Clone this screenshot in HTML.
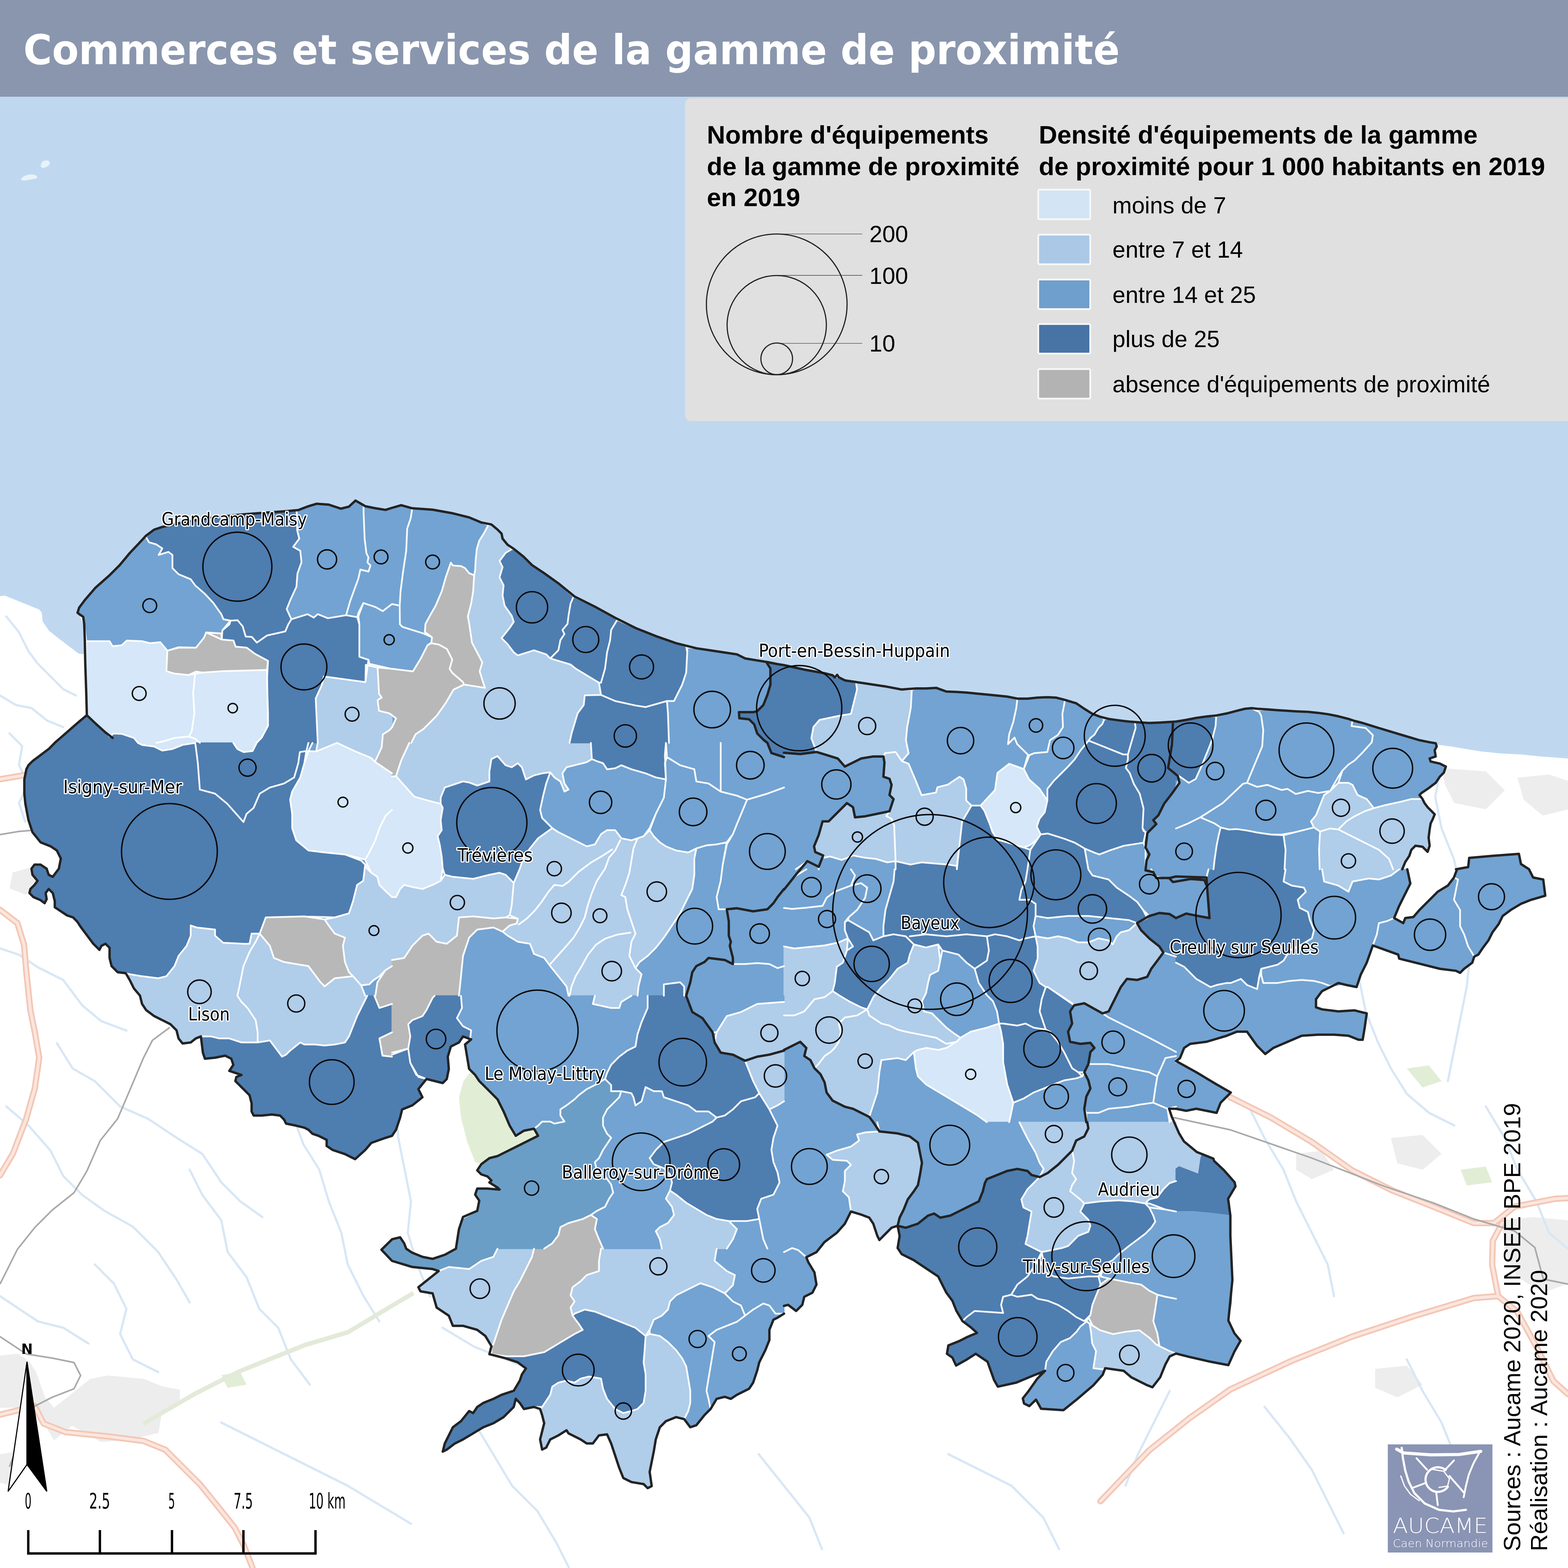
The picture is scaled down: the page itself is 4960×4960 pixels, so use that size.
<!DOCTYPE html>
<html><head><meta charset="utf-8"><title>Commerces et services de la gamme de proximité</title>
<style>
html,body{margin:0;padding:0;background:#fff}
body{width:4960px;height:4960px;overflow:hidden;position:relative}
svg{position:absolute;left:0;top:0;display:block}
.VL{fill:#d5e7f8;stroke:#d5e7f8}.L{fill:#b0cdea;stroke:#b0cdea}.M{fill:#72a3d2;stroke:#72a3d2}.D{fill:#4e7db0;stroke:#4e7db0}.G{fill:#b8b8b8;stroke:#b8b8b8}.MB{fill:#6a9ec6;stroke:#6a9ec6}
#fills polygon{stroke-width:3;stroke-linejoin:round}
.lbl{font-family:"DejaVu Sans Condensed","DejaVu Sans",sans-serif;font-size:57px;fill:#000;stroke:#fff;stroke-width:7px;paint-order:stroke;stroke-linejoin:round}
.leg{font-family:"Liberation Sans",Arial,sans-serif;fill:#000}
</style></head>
<body>
<svg width="4960" height="4960" viewBox="0 0 4960 4960" xmlns="http://www.w3.org/2000/svg">
<rect x="0" y="0" width="4960" height="4960" fill="#ffffff"/>
<g id="basemap"><path d="M0,4288 L57,4282 L91,4305 L114,4339 L142,4419 L171,4453 L285,4362 L342,4351 L456,4362 L512,4385 L569,4396 L569,4442 L512,4470 L501,4533 L399,4556 L319,4561 L228,4510 L171,4556 L114,4464 L57,4453 L0,4453Z" fill="#ededed"/><path d="M0,4600 L60,4590 L90,4640 L40,4700 L0,4690Z" fill="#ededed"/><path d="M4560,2430 L4700,2440 L4760,2500 L4700,2560 L4600,2540 L4570,2480Z" fill="#ededed"/><path d="M4800,2460 L4900,2450 L4960,2470 L4960,2560 L4880,2580 L4820,2530Z" fill="#ededed"/><path d="M4750,3860 L4850,3850 L4960,3860 L4960,4060 L4880,4090 L4800,4040 L4760,3960Z" fill="#ededed"/><path d="M4400,3600 L4500,3590 L4560,3650 L4500,3700 L4420,3680Z" fill="#ededed"/><path d="M4100,3650 L4180,3640 L4220,3700 L4150,3730 L4100,3700Z" fill="#ededed"/><path d="M4350,4330 L4450,4320 L4500,4380 L4420,4420 L4350,4390Z" fill="#ededed"/><path d="M40,2760 L110,2740 L140,2800 L80,2830 L30,2810Z" fill="#ededed"/><path d="M1466,3420 L1490,3388 L1522,3420 L1548,3446 L1580,3478 L1600,3516 L1620,3561 L1640,3593 L1657,3577 L1689,3570 L1702,3593 L1625,3631 L1574,3657 L1548,3663 L1522,3683 L1503,3676 L1478,3612 L1458,3535 L1452,3471Z" fill="#e2edd6"/><path d="M4450,3380 L4520,3370 L4560,3420 L4500,3440Z" fill="#e2edd6"/><path d="M4620,3700 L4700,3690 L4720,3740 L4640,3750Z" fill="#e2edd6"/><path d="M700,4350 L760,4340 L780,4380 L720,4390Z" fill="#e2edd6"/><path d="M1960,4560 L2000,4540 L2020,4600 L1980,4620Z" fill="#e2edd6"/><path d="M0,3000 L60,3020 L120,3060 L200,3100 L260,3180 L320,3230 L400,3260 M180,3300 L230,3380 L300,3420 L380,3500 L470,3540 L560,3600 L640,3650 L700,3740 L760,3800 L830,3850 M20,3500 L90,3560 L160,3640 L200,3720 L260,3780 L330,3830 L420,3880 L500,3960 L560,4050 L600,4120 M600,3700 L640,3780 L700,3860 L720,3960 L780,4040 L820,4140 L880,4200 L920,4300 L980,4380 M900,3450 L930,3540 L960,3620 L1010,3700 L1040,3800 L1080,3900 L1100,4000 L1150,4100 L1200,4180 M1250,3500 L1260,3600 L1280,3700 L1300,3800 L1290,3900 L1320,4000 L1360,4100 M300,4000 L360,4060 L400,4140 L380,4220 L420,4300 L500,4340 M0,4100 L60,4140 L120,4180 L200,4200 L280,4250 M1400,4200 L1500,4260 L1600,4300 L1700,4340 L1800,4380 L1900,4420 L2000,4440 M700,4500 L800,4550 L900,4600 L1000,4650 L1100,4700 L1200,4760 L1300,4820 M1500,4500 L1560,4600 L1620,4700 L1700,4780 L1760,4880 L1800,4960 M2400,4600 L2480,4700 L2560,4800 L2600,4900 M3000,4600 L3100,4650 L3200,4700 L3300,4800 L3350,4900 M3700,4400 L3650,4500 L3600,4600 L3560,4700 M4000,4450 L4080,4550 L4150,4650 L4200,4750 L4250,4850 M4450,4300 L4500,4400 L4560,4500 L4600,4600 L4650,4700 M4560,2420 L4540,2520 L4560,2620 L4600,2720 L4620,2820 L4640,2920 L4650,3020 L4640,3120 L4620,3220 L4600,3320 L4580,3420 M4300,3100 L4320,3200 L4360,3300 L4400,3380 L4450,3460 L4520,3520 L4600,3560 M3950,3500 L4000,3600 L4060,3700 L4100,3800 L4150,3900 L4200,4000 L4220,4100 M4700,3500 L4760,3600 L4800,3700 L4860,3800 L4900,3900 L4960,3950 M20,1950 L60,2000 L90,2060 L120,2100 L160,2140 L200,2180 L240,2200 M0,2200 L50,2230 L100,2240 L150,2280 L200,2300 M30,2320 L70,2360 L60,2420 L90,2480 L60,2540 L80,2600" fill="none" stroke="#d8e7f6" stroke-width="7" stroke-linejoin="round" stroke-linecap="round"/><path d="M454,4503 L620,4407 L757,4338 L964,4255 L1101,4214 L1239,4131 L1308,4090" fill="none" stroke="#e3ead9" stroke-width="14" stroke-linejoin="round"/><path d="M0,2878 L55,2920 L76,2988 L83,3071 L96,3195 L110,3264 L124,3346 L110,3443 L83,3539 L41,3649 L0,3718 M0,4475 L110,4448 L138,4503 L207,4530 L344,4544 L454,4558 L523,4586 L578,4641 L633,4696 L688,4764 L743,4833 L771,4888 L799,4960 M3892,3471 L4020,3535 L4149,3612 L4277,3702 L4405,3766 L4534,3817 L4662,3869 L4726,3869 L4791,3817 L4919,3792 L4960,3790 M3481,4749 L3635,4588 L3764,4485 L3892,4395 L4085,4305 L4277,4228 L4470,4164 L4662,4106 L4739,4100 L4800,4150 L4860,4260 L4914,4369 L4960,4410 M4739,4100 L4720,4000 L4722,3925 L4752,3869 M0,2465 L83,2451" fill="none" stroke="#f3c7b6" stroke-width="20" stroke-linejoin="round" stroke-linecap="round"/><path d="M0,2878 L55,2920 L76,2988 L83,3071 L96,3195 L110,3264 L124,3346 L110,3443 L83,3539 L41,3649 L0,3718 M0,4475 L110,4448 L138,4503 L207,4530 L344,4544 L454,4558 L523,4586 L578,4641 L633,4696 L688,4764 L743,4833 L771,4888 L799,4960 M3892,3471 L4020,3535 L4149,3612 L4277,3702 L4405,3766 L4534,3817 L4662,3869 L4726,3869 L4791,3817 L4919,3792 L4960,3790 M3481,4749 L3635,4588 L3764,4485 L3892,4395 L4085,4305 L4277,4228 L4470,4164 L4662,4106 L4739,4100 L4800,4150 L4860,4260 L4914,4369 L4960,4410 M4739,4100 L4720,4000 L4722,3925 L4752,3869 M0,2465 L83,2451" fill="none" stroke="#fbe6de" stroke-width="9" stroke-linejoin="round" stroke-linecap="round"/><path d="M537,3250 L482,3291 L454,3346 L413,3443 L372,3539 L317,3608 L275,3704 L234,3773 L165,3828 L110,3883 L55,3952 L0,4062 M0,4228 L83,4283 L165,4296 L234,4310 L255,4351 L234,4393 L165,4420 L110,4448 L83,4503 L55,4572 L30,4640 M3712,3535 L3892,3574 L4149,3663 L4380,3753 L4534,3805 L4662,3856 L4791,3894 L4855,3946 L4882,4046 L4960,4062 M0,2640 L60,2630 L120,2625" fill="none" stroke="#a9a9a9" stroke-width="5" stroke-linejoin="round"/></g>
<path id="sea" d="M0.0,306.0 L4960.0,306.0 L4960.0,2399.0 L4960.0,2399.3 L4875.3,2392.9 L4811.1,2386.4 L4746.9,2383.2 L4682.7,2376.8 L4586.5,2360.8 L4544.7,2355.6 L4541.5,2351.1 L4522.3,2347.9 L4490.2,2341.5 L4458.1,2331.9 L4426.0,2322.3 L4393.9,2312.6 L4361.8,2303.0 L4310.5,2287.0 L4284.8,2280.5 L4265.5,2274.1 L4233.5,2265.8 L4201.4,2259.4 L4169.3,2254.9 L4137.2,2251.7 L4105.1,2250.4 L4073.0,2248.4 L4040.9,2246.5 L4008.8,2244.0 L3976.7,2242.0 L3960.7,2240.1 L3938.2,2242.0 L3912.5,2248.4 L3880.5,2256.8 L3848.4,2263.2 L3816.3,2266.4 L3784.2,2270.9 L3752.1,2277.3 L3720.0,2282.5 L3699.5,2283.7 L3667.4,2285.7 L3635.3,2287.0 L3603.2,2285.0 L3571.1,2282.5 L3539.0,2278.6 L3506.9,2274.1 L3481.2,2267.7 L3455.6,2258.1 L3429.9,2242.0 L3404.2,2224.7 L3365.7,2213.1 L3340.0,2206.7 L3314.4,2205.4 L3282.3,2206.7 L3250.2,2209.9 L3218.1,2209.9 L3186.0,2203.5 L3153.9,2200.3 L3121.8,2197.1 L3089.7,2193.9 L3057.6,2190.7 L3025.5,2188.8 L2993.5,2187.5 L2961.4,2175.9 L2929.3,2177.8 L2897.2,2177.8 L2852.3,2181.1 L2800.9,2171.4 L2736.7,2161.8 L2672.5,2152.2 L2653.3,2142.5 L2648.2,2134.8 L2640.5,2142.5 L2634.0,2136.1 L2608.4,2129.7 L2544.2,2118.2 L2480.0,2104.0 L2459.5,2100.7 L2427.4,2094.3 L2395.3,2089.1 L2356.8,2082.7 L2331.1,2069.9 L2266.9,2060.2 L2202.7,2050.6 L2138.6,2034.6 L2074.4,2012.1 L2010.2,1986.4 L1946.0,1954.3 L1881.8,1919.0 L1817.6,1887.0 L1766.3,1845.2 L1721.4,1813.1 L1682.9,1787.5 L1657.2,1761.8 L1625.1,1736.1 L1605.8,1723.3 L1589.8,1704.0 L1586.6,1688.0 L1573.7,1675.2 L1554.5,1659.1 L1522.4,1652.7 L1483.9,1636.6 L1432.5,1623.8 L1368.4,1612.3 L1304.2,1607.8 L1268.9,1598.1 L1240.0,1606.5 L1219.5,1612.9 L1187.4,1607.8 L1155.3,1601.3 L1139.2,1591.7 L1124.5,1583.4 L1103.9,1602.6 L1078.3,1609.0 L1039.8,1596.2 L1001.2,1593.6 L975.6,1601.3 L943.5,1613.5 L898.6,1617.4 L834.4,1621.9 L770.2,1627.0 L706.0,1633.4 L641.8,1641.8 L577.6,1652.7 L513.5,1666.8 L487.8,1675.2 L462.1,1694.4 L436.4,1722.0 L410.8,1749.0 L378.7,1787.5 L346.6,1819.6 L301.7,1859.4 L269.6,1896.6 L250.3,1922.3 L245.2,1938.3 L253.5,1944.7 L263.1,1951.1 L266.4,1973.6 L268.3,2024.9 L269.6,2069.2 L259.0,2069.0 L248.0,2067.0 L181.0,2016.0 L155.0,1995.0 L135.0,1966.0 L132.0,1938.0 L124.0,1928.0 L15.0,1884.0 L0.0,1886.0Z" fill="#bfd8f0"/>
<path d="M70,562 C80,552 100,550 112,554 C122,558 118,566 108,566 C96,567 86,571 74,571 C66,570 64,566 70,562 Z M130,520 C132,510 142,506 152,508 C160,511 158,522 150,526 C142,531 136,532 132,530 C128,527 128,524 130,520 Z" fill="#e9f1f9"/>
<path id="terr" d="M90,2421 L83,2433 L77,2466 L77,2511 L80,2543 L90,2594 L103,2632 L128,2664 L160,2677 L179,2690 L192,2717 L186,2748 L166,2772 L155,2767 L148,2748 L128,2735 L109,2735 L100,2748 L103,2767 L116,2783 L117,2788 L96,2812 L93,2825 L106,2838 L128,2847 L141,2857 L148,2844 L145,2824 L152,2816 L158,2816 L167,2827 L173,2851 L173,2870 L212,2896 L232,2903 L244,2915 L295,2985 L314,3005 L322,2992 L332,2987 L337,2988 L346,3000 L347,3030 L353,3056 L372,3075 L399,3080 L424,3127 L442,3149 L449,3176 L462,3195 L488,3214 L540,3241 L558,3259 L565,3285 L578,3301 L603,3298 L620,3285 L632,3281 L636,3286 L642,3330 L648,3349 L680,3346 L712,3340 L731,3349 L737,3368 L725,3387 L751,3397 L752,3403 L748,3407 L745,3420 L789,3465 L796,3490 L796,3516 L802,3529 L860,3526 L885,3529 L898,3541 L905,3554 L962,3567 L975,3573 L988,3586 L1008,3593 L1031,3605 L1033,3609 L1033,3625 L1052,3638 L1091,3650 L1123,3667 L1155,3638 L1175,3615 L1240,3593 L1253,3574 L1272,3510 L1304,3497 L1336,3471 L1325,3445 L1347,3415 L1353,3414 L1400,3426 L1413,3413 L1420,3381 L1417,3343 L1426,3312 L1452,3298 L1465,3280 L1469,3280 L1481,3286 L1482,3293 L1471,3304 L1484,3381 L1503,3400 L1516,3420 L1574,3478 L1612,3561 L1632,3593 L1657,3577 L1686,3571 L1691,3574 L1699,3588 L1699,3593 L1574,3657 L1548,3663 L1522,3683 L1510,3702 L1522,3715 L1543,3722 L1552,3732 L1548,3740 L1565,3751 L1566,3757 L1561,3761 L1510,3760 L1503,3779 L1516,3799 L1510,3828 L1507,3832 L1458,3856 L1443,3947 L1440,3951 L1407,3969 L1369,3982 L1337,3976 L1304,3963 L1286,3951 L1279,3933 L1266,3914 L1240,3920 L1207,3953 L1240,3989 L1304,4008 L1368,4014 L1379,4018 L1381,4022 L1379,4027 L1323,4072 L1330,4085 L1368,4092 L1381,4136 L1419,4162 L1433,4194 L1465,4194 L1510,4207 L1535,4226 L1554,4257 L1554,4284 L1638,4309 L1660,4326 L1661,4331 L1651,4348 L1644,4368 L1625,4399 L1587,4412 L1529,4438 L1510,4451 L1497,4468 L1484,4463 L1458,4495 L1433,4515 L1407,4566 L1400,4592 L1413,4585 L1439,4566 L1465,4553 L1528,4515 L1561,4502 L1593,4483 L1625,4451 L1630,4434 L1636,4431 L1644,4438 L1657,4457 L1689,4451 L1704,4451 L1708,4454 L1721,4502 L1709,4553 L1715,4585 L1728,4579 L1741,4553 L1789,4527 L1793,4527 L1798,4534 L1837,4553 L1856,4566 L1875,4566 L1895,4541 L1919,4538 L1922,4541 L1933,4566 L1972,4675 L1997,4688 L2035,4695 L2049,4707 L2062,4701 L2055,4656 L2074,4553 L2087,4515 L2107,4496 L2139,4483 L2164,4490 L2183,4515 L2203,4508 L2228,4477 L2248,4457 L2267,4425 L2292,4419 L2312,4425 L2331,4412 L2370,4393 L2382,4374 L2402,4309 L2421,4271 L2434,4239 L2434,4207 L2446,4176 L2480,4155 L2480,4134 L2484,4130 L2494,4129 L2519,4147 L2538,4128 L2544,4103 L2570,4089 L2583,4064 L2576,4025 L2557,3993 L2552,3981 L2553,3977 L2583,3961 L2609,3929 L2647,3900 L2673,3871 L2690,3836 L2694,3834 L2724,3842 L2750,3852 L2762,3871 L2782,3922 L2820,3884 L2834,3879 L2839,3880 L2846,3909 L2839,3948 L2852,3967 L2891,3987 L2968,4039 L2993,4089 L3013,4115 L3026,4147 L3045,4179 L3071,4198 L3085,4213 L3082,4220 L3000,4256 L2995,4282 L3013,4295 L3024,4320 L3084,4284 L3089,4284 L3124,4308 L3144,4365 L3156,4386 L3215,4373 L3279,4347 L3285,4348 L3286,4356 L3235,4424 L3239,4440 L3256,4448 L3272,4432 L3276,4431 L3281,4434 L3293,4456 L3364,4461 L3459,4382 L3488,4348 L3495,4332 L3499,4329 L3554,4336 L3579,4357 L3646,4388 L3670,4357 L3687,4316 L3699,4292 L3719,4282 L3828,4307 L3886,4318 L3905,4276 L3924,4241 L3905,4217 L3886,4176 L3895,4121 L3898,3999 L3892,3910 L3892,3845 L3885,3793 L3908,3753 L3906,3740 L3872,3702 L3841,3673 L3838,3665 L3801,3654 L3786,3644 L3745,3611 L3730,3585 L3721,3564 L3720,3550 L3703,3550 L3699,3547 L3694,3512 L3697,3506 L3714,3503 L3720,3507 L3752,3514 L3785,3507 L3848,3520 L3861,3488 L3893,3456 L3726,3359 L3725,3353 L3733,3347 L3746,3315 L3765,3302 L3816,3296 L3880,3276 L3914,3263 L3945,3265 L3977,3308 L4002,3334 L4029,3315 L4118,3276 L4169,3273 L4221,3273 L4265,3276 L4298,3289 L4310,3289 L4323,3206 L4285,3196 L4233,3199 L4182,3193 L4164,3185 L4163,3162 L4182,3135 L4220,3122 L4259,3116 L4291,3122 L4304,3084 L4323,3045 L4343,2994 L4348,2993 L4420,3019 L4423,3022 L4426,3032 L4554,3064 L4605,3071 L4619,3077 L4632,3064 L4657,3045 L4663,3027 L4676,3020 L4708,2975 L4721,2949 L4740,2923 L4754,2897 L4779,2878 L4811,2859 L4843,2846 L4888,2833 L4882,2782 L4849,2775 L4837,2750 L4811,2732 L4805,2701 L4647,2714 L4643,2742 L4606,2750 L4607,2755 L4599,2775 L4580,2801 L4548,2821 L4490,2878 L4472,2900 L4445,2904 L4441,2915 L4436,2918 L4413,2905 L4412,2900 L4426,2866 L4461,2795 L4452,2750 L4442,2750 L4439,2745 L4445,2727 L4458,2707 L4465,2688 L4476,2677 L4499,2679 L4516,2695 L4522,2675 L4519,2649 L4522,2624 L4526,2604 L4538,2576 L4516,2553 L4492,2515 L4497,2508 L4542,2476 L4554,2457 L4567,2444 L4574,2425 L4554,2415 L4528,2409 L4525,2406 L4526,2399 L4542,2393 L4539,2374 L4545,2361 L4542,2351 L4490,2341 L4234,2266 L4169,2255 L4009,2244 L3972,2246 L3961,2240 L3938,2242 L3847,2266 L3816,2266 L3708,2285 L3635,2287 L3571,2282 L3507,2274 L3494,2275 L3456,2258 L3404,2225 L3340,2207 L3314,2205 L3250,2210 L3218,2210 L3186,2204 L3058,2191 L2994,2187 L2961,2176 L2897,2178 L2884,2182 L2852,2181 L2673,2152 L2637,2136 L2480,2104 L2358,2083 L2331,2070 L2175,2047 L2170,2044 L2074,2012 L1953,1961 L1946,1954 L1882,1919 L1815,1887 L1766,1845 L1683,1787 L1657,1762 L1625,1736 L1617,1735 L1590,1705 L1587,1688 L1554,1659 L1544,1660 L1484,1637 L1432,1624 L1369,1612 L1304,1608 L1269,1598 L1218,1613 L1150,1599 L1124,1583 L1104,1602 L1079,1609 L1040,1596 L1001,1594 L938,1614 L770,1627 L642,1642 L578,1653 L514,1667 L488,1675 L461,1698 L436,1722 L378,1788 L347,1819 L302,1860 L250,1922 L245,1938 L254,1946 L266,1973 L273,2028 L270,2096 L274,2261 L173,2350 L154,2370 L103,2408 L90,2421Z" fill="#72a3d2"/>
<g id="fills">
<polygon class="M" points="266.4,1973.6 253.5,1944.7 245.2,1938.3 250.3,1922.3 269.6,1896.6 301.7,1859.4 346.6,1819.6 378.7,1787.5 410.8,1749.0 436.4,1722.0 460.8,1697.6 471.7,1715.6 494.2,1722.0 513.5,1734.8 501.9,1755.4 532.7,1745.8 545.5,1755.4 545.5,1797.1 564.8,1816.4 603.3,1832.4 617.4,1851.7 648.2,1878.6 674.6,1906.9 700.2,1942.8 706.6,1958.8 729.1,1963.3 725.9,1974.9 703.4,1994.1 701.5,2023.0 652.1,2000.6 645.7,2016.6 620.0,2048.7 564.8,2047.4 529.5,2058.3 507.0,2031.4 474.9,2034.6 449.3,2028.2 401.1,2026.2 385.1,2041.0 356.2,2044.2 346.6,2028.2 272.8,2028.2"/>
<polygon class="D" points="460.8,1697.6 487.8,1675.2 513.5,1666.8 577.6,1652.7 641.8,1641.8 706.0,1633.4 770.2,1627.0 834.4,1621.9 898.6,1617.4 938.3,1614.2 940.3,1678.4 946.7,1704.0 927.4,1729.7 949.9,1742.5 953.7,1778.5 940.9,1814.4 937.7,1856.1 918.4,1897.9 906.9,1926.7 921.7,1958.8 912.0,1974.9 902.4,1997.3 844.6,2010.2 812.5,2032.7 796.5,2014.7 777.2,2013.4 767.6,1981.3 751.6,1962.0 729.1,1963.3 706.6,1958.8 700.2,1942.8 674.6,1906.9 648.2,1878.6 617.4,1851.7 603.3,1832.4 564.8,1816.4 545.5,1797.1 545.5,1755.4 532.7,1745.8 501.9,1755.4 513.5,1734.8 494.2,1722.0 471.7,1715.6"/>
<polygon class="M" points="938.3,1614.2 975.6,1601.3 1001.2,1593.6 1039.8,1596.2 1078.3,1609.0 1103.9,1602.6 1124.5,1583.4 1139.2,1591.7 1150.1,1598.8 1150.1,1620.6 1153.4,1704.0 1159.1,1750.2 1165.5,1763.1 1162.3,1779.1 1172.0,1788.8 1165.5,1808.0 1139.9,1801.6 1133.5,1830.5 1107.8,1901.1 1094.9,1946.0 1037.2,1955.6 1005.1,1942.8 992.3,1953.7 973.0,1942.8 921.7,1958.8 906.9,1926.7 918.4,1897.9 937.7,1856.1 940.9,1814.4 953.7,1778.5 949.9,1742.5 927.4,1729.7 946.7,1704.0 940.3,1678.4"/>
<polygon class="M" points="1150.1,1598.8 1187.4,1607.8 1219.5,1612.9 1240.0,1607.8 1240.0,1910.7 1210.5,1933.2 1188.0,1920.3 1149.5,1907.5 1133.5,1939.6 1130.2,1952.4 1094.9,1946.0 1107.8,1901.1 1133.5,1830.5 1139.9,1801.6 1165.5,1808.0 1172.0,1788.8 1162.3,1779.1 1165.5,1763.1 1159.1,1750.2 1153.4,1704.0 1150.1,1620.6"/>
<polygon class="M" points="1133.5,1949.2 1149.5,1907.5 1188.0,1920.3 1210.5,1933.2 1240.0,1910.7 1240.0,2116.1 1168.8,2100.0 1165.5,2087.2 1136.7,2077.6 1136.7,1974.9"/>
<polygon class="D" points="729.1,1963.3 751.6,1962.0 767.6,1981.3 777.2,2013.4 796.5,2014.7 812.5,2032.7 844.6,2010.2 902.4,1997.3 912.0,1974.9 921.7,1958.8 973.0,1942.8 992.3,1953.7 1005.1,1942.8 1037.2,1955.6 1094.9,1946.0 1130.2,1952.4 1136.7,1974.9 1136.7,2077.6 1165.5,2087.2 1155.9,2157.8 1024.3,2139.8 1017.9,2167.4 998.7,2209.2 1005.1,2349.7 811.9,2349.7 828.0,2333.0 847.8,2295.8 844.6,2151.4 847.8,2090.4 806.1,2068.0 780.5,2048.7 745.2,2045.5 738.7,2026.2 701.5,2023.0 703.4,1994.1"/>
<polygon class="G" points="529.5,2058.3 564.8,2048.7 620.0,2048.7 645.7,2016.6 652.1,2000.6 700.2,2003.8 701.5,2023.0 738.7,2026.2 745.2,2045.5 780.5,2048.7 806.1,2068.0 847.8,2090.4 844.6,2119.3 770.2,2121.2 706.0,2123.1 641.8,2127.6 620.0,2124.4 596.9,2135.3 552.0,2130.8 526.3,2123.1"/>
<polygon class="VL" points="272.8,2028.2 346.6,2028.2 356.2,2044.2 385.1,2041.0 401.1,2026.2 449.3,2028.2 474.9,2034.6 507.0,2031.4 529.5,2058.3 526.3,2123.1 552.0,2130.8 596.9,2135.3 617.4,2130.8 611.0,2191.8 614.9,2256.0 606.5,2313.8 596.9,2329.8 552.0,2334.3 513.5,2345.9 494.2,2349.7 436.4,2349.7 423.6,2334.3 385.1,2321.5 359.4,2320.2 346.6,2329.8 333.7,2317.0 301.7,2288.1 274.7,2262.4 272.8,2191.8 269.6,2095.5"/>
<polygon class="VL" points="617.4,2130.8 641.8,2127.6 706.0,2123.1 770.2,2121.2 844.6,2119.3 845.9,2191.8 847.8,2256.0 847.8,2295.8 828.0,2333.0 811.9,2349.7 632.2,2349.7 616.1,2336.2 596.9,2329.8 606.5,2313.8 614.9,2256.0 611.0,2191.8"/>
<polygon class="L" points="1024.3,2139.8 1155.9,2157.8 1157.2,2103.3 1194.4,2111.6 1198.9,2194.4 1207.3,2206.6 1194.4,2214.9 1198.9,2248.3 1231.7,2256.6 1240.0,2262.4 1240.0,2300.9 1231.7,2309.9 1211.1,2322.8 1208.6,2349.7 1005.1,2349.7 998.7,2209.2 1017.9,2167.4"/>
<polygon class="G" points="1194.4,2111.6 1240.0,2115.4 1240.0,2262.4 1231.7,2256.6 1198.9,2248.3 1194.4,2214.9 1207.3,2206.6 1198.9,2194.4"/>
<polygon class="G" points="1240.0,2300.9 1240.0,2349.7 1208.6,2349.7 1211.1,2322.8 1231.7,2309.9"/>
<polygon class="D" points="173.3,2349.7 192.5,2333.0 243.9,2288.1 274.7,2262.4 301.7,2288.1 333.7,2317.0 346.6,2329.8 359.4,2320.2 385.1,2321.5 423.6,2334.3 436.4,2349.7"/>
<polygon class="VL" points="494.2,2349.7 513.5,2345.9 552.0,2334.3 596.9,2329.8 616.1,2336.2 632.2,2349.7"/>
<polygon class="D" points="173.3,2350.0 436.4,2350.0 449.3,2356.4 487.8,2361.6 513.5,2374.4 545.5,2369.3 577.6,2356.4 617.4,2350.0 619.4,2362.8 625.8,2414.2 632.2,2497.6 680.3,2510.5 718.8,2542.5 770.2,2600.3 779.8,2574.6 802.3,2555.4 821.5,2510.5 853.6,2491.2 898.6,2478.4 930.6,2459.1 943.5,2414.2 948.6,2378.9 969.2,2375.7 975.6,2350.0 988.4,2350.0 975.6,2375.7 962.7,2414.2 949.9,2459.1 924.2,2504.0 917.8,2529.7 924.2,2574.6 924.2,2619.6 937.1,2658.1 975.6,2690.2 1026.9,2696.6 1091.1,2703.0 1142.4,2722.3 1155.3,2735.1 1148.9,2786.4 1129.6,2799.3 1116.8,2850.6 1103.9,2889.1 1059.0,2902.0 962.7,2898.8 840.8,2902.0 821.5,2953.3 795.9,2953.3 789.4,2985.4 770.2,2985.4 706.0,2982.2 680.3,2959.7 680.3,2940.5 622.6,2934.1 603.3,2927.6 603.3,2959.7 590.5,2991.8 564.8,3023.9 552.0,3056.0 526.3,3088.1 500.6,3094.5 449.3,3088.1 410.8,3081.7 397.9,3078.5 372.3,3075.3 353.0,3056.0 346.6,3030.3 346.6,2998.2 333.7,2985.4 320.9,2991.8 314.5,3004.7 295.2,2985.4 276.0,2959.7 256.7,2934.1 243.9,2914.8 231.1,2902.0 211.8,2895.5 192.5,2882.7 173.3,2869.9 173.3,2850.6 166.9,2824.9 154.0,2812.1 144.4,2824.9 147.6,2844.2 141.2,2857.0 128.4,2847.4 105.9,2837.8 93.1,2824.9 96.3,2812.1 109.1,2799.3 118.7,2786.4 102.7,2767.2 99.5,2747.9 109.1,2735.1 128.4,2735.1 147.6,2747.9 154.0,2767.2 166.9,2773.6 186.1,2747.9 192.5,2715.8 179.7,2690.2 160.5,2677.3 128.4,2664.5 102.7,2632.4 89.9,2593.9 80.2,2542.5 77.0,2510.5 77.0,2465.5 83.4,2433.4 89.9,2420.6 102.7,2407.8 128.4,2388.5 154.0,2369.3"/>
<polygon class="D" points="617.4,2350.0 738.1,2350.0 750.9,2369.3 770.2,2378.9 799.1,2375.7 808.7,2356.4 811.9,2350.0 975.6,2350.0 969.2,2375.7 948.6,2378.9 943.5,2414.2 930.6,2459.1 898.6,2478.4 853.6,2491.2 821.5,2510.5 802.3,2555.4 779.8,2574.6 770.2,2600.3 718.8,2542.5 680.3,2510.5 632.2,2497.6 625.8,2414.2 619.4,2362.8"/>
<polygon class="VL" points="436.4,2350.0 617.4,2350.0 577.6,2356.4 545.5,2369.3 513.5,2374.4 487.8,2361.6 449.3,2356.4"/>
<polygon class="VL" points="738.1,2350.0 811.9,2350.0 808.7,2356.4 799.1,2375.7 770.2,2378.9 750.9,2369.3"/>
<polygon class="VL" points="969.2,2375.7 1000.0,2377.0 1066.1,2350.0 1124.5,2377.0 1173.9,2397.5 1186.1,2409.7 1240.0,2446.3 1240.0,2561.8 1219.5,2581.1 1200.2,2619.6 1187.4,2658.1 1168.1,2696.6 1155.3,2719.0 1091.1,2703.0 1026.9,2696.6 975.6,2690.2 937.1,2658.1 924.2,2619.6 924.2,2574.6 917.8,2529.7 924.2,2504.0 949.9,2459.1 962.7,2414.2"/>
<polygon class="L" points="1005.1,2350.0 1208.6,2350.0 1207.3,2364.1 1186.1,2409.7 1173.9,2397.5 1124.5,2377.0 1066.1,2350.0 1000.0,2377.0"/>
<polygon class="G" points="1208.6,2350.0 1240.0,2350.0 1240.0,2446.3 1186.1,2409.7 1207.3,2364.1"/>
<polygon class="VL" points="1240.0,2561.8 1240.0,2837.8 1219.5,2818.5 1200.2,2799.3 1193.8,2773.6 1174.5,2760.8 1161.7,2735.1 1155.3,2719.0 1168.1,2696.6 1187.4,2658.1 1200.2,2619.6 1219.5,2581.1"/>
<polygon class="L" points="1155.3,2735.1 1161.7,2747.9 1174.5,2760.8 1193.8,2773.6 1200.2,2799.3 1219.5,2818.5 1240.0,2837.8 1240.0,3056.0 1219.5,3068.8 1200.2,3088.1 1181.0,3100.9 1168.1,3113.8 1142.4,3117.0 1116.8,3088.1 1103.9,3075.3 1091.1,3043.2 1084.7,2991.8 1091.1,2966.1 1059.0,2953.3 1039.8,2927.6 1026.9,2908.4 1059.0,2902.0 1103.9,2889.1 1116.8,2850.6 1129.6,2799.3 1148.9,2786.4"/>
<polygon class="G" points="840.8,2902.0 962.7,2898.8 1026.9,2908.4 1039.8,2927.6 1059.0,2953.3 1091.1,2966.1 1084.7,2991.8 1091.1,3043.2 1103.9,3075.3 1116.8,3088.1 1059.0,3094.5 1026.9,3120.2 1014.1,3107.3 975.6,3056.0 898.6,3043.2 866.5,3030.3 853.6,2991.8 821.5,2953.3"/>
<polygon class="L" points="603.3,2927.6 622.6,2934.1 680.3,2940.5 680.3,2959.7 706.0,2982.2 770.2,2985.4 789.4,2985.4 795.9,2953.3 821.5,2953.3 808.7,2979.0 789.4,3011.1 770.2,3056.0 757.3,3120.2 750.9,3149.7 442.9,3149.7 423.6,3126.6 410.8,3100.9 397.9,3078.5 410.8,3081.7 449.3,3088.1 500.6,3094.5 526.3,3088.1 552.0,3056.0 564.8,3023.9 590.5,2991.8 603.3,2959.7"/>
<polygon class="L" points="821.5,2953.3 853.6,2991.8 866.5,3030.3 898.6,3043.2 975.6,3056.0 1014.1,3107.3 1026.9,3120.2 1059.0,3094.5 1116.8,3088.1 1142.4,3117.0 1155.3,3149.7 750.9,3149.7 757.3,3120.2 770.2,3056.0 789.4,3011.1 808.7,2979.0"/>
<polygon class="G" points="1240.0,3056.0 1240.0,3149.7 1187.4,3149.7 1193.8,3107.3 1219.5,3068.8"/>
<polygon class="G" points="1240.0,2350.0 1294.6,2350.0 1268.9,2405.8 1252.8,2455.3 1240.0,2456.5"/>
<polygon class="L" points="1294.6,2350.0 1869.0,2350.0 1872.2,2401.3 1856.1,2411.0 1817.6,2420.6 1792.0,2427.0 1779.1,2446.3 1785.5,2478.4 1798.4,2497.6 1785.5,2504.0 1772.7,2471.9 1753.5,2459.1 1740.6,2443.1 1714.9,2446.3 1689.3,2452.7 1663.6,2465.5 1650.8,2427.0 1637.9,2414.2 1618.7,2427.0 1599.4,2420.6 1573.7,2391.7 1554.5,2401.3 1548.1,2439.9 1548.1,2471.9 1509.6,2484.8 1483.9,2475.2 1464.6,2471.9 1445.4,2478.4 1406.9,2491.2 1394.0,2523.3 1394.0,2542.5 1355.5,2532.9 1310.6,2520.1 1252.8,2455.3 1268.9,2405.8"/>
<polygon class="VL" points="1240.0,2456.5 1252.8,2455.3 1310.6,2520.1 1355.5,2532.9 1394.0,2542.5 1400.5,2555.4 1394.0,2593.9 1397.2,2626.0 1384.4,2645.2 1390.8,2670.9 1397.2,2709.4 1400.5,2747.9 1394.0,2786.4 1368.4,2799.3 1336.3,2812.1 1304.2,2805.7 1278.5,2799.3 1265.7,2812.1 1252.8,2837.8 1240.0,2837.8"/>
<polygon class="D" points="1394.0,2542.5 1394.0,2523.3 1406.9,2491.2 1445.4,2478.4 1464.6,2471.9 1483.9,2475.2 1509.6,2484.8 1548.1,2471.9 1548.1,2439.9 1554.5,2401.3 1573.7,2391.7 1599.4,2420.6 1618.7,2427.0 1637.9,2414.2 1650.8,2427.0 1663.6,2465.5 1689.3,2452.7 1714.9,2446.3 1740.6,2443.1 1727.8,2478.4 1718.2,2516.9 1708.5,2561.8 1714.9,2587.5 1734.2,2606.7 1747.0,2619.6 1702.1,2651.7 1676.4,2683.7 1657.2,2709.4 1644.3,2747.9 1625.1,2792.9 1599.4,2767.2 1580.2,2760.8 1548.1,2767.2 1522.4,2773.6 1496.7,2780.0 1464.6,2776.8 1432.5,2773.6 1406.9,2767.2 1400.5,2747.9 1397.2,2709.4 1390.8,2670.9 1384.4,2645.2 1397.2,2626.0 1394.0,2593.9 1400.5,2555.4"/>
<polygon class="M" points="1740.6,2443.1 1753.5,2459.1 1772.7,2471.9 1785.5,2504.0 1798.4,2497.6 1785.5,2478.4 1779.1,2446.3 1792.0,2427.0 1817.6,2420.6 1856.1,2411.0 1872.2,2401.3 1888.2,2407.8 1907.5,2414.2 1920.3,2433.4 1946.0,2430.2 1965.3,2420.6 1997.3,2433.4 2042.3,2446.3 2074.4,2459.1 2106.5,2465.5 2100.0,2523.3 2074.4,2574.6 2055.1,2619.6 2035.9,2645.2 2016.6,2651.7 1997.3,2658.1 1965.3,2651.7 1946.0,2626.0 1920.3,2626.0 1901.1,2638.8 1881.8,2670.9 1856.1,2677.3 1817.6,2658.1 1792.0,2645.2 1766.3,2632.4 1747.0,2619.6 1734.2,2606.7 1714.9,2587.5 1708.5,2561.8 1718.2,2516.9 1727.8,2478.4"/>
<polygon class="D" points="1869.0,2350.0 2106.5,2350.0 2103.3,2388.5 2106.5,2465.5 2074.4,2459.1 2042.3,2446.3 1997.3,2433.4 1965.3,2420.6 1946.0,2430.2 1920.3,2433.4 1907.5,2414.2 1888.2,2407.8 1872.2,2401.3"/>
<polygon class="M" points="2106.5,2350.0 2279.8,2350.0 2279.8,2504.0 2241.2,2478.4 2202.7,2471.9 2196.3,2433.4 2151.4,2420.6 2109.7,2394.9"/>
<polygon class="M" points="2109.7,2394.9 2151.4,2420.6 2196.3,2433.4 2202.7,2471.9 2241.2,2478.4 2279.8,2504.0 2331.1,2516.9 2363.2,2529.7 2331.1,2606.7 2318.3,2638.8 2299.0,2664.5 2266.9,2670.9 2234.8,2674.1 2202.7,2683.7 2177.1,2696.6 2138.6,2690.2 2106.5,2677.3 2087.2,2664.5 2068.0,2645.2 2055.1,2626.0 2074.4,2574.6 2100.0,2523.3 2106.5,2465.5 2103.3,2414.2"/>
<polygon class="M" points="2279.8,2350.0 2427.4,2350.0 2440.2,2382.1 2480.0,2394.9 2480.0,2491.2 2427.4,2510.5 2363.2,2529.7 2331.1,2516.9 2279.8,2504.0 2279.8,2433.4"/>
<polygon class="D" points="2427.4,2350.0 2480.0,2350.0 2480.0,2394.9 2440.2,2382.1"/>
<polygon class="M" points="2363.2,2529.7 2427.4,2510.5 2480.0,2491.2 2480.0,2812.1 2459.5,2837.8 2446.6,2857.0 2427.4,2876.3 2382.4,2882.7 2331.1,2873.1 2299.0,2876.3 2273.3,2876.3 2266.9,2837.8 2279.8,2786.4 2286.2,2735.1 2299.0,2670.9 2318.3,2638.8 2331.1,2606.7"/>
<polygon class="M" points="2202.7,2683.7 2234.8,2674.1 2266.9,2670.9 2299.0,2664.5 2286.2,2735.1 2279.8,2786.4 2266.9,2837.8 2273.3,2876.3 2299.0,2876.3 2305.4,2914.8 2305.4,2959.7 2311.8,2979.0 2308.6,2991.8 2318.3,3030.3 2318.3,3049.6 2292.6,3036.7 2241.2,3030.3 2228.4,3043.2 2202.7,3056.0 2189.9,3075.3 2183.5,3107.3 2170.6,3149.7 2016.6,3149.7 2019.8,3120.2 2029.4,3081.7 2010.2,3062.4 2023.0,3043.2 2048.7,3023.9 2074.4,2998.2 2100.0,2966.1 2125.7,2927.6 2151.4,2889.1 2170.6,2850.6 2189.9,2812.1 2196.3,2767.2 2196.3,2715.8"/>
<polygon class="D" points="2100.0,3113.8 2151.4,3107.3 2164.2,3120.2 2164.2,3149.7 2100.0,3149.7"/>
<polygon class="L" points="2016.6,2651.7 2035.9,2645.2 2055.1,2626.0 2068.0,2645.2 2087.2,2664.5 2106.5,2677.3 2138.6,2690.2 2177.1,2696.6 2202.7,2683.7 2196.3,2715.8 2196.3,2767.2 2189.9,2812.1 2170.6,2850.6 2151.4,2889.1 2125.7,2927.6 2100.0,2966.1 2074.4,2998.2 2048.7,3023.9 2023.0,3043.2 2010.2,3062.4 1990.9,3023.9 1997.3,2979.0 2010.2,2953.3 1997.3,2914.8 1984.5,2876.3 1978.1,2837.8 1965.3,2831.4 1978.1,2799.3 1990.9,2760.8 1997.3,2722.3 2003.8,2683.7"/>
<polygon class="L" points="1240.0,2837.8 1252.8,2837.8 1265.7,2812.1 1278.5,2799.3 1304.2,2805.7 1336.3,2812.1 1368.4,2799.3 1394.0,2786.4 1406.9,2767.2 1432.5,2773.6 1464.6,2776.8 1496.7,2780.0 1522.4,2773.6 1548.1,2767.2 1580.2,2760.8 1599.4,2767.2 1625.1,2792.9 1618.7,2863.5 1612.3,2895.5 1599.4,2902.0 1560.9,2905.2 1496.7,2898.8 1451.8,2902.0 1445.4,2959.7 1413.3,2985.4 1381.2,2979.0 1355.5,2953.3 1336.3,2959.7 1304.2,2991.8 1278.5,3030.3 1240.0,3036.7"/>
<polygon class="G" points="1451.8,2902.0 1496.7,2898.8 1560.9,2905.2 1599.4,2902.0 1637.9,2905.8 1634.7,2921.2 1612.3,2927.6 1589.8,2946.9 1560.9,2934.1 1509.6,2940.5 1483.9,2966.1 1464.6,3023.9 1458.2,3088.1 1451.8,3149.7 1240.0,3149.7 1240.0,3036.7 1278.5,3030.3 1304.2,2991.8 1336.3,2959.7 1355.5,2953.3 1381.2,2979.0 1413.3,2985.4 1445.4,2959.7"/>
<polygon class="M" points="1509.6,2940.5 1560.9,2934.1 1589.8,2946.9 1605.8,2959.7 1637.9,2979.0 1676.4,2985.4 1689.3,3017.5 1721.4,3030.3 1740.6,3056.0 1766.3,3088.1 1792.0,3120.2 1798.4,3149.7 1451.8,3149.7 1458.2,3088.1 1464.6,3023.9 1483.9,2966.1"/>
<polygon class="L" points="1625.1,2792.9 1644.3,2747.9 1657.2,2709.4 1676.4,2683.7 1702.1,2651.7 1747.0,2619.6 1766.3,2632.4 1792.0,2645.2 1817.6,2658.1 1856.1,2677.3 1881.8,2670.9 1901.1,2638.8 1920.3,2626.0 1946.0,2626.0 1965.3,2651.7 1997.3,2658.1 2016.6,2651.7 2003.8,2683.7 1997.3,2722.3 1990.9,2760.8 1978.1,2799.3 1965.3,2831.4 1978.1,2837.8 1984.5,2876.3 1997.3,2914.8 2010.2,2953.3 1997.3,2979.0 1990.9,3023.9 2010.2,3062.4 2029.4,3081.7 2019.8,3120.2 2016.6,3149.7 1798.4,3149.7 1792.0,3120.2 1766.3,3088.1 1740.6,3056.0 1721.4,3030.3 1689.3,3017.5 1676.4,2985.4 1637.9,2979.0 1605.8,2959.7 1589.8,2946.9 1612.3,2927.6 1634.7,2921.2 1637.9,2905.8 1612.3,2895.5 1618.7,2863.5"/>
<polygon class="M" points="2299.0,2876.3 2331.1,2873.1 2382.4,2882.7 2427.4,2876.3 2446.6,2857.0 2459.5,2837.8 2480.0,2812.1 2480.0,3056.0 2459.5,3062.4 2433.8,3049.6 2395.3,3046.4 2356.8,3049.6 2318.3,3049.6 2318.3,3030.3 2308.6,2991.8 2311.8,2979.0 2305.4,2959.7 2305.4,2914.8"/>
<polygon class="M" points="2318.3,3049.6 2356.8,3049.6 2395.3,3046.4 2433.8,3049.6 2459.5,3062.4 2480.0,3056.0 2480.0,3149.7 2170.6,3149.7 2183.5,3107.3 2189.9,3075.3 2202.7,3056.0 2228.4,3043.2 2241.2,3030.3 2292.6,3036.7"/>
<polygon class="M" points="1240.0,1606.5 1268.9,1598.1 1304.2,1607.8 1299.0,1639.9 1288.1,1671.9 1284.9,1742.5 1275.3,1806.7 1267.0,1870.9 1264.4,1915.8 1240.0,1910.7"/>
<polygon class="M" points="1304.2,1607.8 1368.4,1612.3 1432.5,1623.8 1483.9,1636.6 1522.4,1652.7 1544.9,1660.4 1532.0,1684.8 1516.0,1710.5 1508.3,1736.1 1504.4,1774.6 1503.1,1803.5 1499.9,1819.6 1483.9,1813.1 1471.1,1797.1 1458.2,1790.7 1432.5,1788.8 1426.1,1779.8 1410.1,1826.0 1397.2,1870.9 1378.0,1915.8 1358.7,1949.9 1345.9,1973.6 1344.0,1999.3 1366.4,2016.0 1339.5,2003.8 1273.4,1983.2 1265.0,1974.9 1264.4,1915.8 1267.0,1870.9 1275.3,1806.7 1284.9,1742.5 1288.1,1671.9 1299.0,1639.9"/>
<polygon class="M" points="1240.0,1910.7 1264.4,1915.8 1265.0,1974.9 1273.4,1983.2 1339.5,2003.8 1366.4,2016.0 1364.5,2032.7 1352.3,2041.0 1331.1,2082.7 1306.1,2123.8 1240.0,2115.4"/>
<polygon class="G" points="1426.1,1779.8 1432.5,1788.8 1458.2,1790.7 1471.1,1797.1 1483.9,1813.1 1499.9,1819.6 1496.7,1870.9 1490.3,1909.4 1480.0,1949.9 1484.5,1974.9 1492.9,2032.7 1525.6,2094.9 1517.3,2123.8 1534.0,2175.8 1467.8,2165.5 1464.0,2157.2 1430.6,2128.3 1422.3,2115.4 1430.6,2086.6 1413.9,2053.2 1388.9,2039.1 1364.5,2034.6 1366.4,2016.0 1344.0,1999.3 1345.9,1973.6 1358.7,1949.9 1378.0,1915.8 1397.2,1870.9 1410.1,1826.0"/>
<polygon class="G" points="1240.0,2115.4 1306.1,2123.8 1331.1,2082.7 1352.3,2041.0 1364.5,2034.6 1388.9,2039.1 1413.9,2053.2 1430.6,2086.6 1422.3,2115.4 1430.6,2128.3 1464.0,2157.2 1467.8,2165.5 1434.5,2181.6 1410.1,2223.3 1381.2,2264.3 1339.5,2306.1 1314.5,2322.8 1301.0,2349.7 1240.0,2349.7 1240.0,2300.9 1252.8,2272.7 1240.0,2262.4"/>
<polygon class="L" points="1544.9,1660.4 1554.5,1659.1 1573.7,1675.2 1586.6,1688.0 1589.8,1704.0 1605.8,1723.3 1618.7,1737.4 1599.4,1749.0 1580.2,1774.6 1589.8,1793.9 1580.2,1826.0 1593.0,1851.7 1589.8,1883.7 1596.2,1915.8 1618.7,1947.9 1625.1,1967.2 1612.3,1986.4 1586.6,2018.5 1605.8,2037.8 1625.1,2063.5 1637.9,2073.1 1689.3,2057.0 1727.8,2069.9 1740.6,2082.7 1804.8,2102.0 1820.8,2114.8 1894.7,2159.7 1901.1,2198.2 1849.7,2199.5 1846.5,2230.3 1827.3,2256.0 1808.0,2320.2 1801.6,2349.7 1301.0,2349.7 1314.5,2322.8 1339.5,2306.1 1381.2,2264.3 1410.1,2223.3 1434.5,2181.6 1467.8,2165.5 1534.0,2175.8 1517.3,2123.8 1525.6,2094.9 1492.9,2032.7 1484.5,1974.9 1480.0,1949.9 1490.3,1909.4 1496.7,1870.9 1499.9,1819.6 1503.1,1803.5 1504.4,1774.6 1508.3,1736.1 1516.0,1710.5 1532.0,1684.8"/>
<polygon class="D" points="1618.7,1737.4 1625.1,1736.1 1657.2,1761.8 1682.9,1787.5 1721.4,1813.1 1766.3,1845.2 1814.4,1887.0 1804.8,1909.4 1798.4,1947.9 1795.2,1973.6 1779.1,1992.9 1785.5,2005.7 1772.7,2024.9 1766.3,2057.0 1740.6,2082.7 1727.8,2069.9 1689.3,2057.0 1637.9,2073.1 1625.1,2063.5 1605.8,2037.8 1586.6,2018.5 1612.3,1986.4 1625.1,1967.2 1618.7,1947.9 1596.2,1915.8 1589.8,1883.7 1593.0,1851.7 1580.2,1826.0 1589.8,1793.9 1580.2,1774.6 1599.4,1749.0"/>
<polygon class="D" points="1814.4,1887.0 1881.8,1919.0 1946.0,1954.3 1952.4,1960.8 1933.2,1992.9 1930.0,2024.9 1920.3,2063.5 1913.9,2114.8 1901.1,2159.7 1894.7,2159.7 1820.8,2114.8 1804.8,2102.0 1740.6,2082.7 1766.3,2057.0 1772.7,2024.9 1785.5,2005.7 1779.1,1992.9 1795.2,1973.6 1798.4,1947.9 1804.8,1909.4"/>
<polygon class="D" points="1952.4,1960.8 2010.2,1986.4 2074.4,2012.1 2138.6,2034.6 2170.6,2044.2 2173.9,2063.5 2170.6,2127.6 2157.8,2166.1 2132.1,2217.5 2109.7,2217.5 2042.3,2236.7 2010.2,2231.6 1946.0,2217.5 1901.1,2198.2 1894.7,2159.7 1901.1,2159.7 1913.9,2114.8 1920.3,2063.5 1930.0,2024.9 1933.2,1992.9"/>
<polygon class="D" points="1849.7,2199.5 1901.1,2198.2 1946.0,2217.5 2010.2,2231.6 2042.3,2236.7 2109.7,2217.5 2112.9,2256.0 2116.1,2349.7 1801.6,2349.7 1808.0,2320.2 1827.3,2256.0 1846.5,2230.3"/>
<polygon class="M" points="2173.9,2047.4 2202.7,2050.6 2266.9,2060.2 2331.1,2069.9 2356.8,2082.7 2395.3,2089.1 2424.2,2094.3 2437.0,2114.8 2437.0,2166.1 2427.4,2198.2 2414.5,2230.3 2395.3,2249.6 2382.4,2252.8 2337.5,2252.8 2338.8,2272.0 2369.6,2275.3 2385.7,2291.3 2395.3,2320.2 2414.5,2339.4 2427.4,2349.7 2116.1,2349.7 2112.9,2256.0 2109.7,2217.5 2132.1,2217.5 2157.8,2166.1 2170.6,2127.6 2173.9,2063.5"/>
<polygon class="D" points="2424.2,2094.3 2459.5,2100.7 2480.0,2103.9 2480.0,2349.7 2427.4,2349.7 2414.5,2339.4 2395.3,2320.2 2385.7,2291.3 2369.6,2275.3 2338.8,2272.0 2337.5,2252.8 2382.4,2252.8 2395.3,2249.6 2414.5,2230.3 2427.4,2198.2 2437.0,2166.1 2437.0,2114.8"/>
<polygon class="MB" points="1206.6,3953.2 1240.0,3920.5 1284.9,3950.0 1304.2,3962.8 1336.3,3975.7 1368.4,3982.1 1406.9,3969.3 1442.2,3950.0 1573.7,3950.0 1560.9,3975.7 1522.4,3988.5 1483.9,4014.2 1419.7,4007.8 1387.6,4020.6 1368.4,4014.2 1304.2,4007.8 1240.0,3988.5"/>
<polygon class="L" points="1387.6,4020.6 1419.7,4007.8 1483.9,4014.2 1522.4,3988.5 1560.9,3975.7 1573.7,3950.0 1689.3,3950.0 1682.9,3975.7 1663.6,4014.2 1644.3,4052.7 1625.1,4084.8 1605.8,4129.7 1586.6,4174.6 1573.7,4213.1 1560.9,4251.7 1554.5,4258.1 1535.2,4226.0 1509.6,4206.7 1464.6,4193.9 1432.5,4193.9 1419.7,4161.8 1381.2,4136.1 1368.4,4091.2 1329.9,4084.8 1323.4,4071.9"/>
<polygon class="G" points="1689.3,3950.0 1901.1,3950.0 1894.7,3988.5 1894.7,4020.6 1856.1,4033.4 1836.9,4052.7 1811.2,4071.9 1804.8,4097.6 1817.6,4116.9 1804.8,4136.1 1811.2,4161.8 1830.5,4187.5 1843.3,4206.7 1817.6,4219.6 1785.5,4238.8 1753.5,4258.1 1721.4,4277.3 1657.2,4290.2 1599.4,4290.2 1554.5,4283.7 1554.5,4258.1 1560.9,4251.7 1573.7,4213.1 1586.6,4174.6 1605.8,4129.7 1625.1,4084.8 1644.3,4052.7 1663.6,4014.2 1682.9,3975.7"/>
<polygon class="L" points="1901.1,3950.0 2266.9,3950.0 2260.5,3988.5 2299.0,4020.6 2324.7,4033.4 2318.3,4065.5 2292.6,4091.2 2254.1,4071.9 2215.6,4059.1 2177.1,4078.4 2138.6,4097.6 2119.3,4116.9 2112.9,4142.5 2093.6,4161.8 2068.0,4174.6 2055.1,4206.7 2042.3,4226.0 2010.2,4200.3 1978.1,4187.5 1946.0,4174.6 1913.9,4161.8 1881.8,4149.0 1849.7,4142.5 1817.6,4155.4 1811.2,4161.8 1804.8,4136.1 1817.6,4116.9 1804.8,4097.6 1811.2,4071.9 1836.9,4052.7 1856.1,4033.4 1894.7,4020.6 1894.7,3988.5"/>
<polygon class="D" points="1817.6,4155.4 1849.7,4142.5 1881.8,4149.0 1913.9,4161.8 1946.0,4174.6 1978.1,4187.5 2010.2,4200.3 2042.3,4226.0 2039.1,4270.9 2035.9,4309.4 2042.3,4347.9 2042.3,4399.3 2035.9,4437.8 2016.6,4457.0 1997.3,4463.5 1971.7,4469.9 1946.0,4457.0 1920.3,4424.9 1907.5,4392.9 1901.1,4360.8 1862.6,4354.3 1836.9,4360.8 1817.6,4373.6 1792.0,4367.2 1766.3,4373.6 1747.0,4386.4 1740.6,4412.1 1727.8,4431.4 1714.9,4450.6 1689.3,4450.6 1657.2,4457.0 1644.3,4437.8 1631.5,4424.9 1625.1,4450.6 1593.0,4482.7 1560.9,4502.0 1528.8,4514.8 1496.7,4534.1 1464.6,4553.3 1439.0,4566.1 1413.3,4585.4 1400.5,4591.8 1406.9,4566.1 1432.5,4514.8 1458.2,4495.5 1483.9,4463.5 1496.7,4469.9 1509.6,4450.6 1528.8,4437.8 1560.9,4424.9 1586.6,4412.1 1625.1,4399.3 1644.3,4367.2 1650.8,4347.9 1663.6,4328.7 1637.9,4309.4 1599.4,4296.6 1554.5,4283.7 1599.4,4290.2 1657.2,4290.2 1721.4,4277.3 1753.5,4258.1 1785.5,4238.8 1817.6,4219.6 1843.3,4206.7 1830.5,4187.5 1811.2,4161.8"/>
<polygon class="L" points="1747.0,4386.4 1766.3,4373.6 1792.0,4367.2 1817.6,4373.6 1836.9,4360.8 1862.6,4354.3 1901.1,4360.8 1907.5,4392.9 1920.3,4424.9 1946.0,4457.0 1971.7,4469.9 1997.3,4463.5 2016.6,4457.0 2035.9,4437.8 2042.3,4399.3 2042.3,4347.9 2035.9,4309.4 2039.1,4270.9 2042.3,4226.0 2055.1,4219.6 2087.2,4226.0 2112.9,4245.2 2138.6,4270.9 2157.8,4296.6 2170.6,4322.3 2177.1,4360.8 2183.5,4399.3 2183.5,4437.8 2177.1,4463.5 2164.2,4489.1 2138.6,4482.7 2106.5,4495.5 2087.2,4514.8 2074.4,4553.3 2068.0,4591.8 2061.5,4623.9 2055.1,4656.0 2061.5,4700.9 2048.7,4707.3 2035.9,4694.5 1997.3,4688.1 1971.7,4675.3 1958.8,4643.2 1946.0,4604.7 1933.2,4566.1 1920.3,4537.3 1894.7,4540.5 1875.4,4566.1 1856.1,4566.1 1836.9,4553.3 1798.4,4534.1 1792.0,4524.4 1766.3,4540.5 1740.6,4553.3 1727.8,4579.0 1714.9,4585.4 1708.5,4553.3 1714.9,4527.6 1721.4,4502.0 1714.9,4476.3 1708.5,4457.0 1714.9,4450.6 1727.8,4431.4 1740.6,4412.1"/>
<polygon class="M" points="2055.1,4206.7 2068.0,4174.6 2093.6,4161.8 2112.9,4142.5 2119.3,4116.9 2138.6,4097.6 2177.1,4078.4 2215.6,4059.1 2254.1,4071.9 2292.6,4091.2 2318.3,4116.9 2343.9,4129.7 2356.8,4161.8 2331.1,4181.1 2299.0,4193.9 2266.9,4206.7 2241.2,4226.0 2260.5,4245.2 2254.1,4283.7 2247.7,4322.3 2241.2,4360.8 2234.8,4399.3 2241.2,4424.9 2247.7,4457.0 2228.4,4476.3 2202.7,4508.4 2183.5,4514.8 2164.2,4489.1 2177.1,4463.5 2183.5,4437.8 2183.5,4399.3 2177.1,4360.8 2170.6,4322.3 2157.8,4296.6 2138.6,4270.9 2112.9,4245.2 2087.2,4226.0 2055.1,4219.6"/>
<polygon class="M" points="2356.8,4161.8 2382.4,4142.5 2414.5,4123.3 2433.8,4129.7 2453.0,4155.4 2480.0,4155.4 2459.5,4168.2 2446.6,4174.6 2433.8,4206.7 2433.8,4238.8 2421.0,4270.9 2401.7,4309.4 2395.3,4335.1 2382.4,4373.6 2369.6,4392.9 2331.1,4412.1 2311.8,4424.9 2292.6,4418.5 2266.9,4424.9 2247.7,4457.0 2241.2,4424.9 2234.8,4399.3 2241.2,4360.8 2247.7,4322.3 2254.1,4283.7 2260.5,4245.2 2241.2,4226.0 2266.9,4206.7 2299.0,4193.9 2331.1,4181.1"/>
<polygon class="M" points="2266.9,3950.0 2480.0,3950.0 2480.0,4155.4 2453.0,4155.4 2433.8,4129.7 2414.5,4123.3 2382.4,4142.5 2356.8,4161.8 2343.9,4129.7 2318.3,4116.9 2292.6,4091.2 2318.3,4065.5 2324.7,4033.4 2299.0,4020.6 2260.5,3988.5"/>
<polygon class="D" points="2480.0,2104.0 2544.2,2118.2 2608.4,2129.7 2637.2,2136.1 2672.5,2152.2 2707.8,2158.6 2711.1,2181.1 2701.4,2219.6 2691.8,2258.1 2653.3,2264.5 2592.3,2277.3 2573.1,2299.8 2566.6,2335.1 2576.3,2360.8 2582.7,2378.7 2531.3,2385.2 2480.0,2381.3"/>
<polygon class="L" points="2707.8,2158.6 2736.7,2161.8 2800.9,2171.4 2852.3,2181.1 2884.3,2182.3 2881.1,2238.8 2872.8,2283.7 2869.6,2299.8 2865.7,2341.5 2874.1,2382.6 2852.9,2407.6 2833.0,2378.7 2799.6,2382.6 2794.5,2392.9 2762.4,2392.9 2723.9,2399.3 2672.5,2424.9 2650.1,2399.3 2608.4,2386.4 2582.7,2378.7 2576.3,2360.8 2566.6,2335.1 2573.1,2299.8 2592.3,2277.3 2653.3,2264.5 2691.8,2258.1 2701.4,2219.6 2711.1,2181.1"/>
<polygon class="M" points="2884.3,2182.3 2897.2,2177.8 2929.3,2177.8 2961.4,2175.9 2993.5,2187.5 3025.5,2188.8 3057.6,2190.7 3089.7,2193.9 3121.8,2197.1 3153.9,2200.3 3186.0,2203.5 3218.1,2209.9 3214.9,2238.8 3205.3,2283.7 3192.4,2322.3 3188.6,2353.7 3209.1,2333.2 3217.5,2353.7 3255.3,2390.9 3238.6,2432.7 3192.4,2416.0 3155.2,2444.8 3147.5,2498.8 3101.9,2548.2 3073.0,2548.2 3056.4,2532.1 3056.4,2494.3 3048.0,2465.4 3035.2,2457.0 2998.0,2482.1 2965.2,2490.4 2960.7,2507.1 2915.2,2515.4 2898.5,2473.7 2886.3,2444.8 2874.1,2416.0 2852.9,2407.6 2874.1,2382.6 2865.7,2341.5 2869.6,2299.8 2872.8,2283.7 2881.1,2238.8"/>
<polygon class="L" points="2794.5,2392.9 2799.6,2382.6 2833.0,2378.7 2852.9,2407.6 2874.1,2416.0 2886.3,2444.8 2898.5,2473.7 2915.2,2515.4 2960.7,2507.1 2965.2,2490.4 2998.0,2482.1 3035.2,2457.0 3048.0,2465.4 3056.4,2494.3 3056.4,2532.1 3073.0,2548.2 3043.5,2598.2 3035.2,2672.7 3026.8,2739.4 2999.9,2734.9 2951.7,2731.1 2915.8,2727.9 2879.9,2734.9 2833.0,2724.0 2828.5,2610.4 2820.2,2589.9 2803.5,2581.6 2813.7,2566.1 2826.6,2527.6 2813.7,2514.8 2820.2,2482.7 2813.7,2463.5 2794.5,2457.0 2797.7,2412.1"/>
<polygon class="M" points="2480.0,2381.3 2531.3,2385.2 2582.7,2378.7 2608.4,2386.4 2650.1,2399.3 2672.5,2424.9 2723.9,2399.3 2762.4,2392.9 2794.5,2392.9 2797.7,2412.1 2794.5,2457.0 2813.7,2463.5 2820.2,2482.7 2813.7,2514.8 2826.6,2527.6 2813.7,2566.1 2736.7,2582.2 2704.6,2585.4 2698.2,2553.3 2679.0,2540.5 2646.9,2572.6 2621.2,2598.2 2601.9,2598.2 2589.8,2641.2 2575.0,2677.2 2578.8,2695.2 2603.9,2706.1 2589.8,2742.0 2553.8,2724.0 2517.2,2749.7 2480.0,2749.7"/>
<polygon class="L" points="2601.9,2598.2 2621.2,2598.2 2646.9,2572.6 2679.0,2540.5 2698.2,2553.3 2704.6,2585.4 2736.7,2582.2 2813.7,2566.1 2803.5,2581.6 2820.2,2589.9 2828.5,2610.4 2833.0,2724.0 2806.7,2727.9 2770.7,2717.0 2734.8,2713.1 2698.9,2706.1 2662.3,2720.2 2625.7,2709.3 2607.7,2713.1 2603.9,2706.1 2578.8,2695.2 2575.0,2677.2 2589.8,2641.2"/>
<polygon class="M" points="2603.9,2706.1 2607.7,2713.1 2625.7,2709.3 2662.3,2720.2 2698.9,2706.1 2734.8,2713.1 2770.7,2717.0 2806.7,2727.9 2833.0,2724.0 2833.0,2749.7 2589.8,2749.7 2589.8,2742.0"/>
<polygon class="D" points="2833.0,2724.0 2879.9,2734.9 2915.8,2727.9 2951.7,2731.1 2999.9,2734.9 3026.8,2739.4 3026.8,2749.7 2833.0,2749.7"/>
<polygon class="D" points="3073.0,2548.2 3101.9,2548.2 3114.1,2564.9 3130.8,2606.6 3139.2,2631.0 3155.2,2656.0 3196.9,2668.2 3238.6,2681.0 3259.2,2688.1 3250.2,2749.7 3026.8,2749.7 3035.2,2672.7 3043.5,2598.2"/>
<polygon class="VL" points="3101.9,2548.2 3147.5,2498.8 3155.2,2444.8 3192.4,2416.0 3238.6,2432.7 3255.3,2465.4 3288.1,2494.9 3313.1,2532.1 3304.7,2569.4 3288.1,2589.9 3279.7,2614.9 3291.9,2639.3 3279.7,2656.0 3259.2,2672.7 3238.6,2681.0 3196.9,2668.2 3155.2,2656.0 3139.2,2631.0 3130.8,2606.6 3114.1,2564.9"/>
<polygon class="M" points="3218.1,2209.9 3250.2,2209.9 3282.3,2206.7 3314.4,2205.4 3340.0,2206.7 3368.9,2214.4 3360.6,2258.1 3362.5,2299.8 3346.5,2324.8 3321.4,2341.5 3313.1,2378.7 3271.4,2382.6 3250.8,2390.9 3238.6,2432.7 3255.3,2390.9 3217.5,2353.7 3209.1,2333.2 3188.6,2353.7 3192.4,2322.3 3205.3,2283.7 3214.9,2238.8"/>
<polygon class="M" points="3368.9,2214.4 3404.2,2224.7 3429.9,2242.0 3455.6,2258.1 3481.2,2267.7 3493.4,2274.8 3487.0,2290.2 3474.8,2302.4 3462.0,2324.2 3449.8,2333.8 3443.4,2342.8 3418.3,2373.6 3399.7,2401.8 3378.6,2424.9 3359.3,2444.2 3333.6,2469.9 3313.1,2495.5 3313.1,2532.1 3288.1,2494.9 3255.3,2465.4 3238.6,2432.7 3250.8,2390.9 3271.4,2382.6 3313.1,2378.7 3321.4,2341.5 3346.5,2324.8 3362.5,2299.8 3360.6,2258.1"/>
<polygon class="D" points="3493.4,2274.8 3506.9,2274.1 3539.0,2278.6 3571.1,2282.5 3589.7,2283.7 3592.3,2302.4 3576.9,2355.0 3567.9,2386.4 3552.5,2386.4 3443.4,2342.8 3449.8,2333.8 3462.0,2324.2 3474.8,2302.4 3487.0,2290.2"/>
<polygon class="D" points="3399.7,2401.8 3418.3,2373.6 3443.4,2342.8 3552.5,2386.4 3567.9,2386.4 3567.9,2401.8 3561.5,2429.4 3573.7,2445.5 3586.5,2479.5 3605.1,2510.3 3617.3,2557.2 3614.1,2619.4 3623.7,2634.8 3617.3,2665.6 3555.1,2675.3 3508.8,2690.7 3477.4,2702.9 3462.0,2697.1 3431.2,2684.2 3399.7,2665.6 3365.7,2652.8 3314.4,2636.7 3291.9,2639.3 3279.7,2614.9 3288.1,2589.9 3304.7,2569.4 3313.1,2532.1 3313.1,2495.5 3333.6,2469.9 3359.3,2444.2 3378.6,2424.9"/>
<polygon class="D" points="3589.7,2283.7 3617.3,2285.0 3635.3,2287.0 3667.4,2285.7 3699.5,2283.7 3710.4,2285.0 3707.2,2355.0 3695.0,2429.4 3725.8,2454.5 3730.9,2476.3 3707.2,2510.3 3682.8,2541.8 3664.2,2579.0 3648.1,2594.4 3657.7,2606.6 3629.5,2634.8 3617.3,2628.4 3614.1,2619.4 3617.3,2557.2 3605.1,2510.3 3586.5,2479.5 3573.7,2445.5 3561.5,2429.4 3567.9,2401.8 3567.9,2386.4 3576.9,2355.0 3592.3,2302.4"/>
<polygon class="M" points="2550.6,2750.0 2691.8,2750.0 2704.6,2769.3 2691.8,2801.3 2640.5,2820.6 2614.8,2839.9 2601.9,2865.5 2544.2,2871.9 2505.7,2875.2 2480.0,2871.9 2480.0,2814.2 2499.3,2788.5 2518.5,2769.3"/>
<polygon class="M" points="2480.0,2871.9 2505.7,2875.2 2544.2,2871.9 2601.9,2865.5 2614.8,2839.9 2640.5,2820.6 2691.8,2801.3 2723.9,2793.6 2743.1,2807.8 2736.7,2839.9 2711.1,2878.4 2685.4,2900.8 2672.5,2916.9 2672.5,2942.5 2682.2,2968.2 2653.3,2981.1 2608.4,2990.7 2544.2,2997.1 2512.1,3000.3 2480.0,2993.9"/>
<polygon class="M" points="2691.8,2750.0 2829.8,2750.0 2826.6,2788.5 2813.7,2833.4 2800.9,2878.4 2794.5,2929.7 2794.5,2961.8 2762.4,2974.6 2749.6,2949.0 2704.6,2923.3 2682.2,2910.5 2685.4,2900.8 2711.1,2878.4 2736.7,2839.9 2743.1,2807.8 2723.9,2793.6 2691.8,2801.3 2704.6,2769.3"/>
<polygon class="D" points="2682.2,2910.5 2704.6,2923.3 2749.6,2949.0 2762.4,2974.6 2794.5,2961.8 2826.6,2955.4 2865.1,2961.8 2890.8,2987.5 2877.9,3019.6 2871.5,3045.2 2839.4,3064.5 2813.7,3096.6 2788.1,3122.3 2762.4,3154.3 2743.1,3192.9 2723.9,3186.4 2685.4,3167.2 2653.3,3147.9 2634.0,3135.1 2640.5,3109.4 2646.9,3058.1 2666.1,3045.2 2679.0,3006.7 2698.2,2993.9 2682.2,2968.2 2672.5,2942.5 2672.5,2916.9"/>
<polygon class="D" points="2829.8,2750.0 3250.2,2750.0 3243.8,2788.5 3230.9,2814.2 3224.5,2846.3 3256.6,2846.3 3275.9,2859.1 3275.9,2897.6 3269.4,2929.7 3275.9,2961.8 3243.8,2968.2 3224.5,2974.6 3186.0,2961.8 3147.5,2955.4 3121.8,2961.8 3128.2,3006.7 3121.8,3038.8 3083.3,3064.5 3057.6,3045.2 3032.0,3019.6 2980.6,3006.7 2967.8,2987.5 2929.3,2997.1 2890.8,2987.5 2865.1,2961.8 2826.6,2955.4 2794.5,2961.8 2794.5,2929.7 2800.9,2878.4 2813.7,2833.4 2826.6,2788.5"/>
<polygon class="L" points="2743.1,3192.9 2762.4,3154.3 2788.1,3122.3 2813.7,3096.6 2839.4,3064.5 2871.5,3045.2 2877.9,3019.6 2890.8,2987.5 2929.3,2997.1 2967.8,2987.5 2974.2,3038.8 2967.8,3070.9 2942.1,3083.7 2935.7,3109.4 2929.3,3141.5 2916.4,3167.2 2922.9,3199.3 2948.5,3205.7 2974.2,3231.4 2993.5,3250.6 3019.1,3269.9 3038.4,3282.7 3025.5,3295.5 2993.5,3302.0 2961.4,3282.7 2929.3,3276.3 2897.2,3269.9 2865.1,3263.5 2839.4,3257.0 2813.7,3244.2 2788.1,3237.8 2768.8,3224.9 2749.6,3212.1"/>
<polygon class="M" points="2974.2,3038.8 2980.6,3006.7 3032.0,3019.6 3057.6,3045.2 3083.3,3064.5 3096.1,3109.4 3121.8,3147.9 3141.1,3167.2 3153.9,3199.3 3160.3,3237.8 3121.8,3250.6 3070.5,3263.5 3038.4,3282.7 3019.1,3269.9 2993.5,3250.6 2974.2,3231.4 2948.5,3205.7 2922.9,3199.3 2916.4,3167.2 2929.3,3141.5 2935.7,3109.4 2942.1,3083.7 2967.8,3070.9"/>
<polygon class="D" points="3121.8,2961.8 3147.5,2955.4 3186.0,2961.8 3224.5,2974.6 3243.8,2968.2 3275.9,2961.8 3282.3,2993.9 3282.3,3032.4 3269.4,3070.9 3288.7,3109.4 3308.0,3122.3 3295.1,3160.8 3288.7,3199.3 3301.5,3237.8 3308.0,3257.0 3269.4,3250.6 3243.8,3237.8 3218.1,3244.2 3173.2,3237.8 3160.3,3237.8 3153.9,3199.3 3141.1,3167.2 3121.8,3147.9 3096.1,3109.4 3083.3,3064.5 3121.8,3038.8 3128.2,3006.7"/>
<polygon class="D" points="3160.3,3237.8 3173.2,3237.8 3218.1,3244.2 3243.8,3237.8 3269.4,3250.6 3308.0,3257.0 3320.8,3263.5 3346.5,3295.5 3365.7,3327.6 3378.6,3353.3 3391.4,3379.0 3410.6,3391.8 3423.5,3404.7 3404.2,3411.1 3365.7,3417.5 3333.6,3430.3 3301.5,3443.2 3269.4,3456.0 3237.3,3475.3 3205.3,3488.1 3186.0,3430.3 3173.2,3359.7 3173.2,3302.0 3166.7,3263.5"/>
<polygon class="D" points="3308.0,3122.3 3314.4,3122.3 3391.4,3173.6 3397.8,3180.0 3385.0,3199.3 3391.4,3237.8 3378.6,3263.5 3385.0,3295.5 3417.1,3302.0 3449.2,3298.8 3462.0,3314.8 3449.2,3327.6 3442.7,3366.1 3429.9,3391.8 3410.6,3391.8 3391.4,3379.0 3378.6,3353.3 3365.7,3327.6 3346.5,3295.5 3320.8,3263.5 3308.0,3257.0 3301.5,3237.8 3288.7,3199.3 3295.1,3160.8"/>
<polygon class="L" points="3275.9,2961.8 3314.4,2968.2 3346.5,2961.8 3378.6,2968.2 3410.6,2981.1 3442.7,2981.1 3474.8,2968.2 3506.9,2974.6 3519.8,2987.5 3532.6,2961.8 3545.4,2949.0 3571.1,2942.5 3596.8,2920.1 3609.6,2942.5 3635.3,2968.2 3667.4,2993.9 3680.2,3013.1 3661.0,3038.8 3641.7,3064.5 3628.9,3090.2 3596.8,3099.8 3564.7,3096.6 3545.4,3122.3 3532.6,3147.9 3506.9,3199.3 3487.7,3205.7 3429.9,3173.6 3397.8,3180.0 3314.4,3122.3 3308.0,3122.3 3288.7,3109.4 3269.4,3070.9 3282.3,3032.4 3282.3,2993.9"/>
<polygon class="D" points="3250.2,2750.0 3442.7,2750.0 3455.6,2769.3 3506.9,2782.1 3532.6,2807.8 3571.1,2833.4 3596.8,2852.7 3616.0,2878.4 3628.9,2904.0 3596.8,2920.1 3571.1,2910.5 3539.0,2907.2 3506.9,2904.0 3474.8,2900.8 3442.7,2897.6 3378.6,2897.6 3314.4,2904.0 3275.9,2897.6 3275.9,2859.1 3256.6,2846.3 3224.5,2846.3 3230.9,2814.2 3243.8,2788.5"/>
<polygon class="M" points="3275.9,2897.6 3314.4,2904.0 3378.6,2897.6 3442.7,2897.6 3474.8,2900.8 3506.9,2904.0 3539.0,2907.2 3571.1,2910.5 3596.8,2920.1 3571.1,2942.5 3545.4,2949.0 3532.6,2961.8 3519.8,2987.5 3506.9,2974.6 3474.8,2968.2 3442.7,2981.1 3410.6,2981.1 3378.6,2968.2 3346.5,2961.8 3314.4,2968.2 3275.9,2961.8 3269.4,2929.7"/>
<polygon class="M" points="3442.7,2750.0 3641.7,2750.0 3654.5,2772.5 3686.6,2778.9 3720.0,2772.5 3720.0,2904.0 3699.5,2891.2 3667.4,2888.0 3635.3,2897.6 3616.0,2878.4 3596.8,2852.7 3571.1,2833.4 3532.6,2807.8 3506.9,2782.1 3455.6,2769.3"/>
<polygon class="D" points="3596.8,2920.1 3635.3,2897.6 3667.4,2888.0 3699.5,2891.2 3720.0,2904.0 3720.0,3026.0 3680.2,3013.1 3667.4,2993.9 3635.3,2968.2 3609.6,2942.5"/>
<polygon class="M" points="3720.0,3026.0 3720.0,3327.6 3635.3,3282.7 3571.1,3250.6 3506.9,3218.5 3487.7,3205.7 3506.9,3199.3 3532.6,3147.9 3545.4,3122.3 3564.7,3096.6 3596.8,3099.8 3628.9,3090.2 3641.7,3064.5 3661.0,3038.8 3680.2,3013.1"/>
<polygon class="M" points="3487.7,3205.7 3506.9,3218.5 3571.1,3250.6 3635.3,3282.7 3720.0,3327.6 3720.0,3340.5 3686.6,3346.9 3661.0,3404.7 3635.3,3391.8 3571.1,3379.0 3506.9,3366.1 3442.7,3366.1 3449.2,3327.6 3462.0,3314.8 3449.2,3298.8 3417.1,3302.0 3385.0,3295.5 3378.6,3263.5 3391.4,3237.8 3385.0,3199.3 3397.8,3180.0 3429.9,3173.6"/>
<polygon class="M" points="3442.7,3366.1 3506.9,3366.1 3571.1,3379.0 3635.3,3391.8 3661.0,3404.7 3654.5,3443.2 3648.1,3488.1 3603.2,3494.5 3571.1,3500.9 3506.9,3507.3 3474.8,3520.2 3436.3,3520.2 3429.9,3507.3 3436.3,3468.8 3449.2,3443.2 3442.7,3417.5 3429.9,3391.8"/>
<polygon class="M" points="3686.6,3346.9 3720.0,3340.5 3720.0,3500.9 3693.0,3507.3 3648.1,3488.1 3654.5,3443.2 3661.0,3404.7"/>
<polygon class="M" points="3436.3,3520.2 3474.8,3520.2 3506.9,3507.3 3571.1,3500.9 3603.2,3494.5 3648.1,3488.1 3693.0,3507.3 3699.5,3549.7 3436.3,3549.7"/>
<polygon class="M" points="3205.3,3488.1 3237.3,3475.3 3269.4,3456.0 3301.5,3443.2 3333.6,3430.3 3365.7,3417.5 3404.2,3411.1 3423.5,3404.7 3429.9,3391.8 3442.7,3417.5 3449.2,3443.2 3436.3,3468.8 3429.9,3507.3 3436.3,3549.7 3192.4,3549.7 3198.8,3520.2"/>
<polygon class="VL" points="2890.8,3327.6 2903.6,3321.2 2929.3,3314.8 2967.8,3321.2 2993.5,3314.8 3025.5,3295.5 3038.4,3282.7 3070.5,3263.5 3121.8,3250.6 3160.3,3237.8 3166.7,3263.5 3173.2,3302.0 3173.2,3359.7 3186.0,3430.3 3205.3,3488.1 3198.8,3520.2 3192.4,3549.7 3121.8,3549.7 3089.7,3526.6 3057.6,3507.3 3025.5,3488.1 2993.5,3468.8 2961.4,3449.6 2929.3,3430.3 2903.6,3404.7 2897.2,3379.0"/>
<polygon class="M" points="2788.1,3353.3 2839.4,3346.9 2865.1,3353.3 2890.8,3327.6 2897.2,3379.0 2903.6,3404.7 2929.3,3430.3 2961.4,3449.6 2993.5,3468.8 3025.5,3488.1 3057.6,3507.3 3089.7,3526.6 3121.8,3549.7 2762.4,3549.7 2749.6,3533.0 2775.2,3456.0 2781.7,3391.8"/>
<polygon class="L" points="2480.0,2993.9 2512.1,3000.3 2576.3,2993.9 2608.4,2990.7 2653.3,2981.1 2682.2,2968.2 2679.0,3006.7 2666.1,3045.2 2646.9,3058.1 2640.5,3109.4 2634.0,3135.1 2608.4,3154.3 2576.3,3160.8 2544.2,3199.3 2512.1,3212.1 2480.0,3212.1"/>
<polygon class="L" points="2480.0,3212.1 2512.1,3212.1 2544.2,3199.3 2576.3,3160.8 2608.4,3154.3 2634.0,3135.1 2653.3,3147.9 2685.4,3167.2 2723.9,3186.4 2743.1,3192.9 2711.1,3212.1 2672.5,3218.5 2653.3,3237.8 2659.7,3263.5 2653.3,3295.5 2640.5,3314.8 2627.6,3327.6 2608.4,3340.5 2589.1,3366.1 2576.3,3379.0 2563.4,3353.3 2544.2,3340.5 2550.6,3314.8 2531.3,3295.5 2505.7,3308.4 2480.0,3321.2"/>
<polygon class="L" points="2743.1,3192.9 2749.6,3212.1 2768.8,3224.9 2788.1,3237.8 2813.7,3244.2 2839.4,3257.0 2865.1,3263.5 2897.2,3269.9 2929.3,3276.3 2961.4,3282.7 2993.5,3302.0 3025.5,3295.5 2993.5,3314.8 2967.8,3321.2 2929.3,3314.8 2903.6,3321.2 2890.8,3327.6 2865.1,3353.3 2839.4,3346.9 2788.1,3353.3 2781.7,3391.8 2775.2,3456.0 2749.6,3533.0 2723.9,3520.2 2698.2,3507.3 2672.5,3500.9 2634.0,3481.7 2614.8,3456.0 2608.4,3423.9 2595.5,3398.2 2576.3,3379.0 2589.1,3366.1 2608.4,3340.5 2627.6,3327.6 2640.5,3314.8 2653.3,3295.5 2659.7,3263.5 2653.3,3237.8 2672.5,3218.5 2711.1,3212.1"/>
<polygon class="M" points="2480.0,3321.2 2505.7,3308.4 2531.3,3295.5 2550.6,3314.8 2544.2,3340.5 2563.4,3353.3 2576.3,3379.0 2595.5,3398.2 2608.4,3423.9 2614.8,3456.0 2634.0,3481.7 2672.5,3500.9 2698.2,3507.3 2723.9,3520.2 2749.6,3533.0 2762.4,3549.7 2480.0,3549.7"/>
<polygon class="D" points="3259.2,2688.1 3291.9,2639.3 3314.4,2636.7 3365.7,2652.8 3399.7,2665.6 3431.2,2684.2 3442.7,2749.7 3250.2,2749.7"/>
<polygon class="M" points="3431.2,2684.2 3462.0,2697.1 3477.4,2702.9 3508.8,2690.7 3555.1,2675.3 3617.3,2665.6 3623.7,2681.0 3635.9,2702.9 3626.9,2721.5 3623.7,2749.7 3442.7,2749.7"/>
<polygon class="M" points="3730.9,2476.3 3720.0,2469.9 3720.0,2749.7 3623.7,2749.7 3623.7,2681.0 3629.5,2634.8 3657.7,2606.6 3648.1,2594.4 3664.2,2579.0 3682.8,2541.8 3707.2,2510.3"/>
<polygon class="M" points="3720.0,2750.0 3822.7,2750.0 3816.3,2775.7 3720.0,2772.5"/>
<polygon class="D" points="3822.7,2750.0 4066.6,2750.0 4060.2,2788.5 4085.8,2801.3 4124.3,2807.8 4130.8,2820.6 4105.1,2846.3 4111.5,2871.9 4137.2,2884.8 4143.6,2910.5 4156.4,2942.5 4150.0,2968.2 4117.9,2987.5 4079.4,3006.7 4060.2,3038.8 4040.9,3051.7 3989.6,3064.5 3983.1,3090.2 3976.7,3128.7 3944.6,3115.8 3925.4,3096.6 3893.3,3109.4 3880.5,3109.4 3848.4,3115.8 3829.1,3122.3 3784.2,3096.6 3745.7,3058.1 3720.0,3045.2 3720.0,2904.0 3752.1,2889.9 3790.6,2897.6 3825.9,2904.0 3819.5,2820.6 3816.3,2775.7"/>
<polygon class="M" points="3720.0,2772.5 3816.3,2775.7 3819.5,2820.6 3825.9,2904.0 3790.6,2897.6 3752.1,2889.9 3720.0,2904.0"/>
<polygon class="L" points="4182.1,2750.0 4426.0,2750.0 4400.3,2769.3 4361.8,2782.1 4329.7,2778.9 4278.4,2788.5 4265.5,2820.6 4233.5,2801.3 4188.5,2788.5"/>
<polygon class="M" points="4066.6,2750.0 4182.1,2750.0 4188.5,2788.5 4233.5,2801.3 4265.5,2820.6 4278.4,2788.5 4329.7,2778.9 4361.8,2782.1 4400.3,2769.3 4426.0,2750.0 4451.7,2750.0 4461.3,2794.9 4426.0,2865.5 4410.0,2904.0 4387.5,2913.7 4361.8,2920.1 4355.4,2955.4 4342.6,2990.7 4323.3,3045.2 4304.1,3083.7 4291.2,3122.3 4259.1,3115.8 4233.5,3109.4 4207.8,3119.0 4182.1,3109.4 4156.4,3103.0 4117.9,3099.8 4079.4,3103.0 4040.9,3109.4 3996.0,3109.4 3989.6,3083.7 3989.6,3064.5 4040.9,3051.7 4060.2,3038.8 4079.4,3006.7 4117.9,2987.5 4150.0,2968.2 4156.4,2942.5 4143.6,2910.5 4137.2,2884.8 4111.5,2871.9 4105.1,2846.3 4130.8,2820.6 4124.3,2807.8 4085.8,2801.3 4060.2,2788.5"/>
<polygon class="M" points="3720.0,3045.2 3745.7,3058.1 3784.2,3096.6 3829.1,3122.3 3848.4,3115.8 3880.5,3109.4 3893.3,3109.4 3925.4,3096.6 3944.6,3115.8 3976.7,3128.7 3983.1,3090.2 3989.6,3083.7 3996.0,3109.4 4040.9,3109.4 4079.4,3103.0 4117.9,3099.8 4156.4,3103.0 4182.1,3109.4 4207.8,3119.0 4233.5,3109.4 4259.1,3115.8 4220.6,3122.3 4182.1,3135.1 4162.9,3160.8 4162.9,3186.4 4182.1,3192.9 4233.5,3199.3 4284.8,3196.1 4323.3,3205.7 4316.9,3250.6 4310.5,3289.1 4297.6,3289.1 4265.5,3276.3 4220.6,3273.1 4169.3,3273.1 4117.9,3276.3 4073.0,3295.5 4028.1,3314.8 4002.4,3334.1 3976.7,3308.4 3944.6,3263.5 3912.5,3263.5 3880.5,3276.3 3816.3,3295.5 3764.9,3302.0 3745.7,3314.8 3732.8,3346.9 3720.0,3353.3"/>
<polygon class="M" points="4361.8,2920.1 4387.5,2913.7 4410.0,2904.0 4438.8,2920.1 4445.3,2904.0 4470.9,2900.8 4490.2,2878.4 4522.3,2846.3 4548.0,2820.6 4580.0,2801.3 4599.3,2775.7 4612.1,2782.1 4605.7,2814.2 4599.3,2846.3 4618.6,2878.4 4618.6,2929.7 4631.4,2955.4 4644.2,2993.9 4663.5,3026.0 4657.1,3045.2 4631.4,3064.5 4618.6,3077.3 4605.7,3070.9 4554.4,3064.5 4490.2,3048.4 4426.0,3032.4 4422.8,3019.6 4342.6,2990.7 4355.4,2955.4"/>
<polygon class="M" points="4599.3,2775.7 4608.9,2750.0 4836.8,2750.0 4849.6,2775.7 4881.7,2782.1 4888.1,2833.4 4843.2,2846.3 4811.1,2859.1 4779.0,2878.4 4753.3,2897.6 4740.5,2923.3 4721.2,2949.0 4708.4,2974.6 4689.2,3000.3 4676.3,3019.6 4663.5,3026.0 4644.2,2993.9 4631.4,2955.4 4618.6,2929.7 4618.6,2878.4 4599.3,2846.3 4605.7,2814.2 4612.1,2782.1"/>
<polygon class="M" points="3720.0,3359.7 3726.4,3359.7 3784.2,3391.8 3848.4,3430.3 3893.3,3456.0 3861.2,3488.1 3848.4,3520.2 3816.3,3513.8 3784.2,3507.3 3752.1,3513.8 3720.0,3507.3"/>
<polygon class="L" points="442.9,3150.0 750.9,3150.0 763.8,3169.3 783.0,3188.5 808.7,3227.0 815.1,3265.5 815.1,3297.6 763.8,3297.6 725.3,3284.8 693.2,3284.8 667.5,3278.4 635.4,3278.4 619.4,3284.8 603.3,3297.6 577.6,3300.8 564.8,3284.8 558.4,3259.1 539.1,3239.9 513.5,3227.0 487.8,3214.2 462.1,3194.9 449.3,3175.7"/>
<polygon class="L" points="750.9,3150.0 1161.7,3150.0 1155.3,3162.8 1142.4,3188.5 1129.6,3214.2 1116.8,3246.3 1103.9,3278.4 1091.1,3297.6 1059.0,3304.0 1026.9,3307.2 994.8,3304.0 962.7,3304.0 949.9,3297.6 917.8,3323.3 905.0,3336.1 892.1,3342.5 872.9,3316.9 853.6,3291.2 815.1,3297.6 815.1,3265.5 808.7,3227.0 783.0,3188.5 763.8,3169.3"/>
<polygon class="D" points="635.4,3278.4 667.5,3278.4 693.2,3284.8 725.3,3284.8 763.8,3297.6 815.1,3297.6 853.6,3291.2 872.9,3316.9 892.1,3342.5 905.0,3336.1 917.8,3323.3 949.9,3297.6 962.7,3304.0 994.8,3304.0 1026.9,3307.2 1059.0,3304.0 1091.1,3297.6 1103.9,3278.4 1116.8,3246.3 1129.6,3214.2 1142.4,3188.5 1155.3,3162.8 1161.7,3150.0 1184.2,3150.0 1200.2,3188.5 1240.0,3175.7 1240.0,3265.5 1200.2,3284.8 1209.8,3339.3 1240.0,3342.5 1240.0,3592.9 1219.5,3599.3 1174.5,3615.3 1155.3,3637.8 1123.2,3666.7 1091.1,3650.6 1052.6,3637.8 1033.3,3624.9 1033.3,3605.7 1007.7,3592.9 988.4,3586.4 975.6,3573.6 962.7,3567.2 937.1,3560.8 905.0,3554.3 898.6,3541.5 885.7,3528.7 860.0,3525.5 828.0,3528.7 802.3,3528.7 795.9,3515.8 795.9,3490.2 789.4,3464.5 776.6,3451.7 757.3,3432.4 744.5,3419.6 747.7,3406.7 763.8,3400.3 744.5,3393.9 725.3,3387.5 738.1,3368.2 731.7,3349.0 712.4,3339.3 680.3,3345.8 648.2,3349.0 641.8,3329.7 638.6,3304.0"/>
<polygon class="G" points="1184.2,3150.0 1240.0,3150.0 1240.0,3175.7 1200.2,3188.5"/>
<polygon class="G" points="1240.0,3265.5 1240.0,3342.5 1209.8,3339.3 1200.2,3284.8"/>
<polygon class="G" points="1240.0,3150.0 1374.8,3150.0 1368.4,3156.4 1349.1,3194.9 1336.3,3214.2 1304.2,3227.0 1291.3,3239.9 1297.8,3278.4 1291.3,3316.9 1240.0,3329.7"/>
<polygon class="D" points="1291.3,3316.9 1297.8,3278.4 1291.3,3239.9 1304.2,3227.0 1336.3,3214.2 1349.1,3194.9 1368.4,3156.4 1374.8,3150.0 1458.2,3150.0 1461.4,3188.5 1445.4,3220.6 1464.6,3246.3 1490.3,3259.1 1487.1,3288.0 1464.6,3278.4 1451.8,3297.6 1426.1,3310.5 1416.5,3342.5 1419.7,3381.1 1413.3,3413.1 1400.5,3426.0 1374.8,3419.6 1349.1,3413.1 1323.4,3406.7 1297.8,3361.8"/>
<polygon class="D" points="1240.0,3329.7 1291.3,3316.9 1297.8,3361.8 1323.4,3406.7 1349.1,3413.1 1323.4,3445.2 1336.3,3470.9 1304.2,3496.6 1272.1,3509.4 1265.7,3535.1 1252.8,3573.6 1240.0,3592.9"/>
<polygon class="M" points="1458.2,3150.0 1881.8,3150.0 1875.4,3175.7 1933.2,3188.5 1958.8,3188.5 1965.3,3169.3 1997.3,3150.0 2048.7,3150.0 2048.7,3188.5 2029.4,3233.4 2016.6,3271.9 2010.2,3310.5 1984.5,3323.3 1958.8,3342.5 1933.2,3368.2 1920.3,3393.9 1913.9,3413.1 1881.8,3432.4 1856.1,3445.2 1830.5,3464.5 1817.6,3477.3 1792.0,3496.6 1772.7,3509.4 1772.7,3528.7 1785.5,3547.9 1753.5,3554.3 1740.6,3547.9 1714.9,3547.9 1702.1,3560.8 1689.3,3570.4 1657.2,3576.8 1631.5,3592.9 1612.3,3560.8 1593.0,3515.8 1573.7,3477.3 1541.7,3445.2 1516.0,3419.6 1503.1,3400.3 1483.9,3381.1 1477.5,3342.5 1471.1,3304.0 1487.1,3288.0 1490.3,3259.1 1464.6,3246.3 1445.4,3220.6 1461.4,3188.5"/>
<polygon class="L" points="1881.8,3150.0 1997.3,3150.0 1965.3,3169.3 1958.8,3188.5 1933.2,3188.5 1875.4,3175.7"/>
<polygon class="D" points="2048.7,3150.0 2170.6,3150.0 2189.9,3201.3 2222.0,3220.6 2254.1,3265.5 2260.5,3297.6 2279.8,3329.7 2318.3,3336.1 2356.8,3355.4 2369.6,3387.5 2382.4,3419.6 2401.7,3458.1 2388.9,3470.9 2343.9,3483.7 2318.3,3509.4 2292.6,3528.7 2266.9,3535.1 2241.2,3515.8 2202.7,3515.8 2177.1,3496.6 2138.6,3483.7 2100.0,3470.9 2093.6,3451.7 2068.0,3451.7 2042.3,3438.8 2029.4,3483.7 2010.2,3496.6 2003.8,3470.9 1997.3,3458.1 1965.3,3451.7 1933.2,3451.7 1933.2,3432.4 1913.9,3413.1 1920.3,3393.9 1933.2,3368.2 1958.8,3342.5 1984.5,3323.3 2010.2,3310.5 2016.6,3271.9 2029.4,3233.4 2048.7,3188.5"/>
<polygon class="M" points="2170.6,3150.0 2480.0,3150.0 2480.0,3169.3 2395.3,3175.7 2343.9,3201.3 2299.0,3214.2 2266.9,3265.5 2254.1,3265.5 2222.0,3220.6 2189.9,3201.3"/>
<polygon class="L" points="2266.9,3265.5 2299.0,3214.2 2343.9,3201.3 2395.3,3175.7 2480.0,3169.3 2480.0,3323.3 2433.8,3336.1 2395.3,3342.5 2356.8,3355.4 2318.3,3336.1 2279.8,3329.7 2260.5,3297.6"/>
<polygon class="L" points="2356.8,3355.4 2395.3,3342.5 2433.8,3336.1 2480.0,3323.3 2480.0,3483.7 2459.5,3496.6 2433.8,3509.4 2401.7,3458.1 2382.4,3419.6 2369.6,3387.5"/>
<polygon class="MB" points="1689.3,3570.4 1702.1,3560.8 1714.9,3547.9 1740.6,3547.9 1753.5,3554.3 1785.5,3547.9 1772.7,3528.7 1772.7,3509.4 1792.0,3496.6 1817.6,3477.3 1830.5,3464.5 1856.1,3445.2 1881.8,3432.4 1913.9,3413.1 1933.2,3432.4 1933.2,3451.7 1965.3,3451.7 1958.8,3470.9 1920.3,3509.4 1907.5,3535.1 1907.5,3560.8 1920.3,3586.4 1933.2,3599.3 1920.3,3618.5 1907.5,3637.8 1894.7,3663.5 1881.8,3676.3 1888.2,3702.0 1913.9,3721.2 1933.2,3746.9 1939.6,3772.6 1926.7,3791.8 1913.9,3817.5 1888.2,3830.3 1869.0,3843.2 1843.3,3856.0 1798.4,3868.8 1772.7,3881.7 1766.3,3907.3 1747.0,3933.0 1721.4,3949.7 1442.2,3949.7 1451.8,3888.1 1458.2,3856.0 1509.6,3830.3 1516.0,3798.2 1503.1,3779.0 1509.6,3759.7 1541.7,3759.7 1580.2,3762.9 1573.7,3756.5 1548.1,3740.5 1554.5,3734.1 1541.7,3721.2 1522.4,3714.8 1509.6,3702.0 1522.4,3682.7 1548.1,3663.5 1573.7,3657.0 1625.1,3631.4 1702.1,3592.9"/>
<polygon class="M" points="1965.3,3451.7 1997.3,3458.1 2003.8,3470.9 2010.2,3496.6 2029.4,3483.7 2042.3,3438.8 2068.0,3451.7 2093.6,3451.7 2100.0,3470.9 2138.6,3483.7 2177.1,3496.6 2202.7,3515.8 2241.2,3515.8 2266.9,3535.1 2254.1,3547.9 2215.6,3567.2 2177.1,3586.4 2138.6,3599.3 2100.0,3612.1 2074.4,3637.8 2055.1,3663.5 2068.0,3682.7 2100.0,3695.5 2119.3,3714.8 2125.7,3740.5 2119.3,3766.1 2106.5,3791.8 2125.7,3817.5 2132.1,3843.2 2112.9,3868.8 2087.2,3881.7 2074.4,3894.5 2087.2,3920.2 2093.6,3949.7 1907.5,3949.7 1894.7,3920.2 1881.8,3888.1 1888.2,3856.0 1869.0,3843.2 1888.2,3830.3 1913.9,3817.5 1926.7,3791.8 1939.6,3772.6 1933.2,3746.9 1913.9,3721.2 1888.2,3702.0 1881.8,3676.3 1894.7,3663.5 1907.5,3637.8 1920.3,3618.5 1933.2,3599.3 1920.3,3586.4 1907.5,3560.8 1907.5,3535.1 1920.3,3509.4 1958.8,3470.9"/>
<polygon class="D" points="2266.9,3535.1 2292.6,3528.7 2318.3,3509.4 2343.9,3483.7 2388.9,3470.9 2401.7,3458.1 2433.8,3509.4 2446.6,3535.1 2459.5,3560.8 2446.6,3599.3 2440.2,3637.8 2446.6,3676.3 2459.5,3708.4 2465.9,3740.5 2446.6,3779.0 2408.1,3791.8 2395.3,3823.9 2401.7,3856.0 2363.2,3862.4 2305.4,3862.4 2266.9,3856.0 2234.8,3843.2 2202.7,3823.9 2170.6,3804.7 2138.6,3779.0 2119.3,3766.1 2125.7,3740.5 2119.3,3714.8 2100.0,3695.5 2068.0,3682.7 2055.1,3663.5 2074.4,3637.8 2100.0,3612.1 2138.6,3599.3 2177.1,3586.4 2215.6,3567.2 2254.1,3547.9"/>
<polygon class="M" points="2433.8,3509.4 2459.5,3496.6 2480.0,3483.7 2480.0,3949.7 2427.4,3949.7 2414.5,3920.2 2401.7,3856.0 2395.3,3823.9 2408.1,3791.8 2446.6,3779.0 2465.9,3740.5 2459.5,3708.4 2446.6,3676.3 2440.2,3637.8 2446.6,3599.3 2459.5,3560.8 2446.6,3535.1"/>
<polygon class="L" points="2119.3,3766.1 2138.6,3779.0 2170.6,3804.7 2202.7,3823.9 2234.8,3843.2 2266.9,3856.0 2305.4,3862.4 2331.1,3888.1 2318.3,3920.2 2299.0,3949.7 2093.6,3949.7 2087.2,3920.2 2074.4,3894.5 2087.2,3881.7 2112.9,3868.8 2132.1,3843.2 2125.7,3817.5 2106.5,3791.8"/>
<polygon class="M" points="2305.4,3862.4 2363.2,3862.4 2401.7,3856.0 2414.5,3920.2 2427.4,3949.7 2299.0,3949.7 2318.3,3920.2 2331.1,3888.1"/>
<polygon class="G" points="1772.7,3881.7 1798.4,3868.8 1843.3,3856.0 1869.0,3843.2 1888.2,3856.0 1881.8,3888.1 1894.7,3920.2 1907.5,3949.7 1721.4,3949.7 1747.0,3933.0 1766.3,3907.3"/>
<polygon class="MB" points="1240.0,3920.2 1265.7,3913.8 1278.5,3933.0 1284.9,3949.7 1240.0,3949.7"/>
<polygon class="M" points="2480.0,3550.0 2775.2,3550.0 2781.7,3578.9 2736.7,3582.1 2711.1,3588.5 2717.5,3607.8 2691.8,3627.0 2646.9,3639.9 2614.8,3652.7 2634.0,3668.7 2679.0,3671.9 2691.8,3684.8 2672.5,3704.0 2672.5,3736.1 2666.1,3768.2 2685.4,3787.5 2691.8,3832.4 2672.5,3870.9 2646.9,3899.8 2608.4,3928.7 2582.7,3960.8 2550.6,3976.8 2524.9,3954.3 2505.7,3947.9 2480.0,3960.8"/>
<polygon class="L" points="2711.1,3588.5 2736.7,3582.1 2781.7,3578.9 2839.4,3585.3 2877.9,3594.9 2903.6,3614.2 2910.0,3646.3 2916.4,3678.4 2910.0,3716.9 2903.6,3749.0 2890.8,3768.2 2871.5,3793.9 2858.7,3826.0 2845.8,3851.7 2839.4,3877.3 2820.2,3883.7 2800.9,3903.0 2781.7,3922.3 2775.2,3909.4 2762.4,3870.9 2749.6,3851.7 2723.9,3842.0 2691.8,3832.4 2685.4,3787.5 2666.1,3768.2 2672.5,3736.1 2672.5,3704.0 2691.8,3684.8 2679.0,3671.9 2634.0,3668.7 2614.8,3652.7 2646.9,3639.9 2691.8,3627.0 2717.5,3607.8"/>
<polygon class="M" points="2775.2,3550.0 3224.5,3550.0 3237.3,3575.7 3250.2,3601.3 3275.9,3646.3 3288.7,3678.4 3301.5,3697.6 3288.7,3723.3 3263.0,3716.9 3250.2,3704.0 3218.1,3697.6 3186.0,3704.0 3153.9,3716.9 3121.8,3729.7 3115.4,3742.5 3109.0,3768.2 3096.1,3800.3 3070.5,3813.1 3044.8,3826.0 3006.3,3845.2 2974.2,3851.7 2954.9,3838.8 2935.7,3845.2 2903.6,3870.9 2865.1,3883.7 2839.4,3877.3 2845.8,3851.7 2858.7,3826.0 2871.5,3793.9 2890.8,3768.2 2903.6,3749.0 2910.0,3716.9 2916.4,3678.4 2910.0,3646.3 2903.6,3614.2 2877.9,3594.9 2839.4,3585.3 2781.7,3578.9"/>
<polygon class="L" points="3224.5,3550.0 3439.5,3550.0 3442.7,3569.3 3429.9,3594.9 3404.2,3607.8 3391.4,3639.9 3372.1,3659.1 3346.5,3684.8 3314.4,3710.5 3288.7,3723.3 3301.5,3697.6 3288.7,3678.4 3275.9,3646.3 3250.2,3601.3 3237.3,3575.7"/>
<polygon class="D" points="2839.4,3877.3 2865.1,3883.7 2903.6,3870.9 2935.7,3845.2 2954.9,3838.8 2974.2,3851.7 3006.3,3845.2 3044.8,3826.0 3070.5,3813.1 3096.1,3800.3 3109.0,3768.2 3115.4,3742.5 3121.8,3729.7 3153.9,3716.9 3186.0,3704.0 3218.1,3697.6 3250.2,3704.0 3263.0,3716.9 3288.7,3723.3 3250.2,3761.8 3230.9,3793.9 3237.3,3819.6 3263.0,3832.4 3256.6,3870.9 3250.2,3909.4 3243.8,3935.1 3269.4,3947.9 3295.1,3960.8 3275.9,3999.3 3250.2,4037.8 3218.1,4063.5 3198.8,4095.5 3173.2,4102.0 3166.7,4127.6 3173.2,4153.3 3083.3,4146.9 3057.6,4166.1 3044.8,4179.0 3025.5,4146.9 3012.7,4114.8 2993.5,4089.1 2980.6,4063.5 2967.8,4037.8 2929.3,4012.1 2890.8,3986.4 2852.3,3967.2 2839.4,3947.9 2845.8,3909.4"/>
<polygon class="L" points="3288.7,3723.3 3314.4,3710.5 3346.5,3684.8 3372.1,3659.1 3391.4,3639.9 3397.8,3671.9 3391.4,3710.5 3404.2,3729.7 3391.4,3749.0 3385.0,3768.2 3417.1,3793.9 3429.9,3806.7 3423.5,3819.6 3417.1,3832.4 3442.7,3858.1 3449.2,3877.3 3442.7,3896.6 3410.6,3909.4 3391.4,3928.7 3378.6,3941.5 3359.3,3947.9 3327.2,3954.3 3295.1,3960.8 3269.4,3947.9 3243.8,3935.1 3250.2,3909.4 3256.6,3870.9 3263.0,3832.4 3237.3,3819.6 3230.9,3793.9 3250.2,3761.8"/>
<polygon class="L" points="3439.5,3550.0 3720.0,3550.0 3720.0,3736.1 3699.5,3742.5 3680.2,3761.8 3661.0,3787.5 3635.3,3793.9 3622.4,3806.7 3583.9,3800.3 3539.0,3797.1 3481.2,3800.3 3429.9,3806.7 3417.1,3793.9 3385.0,3768.2 3391.4,3749.0 3404.2,3729.7 3391.4,3710.5 3397.8,3671.9 3391.4,3639.9 3404.2,3607.8 3429.9,3594.9 3442.7,3569.3"/>
<polygon class="D" points="3720.0,3736.1 3720.0,3832.4 3686.6,3826.0 3635.3,3806.7 3622.4,3806.7 3635.3,3793.9 3661.0,3787.5 3680.2,3761.8 3699.5,3742.5"/>
<polygon class="D" points="3429.9,3806.7 3481.2,3800.3 3539.0,3797.1 3583.9,3800.3 3622.4,3806.7 3635.3,3819.6 3648.1,3845.2 3654.5,3864.5 3641.7,3883.7 3622.4,3903.0 3596.8,3922.3 3571.1,3941.5 3539.0,3967.2 3519.8,3986.4 3494.1,3999.3 3474.8,4037.8 3442.7,4037.8 3378.6,4044.2 3333.6,4037.8 3308.0,4024.9 3288.7,3986.4 3295.1,3960.8 3327.2,3954.3 3359.3,3947.9 3378.6,3941.5 3391.4,3928.7 3410.6,3909.4 3442.7,3896.6 3449.2,3877.3 3442.7,3858.1 3417.1,3832.4 3423.5,3819.6"/>
<polygon class="D" points="3295.1,3960.8 3308.0,4024.9 3333.6,4037.8 3378.6,4044.2 3442.7,4037.8 3474.8,4037.8 3481.2,4063.5 3468.4,4095.5 3455.6,4127.6 3449.2,4159.7 3429.9,4179.0 3404.2,4166.1 3378.6,4146.9 3346.5,4127.6 3314.4,4114.8 3282.3,4108.4 3263.0,4095.5 3218.1,4102.0 3198.8,4095.5 3218.1,4063.5 3250.2,4037.8 3275.9,3999.3"/>
<polygon class="M" points="3635.3,3819.6 3686.6,3826.0 3720.0,3832.4 3720.0,4108.4 3686.6,4102.0 3661.0,4095.5 3635.3,4082.7 3609.6,4063.5 3571.1,4057.0 3539.0,4050.6 3506.9,4044.2 3481.2,4037.8 3494.1,3999.3 3519.8,3986.4 3539.0,3967.2 3571.1,3941.5 3596.8,3922.3 3622.4,3903.0 3641.7,3883.7 3654.5,3864.5 3648.1,3845.2"/>
<polygon class="G" points="3481.2,4063.5 3506.9,4044.2 3539.0,4050.6 3571.1,4057.0 3609.6,4063.5 3635.3,4082.7 3661.0,4095.5 3654.5,4140.5 3648.1,4179.0 3661.0,4217.5 3667.4,4256.0 3657.7,4253.4 3637.2,4232.9 3603.8,4207.9 3562.8,4212.4 3521.0,4220.1 3480.0,4207.9 3446.6,4187.3 3436.3,4179.0 3449.2,4159.7 3455.6,4127.6 3468.4,4095.5"/>
<polygon class="D" points="3044.8,4179.0 3057.6,4166.1 3083.3,4146.9 3173.2,4153.3 3166.7,4127.6 3173.2,4102.0 3198.8,4095.5 3218.1,4102.0 3263.0,4095.5 3282.3,4108.4 3314.4,4114.8 3346.5,4127.6 3378.6,4146.9 3404.2,4166.1 3429.9,4179.0 3442.7,4166.8 3434.4,4182.8 3417.7,4195.7 3405.5,4212.4 3384.3,4232.9 3355.4,4245.1 3330.4,4274.0 3309.9,4307.3 3306.0,4336.2 3264.3,4352.9 3214.9,4373.5 3156.5,4386.3 3144.3,4365.1 3123.7,4307.3 3086.5,4282.3 3057.6,4300.9 3024.3,4319.5 3012.7,4294.5 2995.4,4282.3 2999.9,4256.0 3036.5,4241.2 3057.6,4230.3 3090.4,4216.2 3070.5,4198.2"/>
<polygon class="M" points="3442.7,4166.8 3455.6,4191.8 3446.6,4187.3 3451.1,4212.4 3454.9,4249.6 3467.1,4274.0 3458.8,4327.9 3488.3,4331.7 3496.0,4327.9 3488.3,4348.4 3458.8,4381.8 3405.5,4427.4 3363.8,4460.7 3293.2,4456.3 3277.1,4427.4 3256.0,4447.9 3239.3,4439.6 3235.4,4423.5 3252.1,4402.3 3281.0,4361.3 3306.0,4336.2 3309.9,4307.3 3330.4,4274.0 3355.4,4245.1 3384.3,4232.9 3405.5,4212.4 3417.7,4195.7 3434.4,4182.8"/>
<polygon class="L" points="3446.6,4187.3 3480.0,4207.9 3521.0,4220.1 3562.8,4212.4 3603.8,4207.9 3637.2,4232.9 3657.7,4253.4 3700.1,4274.0 3720.0,4281.7 3700.1,4290.7 3686.6,4315.7 3669.9,4356.8 3645.5,4388.2 3628.9,4381.8 3578.8,4356.8 3554.4,4336.2 3496.0,4327.9 3488.3,4331.7 3458.8,4327.9 3467.1,4274.0 3454.9,4249.6 3451.1,4212.4"/>
<polygon class="M" points="3661.0,4095.5 3686.6,4102.0 3720.0,4108.4 3720.0,4281.7 3700.1,4274.0 3657.7,4253.4 3667.4,4256.0 3661.0,4217.5 3648.1,4179.0 3654.5,4140.5"/>
<polygon class="M" points="2480.0,3960.8 2505.7,3947.9 2524.9,3954.3 2550.6,3976.8 2557.0,3992.9 2576.3,4024.9 2582.7,4063.5 2569.9,4089.1 2544.2,4102.0 2537.8,4127.6 2518.5,4146.9 2492.8,4127.6 2480.0,4130.8"/>
<polygon class="L" points="3720.0,3562.8 3729.6,3584.7 3745.0,3610.3 3786.1,3644.3 3802.2,3654.6 3798.9,3662.3 3791.2,3714.3 3729.6,3690.6 3720.0,3697.6"/>
<polygon class="D" points="3720.0,3697.6 3729.6,3690.6 3791.2,3714.3 3798.9,3662.3 3802.2,3654.6 3838.1,3664.9 3840.7,3672.6 3871.5,3701.5 3905.5,3740.0 3908.1,3752.8 3884.9,3792.0 3892.0,3845.2 3840.7,3838.8 3776.5,3832.4 3720.0,3832.4"/>
<polygon class="M" points="3720.0,3832.4 3776.5,3832.4 3840.7,3838.8 3892.0,3845.2 3892.0,3909.4 3898.4,3999.3 3895.2,4121.2 3763.6,4106.5 3720.0,4105.2"/>
<polygon class="M" points="3720.0,4105.2 3763.6,4106.5 3895.2,4121.2 3885.6,4177.1 3904.8,4217.5 3924.1,4241.2 3904.8,4275.3 3885.6,4318.3 3827.8,4307.3 3763.6,4292.6 3720.0,4281.7"/>
<polygon class="D" points="3710.4,2283.7 3752.1,2277.3 3784.2,2270.9 3816.3,2266.4 3847.1,2265.8 3845.2,2296.6 3835.5,2335.1 3828.5,2355.0 3803.4,2417.2 3782.3,2464.1 3760.4,2476.3 3729.0,2454.5 3710.4,2442.3 3695.0,2429.4 3707.2,2355.0"/>
<polygon class="M" points="3847.1,2265.8 3880.5,2256.8 3912.5,2248.4 3938.2,2242.0 3960.7,2240.1 3970.3,2246.5 3983.1,2251.7 3989.6,2264.5 3996.0,2309.4 3992.8,2360.8 3976.7,2399.3 3960.7,2437.8 3944.6,2476.3 3931.8,2479.5 3867.6,2540.5 3797.0,2585.4 3758.5,2604.7 3720.0,2620.7 3720.0,2489.1 3726.4,2476.3 3729.0,2454.5 3760.4,2476.3 3782.3,2464.1 3803.4,2417.2 3828.5,2355.0 3835.5,2335.1 3845.2,2296.6"/>
<polygon class="M" points="3970.3,2246.5 4008.8,2244.0 4040.9,2246.5 4105.1,2250.4 4169.3,2254.9 4233.5,2265.8 4278.4,2278.6 4275.2,2296.6 4297.6,2299.8 4320.1,2303.0 4342.6,2325.5 4339.4,2347.9 4310.5,2380.0 4284.8,2405.7 4265.5,2418.5 4246.3,2437.8 4233.5,2457.0 4207.8,2502.0 4169.3,2508.4 4137.2,2502.0 4098.7,2511.6 4073.0,2495.5 4053.7,2498.8 4008.8,2482.7 3976.7,2489.1 3944.6,2476.3 3960.7,2437.8 3976.7,2399.3 3992.8,2360.8 3996.0,2309.4 3989.6,2264.5 3983.1,2251.7"/>
<polygon class="M" points="4278.4,2278.6 4310.5,2287.0 4361.8,2303.0 4426.0,2322.3 4490.2,2341.5 4541.5,2351.1 4544.7,2360.8 4538.3,2373.6 4541.5,2392.9 4522.3,2399.3 4525.5,2408.9 4554.4,2415.3 4573.6,2424.9 4567.2,2444.2 4554.4,2457.0 4541.5,2476.3 4515.9,2495.5 4496.6,2508.4 4490.2,2514.8 4499.8,2527.6 4464.5,2527.6 4426.0,2537.3 4381.1,2546.9 4345.8,2556.5 4323.3,2527.6 4294.4,2514.8 4278.4,2482.7 4265.5,2476.3 4233.5,2476.3 4246.3,2437.8 4265.5,2418.5 4284.8,2405.7 4310.5,2380.0 4339.4,2347.9 4342.6,2325.5 4320.1,2303.0 4297.6,2299.8 4275.2,2296.6"/>
<polygon class="L" points="4233.5,2476.3 4265.5,2476.3 4278.4,2482.7 4294.4,2514.8 4323.3,2527.6 4345.8,2556.5 4316.9,2566.1 4284.8,2582.2 4259.1,2598.2 4233.5,2623.9 4207.8,2620.7 4175.7,2630.3 4156.4,2617.5 4146.8,2598.2 4162.9,2579.0 4175.7,2546.9 4188.5,2514.8 4207.8,2502.0"/>
<polygon class="L" points="4345.8,2556.5 4381.1,2546.9 4426.0,2537.3 4464.5,2527.6 4499.8,2527.6 4506.2,2540.5 4515.9,2553.3 4528.7,2566.1 4538.3,2575.8 4531.9,2591.8 4525.5,2604.7 4522.3,2623.9 4519.1,2649.6 4522.3,2675.3 4515.9,2694.5 4499.8,2678.5 4477.3,2675.3 4464.5,2688.1 4458.1,2707.3 4445.3,2726.6 4435.6,2749.7 4406.7,2749.7 4393.9,2717.0 4361.8,2688.1 4297.6,2656.0 4233.5,2623.9 4259.1,2598.2 4284.8,2582.2 4316.9,2566.1"/>
<polygon class="M" points="3944.6,2476.3 3976.7,2489.1 4008.8,2482.7 4053.7,2498.8 4073.0,2495.5 4098.7,2511.6 4137.2,2502.0 4169.3,2508.4 4207.8,2502.0 4188.5,2514.8 4175.7,2546.9 4162.9,2579.0 4146.8,2598.2 4156.4,2617.5 4130.8,2623.9 4092.3,2633.5 4053.7,2640.0 4021.7,2640.0 3976.7,2633.5 3944.6,2627.1 3912.5,2622.6 3886.9,2623.9 3861.2,2617.5 3841.9,2604.7 3797.0,2585.4 3867.6,2540.5 3931.8,2479.5"/>
<polygon class="M" points="3720.0,2620.7 3758.5,2604.7 3797.0,2585.4 3841.9,2604.7 3861.2,2617.5 3854.8,2643.2 3848.4,2675.3 3841.9,2720.2 3838.7,2749.7 3720.0,2749.7"/>
<polygon class="D" points="3861.2,2617.5 3886.9,2623.9 3912.5,2622.6 3944.6,2627.1 3976.7,2633.5 4021.7,2640.0 4060.2,2641.9 4066.6,2688.1 4063.4,2749.7 3838.7,2749.7 3841.9,2720.2 3848.4,2675.3 3854.8,2643.2"/>
<polygon class="M" points="4060.2,2641.9 4092.3,2633.5 4130.8,2623.9 4156.4,2617.5 4175.7,2630.3 4172.5,2688.1 4174.4,2749.7 4063.4,2749.7 4066.6,2688.1"/>
<polygon class="L" points="4175.7,2630.3 4207.8,2620.7 4233.5,2623.9 4297.6,2656.0 4361.8,2688.1 4393.9,2717.0 4406.7,2749.7 4174.4,2749.7 4172.5,2688.1"/>
<polygon class="M" points="4605.7,2749.7 4644.2,2742.7 4647.4,2713.8 4721.2,2707.3 4804.7,2700.9 4811.1,2733.0 4836.8,2749.7"/>
</g>
<path id="wb" d="M266.4,1973.6 L253.5,1944.7 L245.2,1938.3 L250.3,1922.3 L269.6,1896.6 L301.7,1859.4 L346.6,1819.6 L378.7,1787.5 L410.8,1749.0 L436.4,1722.0 L460.8,1697.6 L471.7,1715.6 L494.2,1722.0 L513.5,1734.8 L501.9,1755.4 L532.7,1745.8 L545.5,1755.4 L545.5,1797.1 L564.8,1816.4 L603.3,1832.4 L617.4,1851.7 L648.2,1878.6 L674.6,1906.9 L700.2,1942.8 L706.6,1958.8 L729.1,1963.3 L725.9,1974.9 L703.4,1994.1 L701.5,2023.0 L652.1,2000.6 L645.7,2016.6 L620.0,2048.7 L564.8,2047.4 L529.5,2058.3 L507.0,2031.4 L474.9,2034.6 L449.3,2028.2 L401.1,2026.2 L385.1,2041.0 L356.2,2044.2 L346.6,2028.2 L272.8,2028.2Z M460.8,1697.6 L487.8,1675.2 L513.5,1666.8 L577.6,1652.7 L641.8,1641.8 L706.0,1633.4 L770.2,1627.0 L834.4,1621.9 L898.6,1617.4 L938.3,1614.2 L940.3,1678.4 L946.7,1704.0 L927.4,1729.7 L949.9,1742.5 L953.7,1778.5 L940.9,1814.4 L937.7,1856.1 L918.4,1897.9 L906.9,1926.7 L921.7,1958.8 L912.0,1974.9 L902.4,1997.3 L844.6,2010.2 L812.5,2032.7 L796.5,2014.7 L777.2,2013.4 L767.6,1981.3 L751.6,1962.0 L729.1,1963.3 L706.6,1958.8 L700.2,1942.8 L674.6,1906.9 L648.2,1878.6 L617.4,1851.7 L603.3,1832.4 L564.8,1816.4 L545.5,1797.1 L545.5,1755.4 L532.7,1745.8 L501.9,1755.4 L513.5,1734.8 L494.2,1722.0 L471.7,1715.6Z M938.3,1614.2 L975.6,1601.3 L1001.2,1593.6 L1039.8,1596.2 L1078.3,1609.0 L1103.9,1602.6 L1124.5,1583.4 L1139.2,1591.7 L1150.1,1598.8 L1150.1,1620.6 L1153.4,1704.0 L1159.1,1750.2 L1165.5,1763.1 L1162.3,1779.1 L1172.0,1788.8 L1165.5,1808.0 L1139.9,1801.6 L1133.5,1830.5 L1107.8,1901.1 L1094.9,1946.0 L1037.2,1955.6 L1005.1,1942.8 L992.3,1953.7 L973.0,1942.8 L921.7,1958.8 L906.9,1926.7 L918.4,1897.9 L937.7,1856.1 L940.9,1814.4 L953.7,1778.5 L949.9,1742.5 L927.4,1729.7 L946.7,1704.0 L940.3,1678.4Z M1240.0,1910.7L1210.5,1933.2L1188.0,1920.3L1149.5,1907.5L1133.5,1939.6L1130.2,1952.4L1094.9,1946.0L1107.8,1901.1L1133.5,1830.5L1139.9,1801.6L1165.5,1808.0L1172.0,1788.8L1162.3,1779.1L1165.5,1763.1L1159.1,1750.2L1153.4,1704.0L1150.1,1620.6L1150.1,1598.8L1187.4,1607.8L1219.5,1612.9L1240.0,1607.8 M1240.0,2116.1L1168.8,2100.0L1165.5,2087.2L1136.7,2077.6L1136.7,1974.9L1133.5,1949.2L1149.5,1907.5L1188.0,1920.3L1210.5,1933.2L1240.0,1910.7 M811.9,2349.7L828.0,2333.0L847.8,2295.8L844.6,2151.4L847.8,2090.4L806.1,2068.0L780.5,2048.7L745.2,2045.5L738.7,2026.2L701.5,2023.0L703.4,1994.1L729.1,1963.3L751.6,1962.0L767.6,1981.3L777.2,2013.4L796.5,2014.7L812.5,2032.7L844.6,2010.2L902.4,1997.3L912.0,1974.9L921.7,1958.8L973.0,1942.8L992.3,1953.7L1005.1,1942.8L1037.2,1955.6L1094.9,1946.0L1130.2,1952.4L1136.7,1974.9L1136.7,2077.6L1165.5,2087.2L1155.9,2157.8L1024.3,2139.8L1017.9,2167.4L998.7,2209.2L1005.1,2349.7 M529.5,2058.3 L564.8,2048.7 L620.0,2048.7 L645.7,2016.6 L652.1,2000.6 L700.2,2003.8 L701.5,2023.0 L738.7,2026.2 L745.2,2045.5 L780.5,2048.7 L806.1,2068.0 L847.8,2090.4 L844.6,2119.3 L770.2,2121.2 L706.0,2123.1 L641.8,2127.6 L620.0,2124.4 L596.9,2135.3 L552.0,2130.8 L526.3,2123.1Z M436.4,2349.7L423.6,2334.3L385.1,2321.5L359.4,2320.2L346.6,2329.8L333.7,2317.0L301.7,2288.1L274.7,2262.4L272.8,2191.8L269.6,2095.5L272.8,2028.2L346.6,2028.2L356.2,2044.2L385.1,2041.0L401.1,2026.2L449.3,2028.2L474.9,2034.6L507.0,2031.4L529.5,2058.3L526.3,2123.1L552.0,2130.8L596.9,2135.3L617.4,2130.8L611.0,2191.8L614.9,2256.0L606.5,2313.8L596.9,2329.8L552.0,2334.3L513.5,2345.9L494.2,2349.7 M632.2,2349.7L616.1,2336.2L596.9,2329.8L606.5,2313.8L614.9,2256.0L611.0,2191.8L617.4,2130.8L641.8,2127.6L706.0,2123.1L770.2,2121.2L844.6,2119.3L845.9,2191.8L847.8,2256.0L847.8,2295.8L828.0,2333.0L811.9,2349.7 M1240.0,2300.9L1231.7,2309.9L1211.1,2322.8L1208.6,2349.7M1005.1,2349.7L998.7,2209.2L1017.9,2167.4L1024.3,2139.8L1155.9,2157.8L1157.2,2103.3L1194.4,2111.6L1198.9,2194.4L1207.3,2206.6L1194.4,2214.9L1198.9,2248.3L1231.7,2256.6L1240.0,2262.4 M1240.0,2262.4L1231.7,2256.6L1198.9,2248.3L1194.4,2214.9L1207.3,2206.6L1198.9,2194.4L1194.4,2111.6L1240.0,2115.4 M1208.6,2349.7L1211.1,2322.8L1231.7,2309.9L1240.0,2300.9 M173.3,2349.7L192.5,2333.0L243.9,2288.1L274.7,2262.4L301.7,2288.1L333.7,2317.0L346.6,2329.8L359.4,2320.2L385.1,2321.5L423.6,2334.3L436.4,2349.7 M494.2,2349.7L513.5,2345.9L552.0,2334.3L596.9,2329.8L616.1,2336.2L632.2,2349.7 M436.4,2350.0L449.3,2356.4L487.8,2361.6L513.5,2374.4L545.5,2369.3L577.6,2356.4L617.4,2350.0L619.4,2362.8L625.8,2414.2L632.2,2497.6L680.3,2510.5L718.8,2542.5L770.2,2600.3L779.8,2574.6L802.3,2555.4L821.5,2510.5L853.6,2491.2L898.6,2478.4L930.6,2459.1L943.5,2414.2L948.6,2378.9L969.2,2375.7L975.6,2350.0M988.4,2350.0L975.6,2375.7L962.7,2414.2L949.9,2459.1L924.2,2504.0L917.8,2529.7L924.2,2574.6L924.2,2619.6L937.1,2658.1L975.6,2690.2L1026.9,2696.6L1091.1,2703.0L1142.4,2722.3L1155.3,2735.1L1148.9,2786.4L1129.6,2799.3L1116.8,2850.6L1103.9,2889.1L1059.0,2902.0L962.7,2898.8L840.8,2902.0L821.5,2953.3L795.9,2953.3L789.4,2985.4L770.2,2985.4L706.0,2982.2L680.3,2959.7L680.3,2940.5L622.6,2934.1L603.3,2927.6L603.3,2959.7L590.5,2991.8L564.8,3023.9L552.0,3056.0L526.3,3088.1L500.6,3094.5L449.3,3088.1L410.8,3081.7L397.9,3078.5L372.3,3075.3L353.0,3056.0L346.6,3030.3L346.6,2998.2L333.7,2985.4L320.9,2991.8L314.5,3004.7L295.2,2985.4L276.0,2959.7L256.7,2934.1L243.9,2914.8L231.1,2902.0L211.8,2895.5L192.5,2882.7L173.3,2869.9L173.3,2850.6L166.9,2824.9L154.0,2812.1L144.4,2824.9L147.6,2844.2L141.2,2857.0L128.4,2847.4L105.9,2837.8L93.1,2824.9L96.3,2812.1L109.1,2799.3L118.7,2786.4L102.7,2767.2L99.5,2747.9L109.1,2735.1L128.4,2735.1L147.6,2747.9L154.0,2767.2L166.9,2773.6L186.1,2747.9L192.5,2715.8L179.7,2690.2L160.5,2677.3L128.4,2664.5L102.7,2632.4L89.9,2593.9L80.2,2542.5L77.0,2510.5L77.0,2465.5L83.4,2433.4L89.9,2420.6L102.7,2407.8L128.4,2388.5L154.0,2369.3L173.3,2350.0 M738.1,2350.0L750.9,2369.3L770.2,2378.9L799.1,2375.7L808.7,2356.4L811.9,2350.0M975.6,2350.0L969.2,2375.7L948.6,2378.9L943.5,2414.2L930.6,2459.1L898.6,2478.4L853.6,2491.2L821.5,2510.5L802.3,2555.4L779.8,2574.6L770.2,2600.3L718.8,2542.5L680.3,2510.5L632.2,2497.6L625.8,2414.2L619.4,2362.8L617.4,2350.0 M617.4,2350.0L577.6,2356.4L545.5,2369.3L513.5,2374.4L487.8,2361.6L449.3,2356.4L436.4,2350.0 M811.9,2350.0L808.7,2356.4L799.1,2375.7L770.2,2378.9L750.9,2369.3L738.1,2350.0 M1240.0,2561.8L1219.5,2581.1L1200.2,2619.6L1187.4,2658.1L1168.1,2696.6L1155.3,2719.0L1091.1,2703.0L1026.9,2696.6L975.6,2690.2L937.1,2658.1L924.2,2619.6L924.2,2574.6L917.8,2529.7L924.2,2504.0L949.9,2459.1L962.7,2414.2L969.2,2375.7L1000.0,2377.0L1066.1,2350.0L1124.5,2377.0L1173.9,2397.5L1186.1,2409.7L1240.0,2446.3 M1208.6,2350.0L1207.3,2364.1L1186.1,2409.7L1173.9,2397.5L1124.5,2377.0L1066.1,2350.0L1000.0,2377.0L1005.1,2350.0 M1240.0,2446.3L1186.1,2409.7L1207.3,2364.1L1208.6,2350.0 M1240.0,2837.8L1219.5,2818.5L1200.2,2799.3L1193.8,2773.6L1174.5,2760.8L1161.7,2735.1L1155.3,2719.0L1168.1,2696.6L1187.4,2658.1L1200.2,2619.6L1219.5,2581.1L1240.0,2561.8 M1240.0,3056.0L1219.5,3068.8L1200.2,3088.1L1181.0,3100.9L1168.1,3113.8L1142.4,3117.0L1116.8,3088.1L1103.9,3075.3L1091.1,3043.2L1084.7,2991.8L1091.1,2966.1L1059.0,2953.3L1039.8,2927.6L1026.9,2908.4L1059.0,2902.0L1103.9,2889.1L1116.8,2850.6L1129.6,2799.3L1148.9,2786.4L1155.3,2735.1L1161.7,2747.9L1174.5,2760.8L1193.8,2773.6L1200.2,2799.3L1219.5,2818.5L1240.0,2837.8 M840.8,2902.0 L962.7,2898.8 L1026.9,2908.4 L1039.8,2927.6 L1059.0,2953.3 L1091.1,2966.1 L1084.7,2991.8 L1091.1,3043.2 L1103.9,3075.3 L1116.8,3088.1 L1059.0,3094.5 L1026.9,3120.2 L1014.1,3107.3 L975.6,3056.0 L898.6,3043.2 L866.5,3030.3 L853.6,2991.8 L821.5,2953.3Z M442.9,3149.7L423.6,3126.6L410.8,3100.9L397.9,3078.5L410.8,3081.7L449.3,3088.1L500.6,3094.5L526.3,3088.1L552.0,3056.0L564.8,3023.9L590.5,2991.8L603.3,2959.7L603.3,2927.6L622.6,2934.1L680.3,2940.5L680.3,2959.7L706.0,2982.2L770.2,2985.4L789.4,2985.4L795.9,2953.3L821.5,2953.3L808.7,2979.0L789.4,3011.1L770.2,3056.0L757.3,3120.2L750.9,3149.7 M750.9,3149.7L757.3,3120.2L770.2,3056.0L789.4,3011.1L808.7,2979.0L821.5,2953.3L853.6,2991.8L866.5,3030.3L898.6,3043.2L975.6,3056.0L1014.1,3107.3L1026.9,3120.2L1059.0,3094.5L1116.8,3088.1L1142.4,3117.0L1155.3,3149.7 M1187.4,3149.7L1193.8,3107.3L1219.5,3068.8L1240.0,3056.0 M1294.6,2350.0L1268.9,2405.8L1252.8,2455.3L1240.0,2456.5 M1869.0,2350.0L1872.2,2401.3L1856.1,2411.0L1817.6,2420.6L1792.0,2427.0L1779.1,2446.3L1785.5,2478.4L1798.4,2497.6L1785.5,2504.0L1772.7,2471.9L1753.5,2459.1L1740.6,2443.1L1714.9,2446.3L1689.3,2452.7L1663.6,2465.5L1650.8,2427.0L1637.9,2414.2L1618.7,2427.0L1599.4,2420.6L1573.7,2391.7L1554.5,2401.3L1548.1,2439.9L1548.1,2471.9L1509.6,2484.8L1483.9,2475.2L1464.6,2471.9L1445.4,2478.4L1406.9,2491.2L1394.0,2523.3L1394.0,2542.5L1355.5,2532.9L1310.6,2520.1L1252.8,2455.3L1268.9,2405.8L1294.6,2350.0 M1240.0,2456.5L1252.8,2455.3L1310.6,2520.1L1355.5,2532.9L1394.0,2542.5L1400.5,2555.4L1394.0,2593.9L1397.2,2626.0L1384.4,2645.2L1390.8,2670.9L1397.2,2709.4L1400.5,2747.9L1394.0,2786.4L1368.4,2799.3L1336.3,2812.1L1304.2,2805.7L1278.5,2799.3L1265.7,2812.1L1252.8,2837.8L1240.0,2837.8 M1394.0,2542.5 L1394.0,2523.3 L1406.9,2491.2 L1445.4,2478.4 L1464.6,2471.9 L1483.9,2475.2 L1509.6,2484.8 L1548.1,2471.9 L1548.1,2439.9 L1554.5,2401.3 L1573.7,2391.7 L1599.4,2420.6 L1618.7,2427.0 L1637.9,2414.2 L1650.8,2427.0 L1663.6,2465.5 L1689.3,2452.7 L1714.9,2446.3 L1740.6,2443.1 L1727.8,2478.4 L1718.2,2516.9 L1708.5,2561.8 L1714.9,2587.5 L1734.2,2606.7 L1747.0,2619.6 L1702.1,2651.7 L1676.4,2683.7 L1657.2,2709.4 L1644.3,2747.9 L1625.1,2792.9 L1599.4,2767.2 L1580.2,2760.8 L1548.1,2767.2 L1522.4,2773.6 L1496.7,2780.0 L1464.6,2776.8 L1432.5,2773.6 L1406.9,2767.2 L1400.5,2747.9 L1397.2,2709.4 L1390.8,2670.9 L1384.4,2645.2 L1397.2,2626.0 L1394.0,2593.9 L1400.5,2555.4Z M1740.6,2443.1 L1753.5,2459.1 L1772.7,2471.9 L1785.5,2504.0 L1798.4,2497.6 L1785.5,2478.4 L1779.1,2446.3 L1792.0,2427.0 L1817.6,2420.6 L1856.1,2411.0 L1872.2,2401.3 L1888.2,2407.8 L1907.5,2414.2 L1920.3,2433.4 L1946.0,2430.2 L1965.3,2420.6 L1997.3,2433.4 L2042.3,2446.3 L2074.4,2459.1 L2106.5,2465.5 L2100.0,2523.3 L2074.4,2574.6 L2055.1,2619.6 L2035.9,2645.2 L2016.6,2651.7 L1997.3,2658.1 L1965.3,2651.7 L1946.0,2626.0 L1920.3,2626.0 L1901.1,2638.8 L1881.8,2670.9 L1856.1,2677.3 L1817.6,2658.1 L1792.0,2645.2 L1766.3,2632.4 L1747.0,2619.6 L1734.2,2606.7 L1714.9,2587.5 L1708.5,2561.8 L1718.2,2516.9 L1727.8,2478.4Z M2106.5,2350.0L2103.3,2388.5L2106.5,2465.5L2074.4,2459.1L2042.3,2446.3L1997.3,2433.4L1965.3,2420.6L1946.0,2430.2L1920.3,2433.4L1907.5,2414.2L1888.2,2407.8L1872.2,2401.3L1869.0,2350.0 M2279.8,2350.0L2279.8,2504.0L2241.2,2478.4L2202.7,2471.9L2196.3,2433.4L2151.4,2420.6L2109.7,2394.9L2106.5,2350.0 M2109.7,2394.9 L2151.4,2420.6 L2196.3,2433.4 L2202.7,2471.9 L2241.2,2478.4 L2279.8,2504.0 L2331.1,2516.9 L2363.2,2529.7 L2331.1,2606.7 L2318.3,2638.8 L2299.0,2664.5 L2266.9,2670.9 L2234.8,2674.1 L2202.7,2683.7 L2177.1,2696.6 L2138.6,2690.2 L2106.5,2677.3 L2087.2,2664.5 L2068.0,2645.2 L2055.1,2626.0 L2074.4,2574.6 L2100.0,2523.3 L2106.5,2465.5 L2103.3,2414.2Z M2427.4,2350.0L2440.2,2382.1L2480.0,2394.9M2480.0,2491.2L2427.4,2510.5L2363.2,2529.7L2331.1,2516.9L2279.8,2504.0L2279.8,2433.4L2279.8,2350.0 M2480.0,2394.9L2440.2,2382.1L2427.4,2350.0 M2480.0,2812.1L2459.5,2837.8L2446.6,2857.0L2427.4,2876.3L2382.4,2882.7L2331.1,2873.1L2299.0,2876.3L2273.3,2876.3L2266.9,2837.8L2279.8,2786.4L2286.2,2735.1L2299.0,2670.9L2318.3,2638.8L2331.1,2606.7L2363.2,2529.7L2427.4,2510.5L2480.0,2491.2 M2016.6,3149.7L2019.8,3120.2L2029.4,3081.7L2010.2,3062.4L2023.0,3043.2L2048.7,3023.9L2074.4,2998.2L2100.0,2966.1L2125.7,2927.6L2151.4,2889.1L2170.6,2850.6L2189.9,2812.1L2196.3,2767.2L2196.3,2715.8L2202.7,2683.7L2234.8,2674.1L2266.9,2670.9L2299.0,2664.5L2286.2,2735.1L2279.8,2786.4L2266.9,2837.8L2273.3,2876.3L2299.0,2876.3L2305.4,2914.8L2305.4,2959.7L2311.8,2979.0L2308.6,2991.8L2318.3,3030.3L2318.3,3049.6L2292.6,3036.7L2241.2,3030.3L2228.4,3043.2L2202.7,3056.0L2189.9,3075.3L2183.5,3107.3L2170.6,3149.7 M2100.0,3149.7L2100.0,3113.8L2151.4,3107.3L2164.2,3120.2L2164.2,3149.7 M2016.6,2651.7 L2035.9,2645.2 L2055.1,2626.0 L2068.0,2645.2 L2087.2,2664.5 L2106.5,2677.3 L2138.6,2690.2 L2177.1,2696.6 L2202.7,2683.7 L2196.3,2715.8 L2196.3,2767.2 L2189.9,2812.1 L2170.6,2850.6 L2151.4,2889.1 L2125.7,2927.6 L2100.0,2966.1 L2074.4,2998.2 L2048.7,3023.9 L2023.0,3043.2 L2010.2,3062.4 L1990.9,3023.9 L1997.3,2979.0 L2010.2,2953.3 L1997.3,2914.8 L1984.5,2876.3 L1978.1,2837.8 L1965.3,2831.4 L1978.1,2799.3 L1990.9,2760.8 L1997.3,2722.3 L2003.8,2683.7Z M1240.0,2837.8L1252.8,2837.8L1265.7,2812.1L1278.5,2799.3L1304.2,2805.7L1336.3,2812.1L1368.4,2799.3L1394.0,2786.4L1406.9,2767.2L1432.5,2773.6L1464.6,2776.8L1496.7,2780.0L1522.4,2773.6L1548.1,2767.2L1580.2,2760.8L1599.4,2767.2L1625.1,2792.9L1618.7,2863.5L1612.3,2895.5L1599.4,2902.0L1560.9,2905.2L1496.7,2898.8L1451.8,2902.0L1445.4,2959.7L1413.3,2985.4L1381.2,2979.0L1355.5,2953.3L1336.3,2959.7L1304.2,2991.8L1278.5,3030.3L1240.0,3036.7 M1240.0,3036.7L1278.5,3030.3L1304.2,2991.8L1336.3,2959.7L1355.5,2953.3L1381.2,2979.0L1413.3,2985.4L1445.4,2959.7L1451.8,2902.0L1496.7,2898.8L1560.9,2905.2L1599.4,2902.0L1637.9,2905.8L1634.7,2921.2L1612.3,2927.6L1589.8,2946.9L1560.9,2934.1L1509.6,2940.5L1483.9,2966.1L1464.6,3023.9L1458.2,3088.1L1451.8,3149.7 M1451.8,3149.7L1458.2,3088.1L1464.6,3023.9L1483.9,2966.1L1509.6,2940.5L1560.9,2934.1L1589.8,2946.9L1605.8,2959.7L1637.9,2979.0L1676.4,2985.4L1689.3,3017.5L1721.4,3030.3L1740.6,3056.0L1766.3,3088.1L1792.0,3120.2L1798.4,3149.7 M1798.4,3149.7L1792.0,3120.2L1766.3,3088.1L1740.6,3056.0L1721.4,3030.3L1689.3,3017.5L1676.4,2985.4L1637.9,2979.0L1605.8,2959.7L1589.8,2946.9L1612.3,2927.6L1634.7,2921.2L1637.9,2905.8L1612.3,2895.5L1618.7,2863.5L1625.1,2792.9L1644.3,2747.9L1657.2,2709.4L1676.4,2683.7L1702.1,2651.7L1747.0,2619.6L1766.3,2632.4L1792.0,2645.2L1817.6,2658.1L1856.1,2677.3L1881.8,2670.9L1901.1,2638.8L1920.3,2626.0L1946.0,2626.0L1965.3,2651.7L1997.3,2658.1L2016.6,2651.7L2003.8,2683.7L1997.3,2722.3L1990.9,2760.8L1978.1,2799.3L1965.3,2831.4L1978.1,2837.8L1984.5,2876.3L1997.3,2914.8L2010.2,2953.3L1997.3,2979.0L1990.9,3023.9L2010.2,3062.4L2029.4,3081.7L2019.8,3120.2L2016.6,3149.7 M2480.0,3056.0L2459.5,3062.4L2433.8,3049.6L2395.3,3046.4L2356.8,3049.6L2318.3,3049.6L2318.3,3030.3L2308.6,2991.8L2311.8,2979.0L2305.4,2959.7L2305.4,2914.8L2299.0,2876.3L2331.1,2873.1L2382.4,2882.7L2427.4,2876.3L2446.6,2857.0L2459.5,2837.8L2480.0,2812.1 M2170.6,3149.7L2183.5,3107.3L2189.9,3075.3L2202.7,3056.0L2228.4,3043.2L2241.2,3030.3L2292.6,3036.7L2318.3,3049.6L2356.8,3049.6L2395.3,3046.4L2433.8,3049.6L2459.5,3062.4L2480.0,3056.0 M1240.0,1606.5L1268.9,1598.1L1304.2,1607.8L1299.0,1639.9L1288.1,1671.9L1284.9,1742.5L1275.3,1806.7L1267.0,1870.9L1264.4,1915.8L1240.0,1910.7 M1304.2,1607.8 L1368.4,1612.3 L1432.5,1623.8 L1483.9,1636.6 L1522.4,1652.7 L1544.9,1660.4 L1532.0,1684.8 L1516.0,1710.5 L1508.3,1736.1 L1504.4,1774.6 L1503.1,1803.5 L1499.9,1819.6 L1483.9,1813.1 L1471.1,1797.1 L1458.2,1790.7 L1432.5,1788.8 L1426.1,1779.8 L1410.1,1826.0 L1397.2,1870.9 L1378.0,1915.8 L1358.7,1949.9 L1345.9,1973.6 L1344.0,1999.3 L1366.4,2016.0 L1339.5,2003.8 L1273.4,1983.2 L1265.0,1974.9 L1264.4,1915.8 L1267.0,1870.9 L1275.3,1806.7 L1284.9,1742.5 L1288.1,1671.9 L1299.0,1639.9Z M1240.0,1910.7L1264.4,1915.8L1265.0,1974.9L1273.4,1983.2L1339.5,2003.8L1366.4,2016.0L1364.5,2032.7L1352.3,2041.0L1331.1,2082.7L1306.1,2123.8L1240.0,2115.4 M1426.1,1779.8 L1432.5,1788.8 L1458.2,1790.7 L1471.1,1797.1 L1483.9,1813.1 L1499.9,1819.6 L1496.7,1870.9 L1490.3,1909.4 L1480.0,1949.9 L1484.5,1974.9 L1492.9,2032.7 L1525.6,2094.9 L1517.3,2123.8 L1534.0,2175.8 L1467.8,2165.5 L1464.0,2157.2 L1430.6,2128.3 L1422.3,2115.4 L1430.6,2086.6 L1413.9,2053.2 L1388.9,2039.1 L1364.5,2034.6 L1366.4,2016.0 L1344.0,1999.3 L1345.9,1973.6 L1358.7,1949.9 L1378.0,1915.8 L1397.2,1870.9 L1410.1,1826.0Z M1240.0,2300.9L1252.8,2272.7L1240.0,2262.4M1240.0,2115.4L1306.1,2123.8L1331.1,2082.7L1352.3,2041.0L1364.5,2034.6L1388.9,2039.1L1413.9,2053.2L1430.6,2086.6L1422.3,2115.4L1430.6,2128.3L1464.0,2157.2L1467.8,2165.5L1434.5,2181.6L1410.1,2223.3L1381.2,2264.3L1339.5,2306.1L1314.5,2322.8L1301.0,2349.7 M1301.0,2349.7L1314.5,2322.8L1339.5,2306.1L1381.2,2264.3L1410.1,2223.3L1434.5,2181.6L1467.8,2165.5L1534.0,2175.8L1517.3,2123.8L1525.6,2094.9L1492.9,2032.7L1484.5,1974.9L1480.0,1949.9L1490.3,1909.4L1496.7,1870.9L1499.9,1819.6L1503.1,1803.5L1504.4,1774.6L1508.3,1736.1L1516.0,1710.5L1532.0,1684.8L1544.9,1660.4L1554.5,1659.1L1573.7,1675.2L1586.6,1688.0L1589.8,1704.0L1605.8,1723.3L1618.7,1737.4L1599.4,1749.0L1580.2,1774.6L1589.8,1793.9L1580.2,1826.0L1593.0,1851.7L1589.8,1883.7L1596.2,1915.8L1618.7,1947.9L1625.1,1967.2L1612.3,1986.4L1586.6,2018.5L1605.8,2037.8L1625.1,2063.5L1637.9,2073.1L1689.3,2057.0L1727.8,2069.9L1740.6,2082.7L1804.8,2102.0L1820.8,2114.8L1894.7,2159.7L1901.1,2198.2L1849.7,2199.5L1846.5,2230.3L1827.3,2256.0L1808.0,2320.2L1801.6,2349.7 M1618.7,1737.4 L1625.1,1736.1 L1657.2,1761.8 L1682.9,1787.5 L1721.4,1813.1 L1766.3,1845.2 L1814.4,1887.0 L1804.8,1909.4 L1798.4,1947.9 L1795.2,1973.6 L1779.1,1992.9 L1785.5,2005.7 L1772.7,2024.9 L1766.3,2057.0 L1740.6,2082.7 L1727.8,2069.9 L1689.3,2057.0 L1637.9,2073.1 L1625.1,2063.5 L1605.8,2037.8 L1586.6,2018.5 L1612.3,1986.4 L1625.1,1967.2 L1618.7,1947.9 L1596.2,1915.8 L1589.8,1883.7 L1593.0,1851.7 L1580.2,1826.0 L1589.8,1793.9 L1580.2,1774.6 L1599.4,1749.0Z M1814.4,1887.0 L1881.8,1919.0 L1946.0,1954.3 L1952.4,1960.8 L1933.2,1992.9 L1930.0,2024.9 L1920.3,2063.5 L1913.9,2114.8 L1901.1,2159.7 L1894.7,2159.7 L1820.8,2114.8 L1804.8,2102.0 L1740.6,2082.7 L1766.3,2057.0 L1772.7,2024.9 L1785.5,2005.7 L1779.1,1992.9 L1795.2,1973.6 L1798.4,1947.9 L1804.8,1909.4Z M1952.4,1960.8 L2010.2,1986.4 L2074.4,2012.1 L2138.6,2034.6 L2170.6,2044.2 L2173.9,2063.5 L2170.6,2127.6 L2157.8,2166.1 L2132.1,2217.5 L2109.7,2217.5 L2042.3,2236.7 L2010.2,2231.6 L1946.0,2217.5 L1901.1,2198.2 L1894.7,2159.7 L1901.1,2159.7 L1913.9,2114.8 L1920.3,2063.5 L1930.0,2024.9 L1933.2,1992.9Z M1801.6,2349.7L1808.0,2320.2L1827.3,2256.0L1846.5,2230.3L1849.7,2199.5L1901.1,2198.2L1946.0,2217.5L2010.2,2231.6L2042.3,2236.7L2109.7,2217.5L2112.9,2256.0L2116.1,2349.7 M2116.1,2349.7L2112.9,2256.0L2109.7,2217.5L2132.1,2217.5L2157.8,2166.1L2170.6,2127.6L2173.9,2063.5L2173.9,2047.4L2202.7,2050.6L2266.9,2060.2L2331.1,2069.9L2356.8,2082.7L2395.3,2089.1L2424.2,2094.3L2437.0,2114.8L2437.0,2166.1L2427.4,2198.2L2414.5,2230.3L2395.3,2249.6L2382.4,2252.8L2337.5,2252.8L2338.8,2272.0L2369.6,2275.3L2385.7,2291.3L2395.3,2320.2L2414.5,2339.4L2427.4,2349.7 M2427.4,2349.7L2414.5,2339.4L2395.3,2320.2L2385.7,2291.3L2369.6,2275.3L2338.8,2272.0L2337.5,2252.8L2382.4,2252.8L2395.3,2249.6L2414.5,2230.3L2427.4,2198.2L2437.0,2166.1L2437.0,2114.8L2424.2,2094.3L2459.5,2100.7L2480.0,2103.9 M1284.9,3950.0L1304.2,3962.8L1336.3,3975.7L1368.4,3982.1L1406.9,3969.3L1442.2,3950.0M1573.7,3950.0L1560.9,3975.7L1522.4,3988.5L1483.9,4014.2L1419.7,4007.8L1387.6,4020.6L1368.4,4014.2L1304.2,4007.8L1240.0,3988.5 M1689.3,3950.0L1682.9,3975.7L1663.6,4014.2L1644.3,4052.7L1625.1,4084.8L1605.8,4129.7L1586.6,4174.6L1573.7,4213.1L1560.9,4251.7L1554.5,4258.1L1535.2,4226.0L1509.6,4206.7L1464.6,4193.9L1432.5,4193.9L1419.7,4161.8L1381.2,4136.1L1368.4,4091.2L1329.9,4084.8L1323.4,4071.9L1387.6,4020.6L1419.7,4007.8L1483.9,4014.2L1522.4,3988.5L1560.9,3975.7L1573.7,3950.0 M1901.1,3950.0L1894.7,3988.5L1894.7,4020.6L1856.1,4033.4L1836.9,4052.7L1811.2,4071.9L1804.8,4097.6L1817.6,4116.9L1804.8,4136.1L1811.2,4161.8L1830.5,4187.5L1843.3,4206.7L1817.6,4219.6L1785.5,4238.8L1753.5,4258.1L1721.4,4277.3L1657.2,4290.2L1599.4,4290.2L1554.5,4283.7L1554.5,4258.1L1560.9,4251.7L1573.7,4213.1L1586.6,4174.6L1605.8,4129.7L1625.1,4084.8L1644.3,4052.7L1663.6,4014.2L1682.9,3975.7L1689.3,3950.0 M2266.9,3950.0L2260.5,3988.5L2299.0,4020.6L2324.7,4033.4L2318.3,4065.5L2292.6,4091.2L2254.1,4071.9L2215.6,4059.1L2177.1,4078.4L2138.6,4097.6L2119.3,4116.9L2112.9,4142.5L2093.6,4161.8L2068.0,4174.6L2055.1,4206.7L2042.3,4226.0L2010.2,4200.3L1978.1,4187.5L1946.0,4174.6L1913.9,4161.8L1881.8,4149.0L1849.7,4142.5L1817.6,4155.4L1811.2,4161.8L1804.8,4136.1L1817.6,4116.9L1804.8,4097.6L1811.2,4071.9L1836.9,4052.7L1856.1,4033.4L1894.7,4020.6L1894.7,3988.5L1901.1,3950.0 M1817.6,4155.4 L1849.7,4142.5 L1881.8,4149.0 L1913.9,4161.8 L1946.0,4174.6 L1978.1,4187.5 L2010.2,4200.3 L2042.3,4226.0 L2039.1,4270.9 L2035.9,4309.4 L2042.3,4347.9 L2042.3,4399.3 L2035.9,4437.8 L2016.6,4457.0 L1997.3,4463.5 L1971.7,4469.9 L1946.0,4457.0 L1920.3,4424.9 L1907.5,4392.9 L1901.1,4360.8 L1862.6,4354.3 L1836.9,4360.8 L1817.6,4373.6 L1792.0,4367.2 L1766.3,4373.6 L1747.0,4386.4 L1740.6,4412.1 L1727.8,4431.4 L1714.9,4450.6 L1689.3,4450.6 L1657.2,4457.0 L1644.3,4437.8 L1631.5,4424.9 L1625.1,4450.6 L1593.0,4482.7 L1560.9,4502.0 L1528.8,4514.8 L1496.7,4534.1 L1464.6,4553.3 L1439.0,4566.1 L1413.3,4585.4 L1400.5,4591.8 L1406.9,4566.1 L1432.5,4514.8 L1458.2,4495.5 L1483.9,4463.5 L1496.7,4469.9 L1509.6,4450.6 L1528.8,4437.8 L1560.9,4424.9 L1586.6,4412.1 L1625.1,4399.3 L1644.3,4367.2 L1650.8,4347.9 L1663.6,4328.7 L1637.9,4309.4 L1599.4,4296.6 L1554.5,4283.7 L1599.4,4290.2 L1657.2,4290.2 L1721.4,4277.3 L1753.5,4258.1 L1785.5,4238.8 L1817.6,4219.6 L1843.3,4206.7 L1830.5,4187.5 L1811.2,4161.8Z M1747.0,4386.4 L1766.3,4373.6 L1792.0,4367.2 L1817.6,4373.6 L1836.9,4360.8 L1862.6,4354.3 L1901.1,4360.8 L1907.5,4392.9 L1920.3,4424.9 L1946.0,4457.0 L1971.7,4469.9 L1997.3,4463.5 L2016.6,4457.0 L2035.9,4437.8 L2042.3,4399.3 L2042.3,4347.9 L2035.9,4309.4 L2039.1,4270.9 L2042.3,4226.0 L2055.1,4219.6 L2087.2,4226.0 L2112.9,4245.2 L2138.6,4270.9 L2157.8,4296.6 L2170.6,4322.3 L2177.1,4360.8 L2183.5,4399.3 L2183.5,4437.8 L2177.1,4463.5 L2164.2,4489.1 L2138.6,4482.7 L2106.5,4495.5 L2087.2,4514.8 L2074.4,4553.3 L2068.0,4591.8 L2061.5,4623.9 L2055.1,4656.0 L2061.5,4700.9 L2048.7,4707.3 L2035.9,4694.5 L1997.3,4688.1 L1971.7,4675.3 L1958.8,4643.2 L1946.0,4604.7 L1933.2,4566.1 L1920.3,4537.3 L1894.7,4540.5 L1875.4,4566.1 L1856.1,4566.1 L1836.9,4553.3 L1798.4,4534.1 L1792.0,4524.4 L1766.3,4540.5 L1740.6,4553.3 L1727.8,4579.0 L1714.9,4585.4 L1708.5,4553.3 L1714.9,4527.6 L1721.4,4502.0 L1714.9,4476.3 L1708.5,4457.0 L1714.9,4450.6 L1727.8,4431.4 L1740.6,4412.1Z M2055.1,4206.7 L2068.0,4174.6 L2093.6,4161.8 L2112.9,4142.5 L2119.3,4116.9 L2138.6,4097.6 L2177.1,4078.4 L2215.6,4059.1 L2254.1,4071.9 L2292.6,4091.2 L2318.3,4116.9 L2343.9,4129.7 L2356.8,4161.8 L2331.1,4181.1 L2299.0,4193.9 L2266.9,4206.7 L2241.2,4226.0 L2260.5,4245.2 L2254.1,4283.7 L2247.7,4322.3 L2241.2,4360.8 L2234.8,4399.3 L2241.2,4424.9 L2247.7,4457.0 L2228.4,4476.3 L2202.7,4508.4 L2183.5,4514.8 L2164.2,4489.1 L2177.1,4463.5 L2183.5,4437.8 L2183.5,4399.3 L2177.1,4360.8 L2170.6,4322.3 L2157.8,4296.6 L2138.6,4270.9 L2112.9,4245.2 L2087.2,4226.0 L2055.1,4219.6Z M2356.8,4161.8 L2382.4,4142.5 L2414.5,4123.3 L2433.8,4129.7 L2453.0,4155.4 L2480.0,4155.4 L2459.5,4168.2 L2446.6,4174.6 L2433.8,4206.7 L2433.8,4238.8 L2421.0,4270.9 L2401.7,4309.4 L2395.3,4335.1 L2382.4,4373.6 L2369.6,4392.9 L2331.1,4412.1 L2311.8,4424.9 L2292.6,4418.5 L2266.9,4424.9 L2247.7,4457.0 L2241.2,4424.9 L2234.8,4399.3 L2241.2,4360.8 L2247.7,4322.3 L2254.1,4283.7 L2260.5,4245.2 L2241.2,4226.0 L2266.9,4206.7 L2299.0,4193.9 L2331.1,4181.1Z M2480.0,4155.4L2453.0,4155.4L2433.8,4129.7L2414.5,4123.3L2382.4,4142.5L2356.8,4161.8L2343.9,4129.7L2318.3,4116.9L2292.6,4091.2L2318.3,4065.5L2324.7,4033.4L2299.0,4020.6L2260.5,3988.5L2266.9,3950.0 M2480.0,2104.0L2544.2,2118.2L2608.4,2129.7L2637.2,2136.1L2672.5,2152.2L2707.8,2158.6L2711.1,2181.1L2701.4,2219.6L2691.8,2258.1L2653.3,2264.5L2592.3,2277.3L2573.1,2299.8L2566.6,2335.1L2576.3,2360.8L2582.7,2378.7L2531.3,2385.2L2480.0,2381.3 M2707.8,2158.6 L2736.7,2161.8 L2800.9,2171.4 L2852.3,2181.1 L2884.3,2182.3 L2881.1,2238.8 L2872.8,2283.7 L2869.6,2299.8 L2865.7,2341.5 L2874.1,2382.6 L2852.9,2407.6 L2833.0,2378.7 L2799.6,2382.6 L2794.5,2392.9 L2762.4,2392.9 L2723.9,2399.3 L2672.5,2424.9 L2650.1,2399.3 L2608.4,2386.4 L2582.7,2378.7 L2576.3,2360.8 L2566.6,2335.1 L2573.1,2299.8 L2592.3,2277.3 L2653.3,2264.5 L2691.8,2258.1 L2701.4,2219.6 L2711.1,2181.1Z M2884.3,2182.3 L2897.2,2177.8 L2929.3,2177.8 L2961.4,2175.9 L2993.5,2187.5 L3025.5,2188.8 L3057.6,2190.7 L3089.7,2193.9 L3121.8,2197.1 L3153.9,2200.3 L3186.0,2203.5 L3218.1,2209.9 L3214.9,2238.8 L3205.3,2283.7 L3192.4,2322.3 L3188.6,2353.7 L3209.1,2333.2 L3217.5,2353.7 L3255.3,2390.9 L3238.6,2432.7 L3192.4,2416.0 L3155.2,2444.8 L3147.5,2498.8 L3101.9,2548.2 L3073.0,2548.2 L3056.4,2532.1 L3056.4,2494.3 L3048.0,2465.4 L3035.2,2457.0 L2998.0,2482.1 L2965.2,2490.4 L2960.7,2507.1 L2915.2,2515.4 L2898.5,2473.7 L2886.3,2444.8 L2874.1,2416.0 L2852.9,2407.6 L2874.1,2382.6 L2865.7,2341.5 L2869.6,2299.8 L2872.8,2283.7 L2881.1,2238.8Z M2794.5,2392.9 L2799.6,2382.6 L2833.0,2378.7 L2852.9,2407.6 L2874.1,2416.0 L2886.3,2444.8 L2898.5,2473.7 L2915.2,2515.4 L2960.7,2507.1 L2965.2,2490.4 L2998.0,2482.1 L3035.2,2457.0 L3048.0,2465.4 L3056.4,2494.3 L3056.4,2532.1 L3073.0,2548.2 L3043.5,2598.2 L3035.2,2672.7 L3026.8,2739.4 L2999.9,2734.9 L2951.7,2731.1 L2915.8,2727.9 L2879.9,2734.9 L2833.0,2724.0 L2828.5,2610.4 L2820.2,2589.9 L2803.5,2581.6 L2813.7,2566.1 L2826.6,2527.6 L2813.7,2514.8 L2820.2,2482.7 L2813.7,2463.5 L2794.5,2457.0 L2797.7,2412.1Z M2480.0,2381.3L2531.3,2385.2L2582.7,2378.7L2608.4,2386.4L2650.1,2399.3L2672.5,2424.9L2723.9,2399.3L2762.4,2392.9L2794.5,2392.9L2797.7,2412.1L2794.5,2457.0L2813.7,2463.5L2820.2,2482.7L2813.7,2514.8L2826.6,2527.6L2813.7,2566.1L2736.7,2582.2L2704.6,2585.4L2698.2,2553.3L2679.0,2540.5L2646.9,2572.6L2621.2,2598.2L2601.9,2598.2L2589.8,2641.2L2575.0,2677.2L2578.8,2695.2L2603.9,2706.1L2589.8,2742.0L2553.8,2724.0L2517.2,2749.7 M2601.9,2598.2 L2621.2,2598.2 L2646.9,2572.6 L2679.0,2540.5 L2698.2,2553.3 L2704.6,2585.4 L2736.7,2582.2 L2813.7,2566.1 L2803.5,2581.6 L2820.2,2589.9 L2828.5,2610.4 L2833.0,2724.0 L2806.7,2727.9 L2770.7,2717.0 L2734.8,2713.1 L2698.9,2706.1 L2662.3,2720.2 L2625.7,2709.3 L2607.7,2713.1 L2603.9,2706.1 L2578.8,2695.2 L2575.0,2677.2 L2589.8,2641.2Z M2589.8,2749.7L2589.8,2742.0L2603.9,2706.1L2607.7,2713.1L2625.7,2709.3L2662.3,2720.2L2698.9,2706.1L2734.8,2713.1L2770.7,2717.0L2806.7,2727.9L2833.0,2724.0L2833.0,2749.7 M2833.0,2749.7L2833.0,2724.0L2879.9,2734.9L2915.8,2727.9L2951.7,2731.1L2999.9,2734.9L3026.8,2739.4L3026.8,2749.7 M3026.8,2749.7L3035.2,2672.7L3043.5,2598.2L3073.0,2548.2L3101.9,2548.2L3114.1,2564.9L3130.8,2606.6L3139.2,2631.0L3155.2,2656.0L3196.9,2668.2L3238.6,2681.0L3259.2,2688.1L3250.2,2749.7 M3101.9,2548.2 L3147.5,2498.8 L3155.2,2444.8 L3192.4,2416.0 L3238.6,2432.7 L3255.3,2465.4 L3288.1,2494.9 L3313.1,2532.1 L3304.7,2569.4 L3288.1,2589.9 L3279.7,2614.9 L3291.9,2639.3 L3279.7,2656.0 L3259.2,2672.7 L3238.6,2681.0 L3196.9,2668.2 L3155.2,2656.0 L3139.2,2631.0 L3130.8,2606.6 L3114.1,2564.9Z M3218.1,2209.9 L3250.2,2209.9 L3282.3,2206.7 L3314.4,2205.4 L3340.0,2206.7 L3368.9,2214.4 L3360.6,2258.1 L3362.5,2299.8 L3346.5,2324.8 L3321.4,2341.5 L3313.1,2378.7 L3271.4,2382.6 L3250.8,2390.9 L3238.6,2432.7 L3255.3,2390.9 L3217.5,2353.7 L3209.1,2333.2 L3188.6,2353.7 L3192.4,2322.3 L3205.3,2283.7 L3214.9,2238.8Z M3368.9,2214.4 L3404.2,2224.7 L3429.9,2242.0 L3455.6,2258.1 L3481.2,2267.7 L3493.4,2274.8 L3487.0,2290.2 L3474.8,2302.4 L3462.0,2324.2 L3449.8,2333.8 L3443.4,2342.8 L3418.3,2373.6 L3399.7,2401.8 L3378.6,2424.9 L3359.3,2444.2 L3333.6,2469.9 L3313.1,2495.5 L3313.1,2532.1 L3288.1,2494.9 L3255.3,2465.4 L3238.6,2432.7 L3250.8,2390.9 L3271.4,2382.6 L3313.1,2378.7 L3321.4,2341.5 L3346.5,2324.8 L3362.5,2299.8 L3360.6,2258.1Z M3493.4,2274.8 L3506.9,2274.1 L3539.0,2278.6 L3571.1,2282.5 L3589.7,2283.7 L3592.3,2302.4 L3576.9,2355.0 L3567.9,2386.4 L3552.5,2386.4 L3443.4,2342.8 L3449.8,2333.8 L3462.0,2324.2 L3474.8,2302.4 L3487.0,2290.2Z M3399.7,2401.8 L3418.3,2373.6 L3443.4,2342.8 L3552.5,2386.4 L3567.9,2386.4 L3567.9,2401.8 L3561.5,2429.4 L3573.7,2445.5 L3586.5,2479.5 L3605.1,2510.3 L3617.3,2557.2 L3614.1,2619.4 L3623.7,2634.8 L3617.3,2665.6 L3555.1,2675.3 L3508.8,2690.7 L3477.4,2702.9 L3462.0,2697.1 L3431.2,2684.2 L3399.7,2665.6 L3365.7,2652.8 L3314.4,2636.7 L3291.9,2639.3 L3279.7,2614.9 L3288.1,2589.9 L3304.7,2569.4 L3313.1,2532.1 L3313.1,2495.5 L3333.6,2469.9 L3359.3,2444.2 L3378.6,2424.9Z M3730.9,2476.3L3707.2,2510.3L3682.8,2541.8L3664.2,2579.0L3648.1,2594.4L3657.7,2606.6L3629.5,2634.8L3617.3,2628.4L3614.1,2619.4L3617.3,2557.2L3605.1,2510.3L3586.5,2479.5L3573.7,2445.5L3561.5,2429.4L3567.9,2401.8L3567.9,2386.4L3576.9,2355.0L3592.3,2302.4L3589.7,2283.7L3617.3,2285.0L3635.3,2287.0L3667.4,2285.7L3699.5,2283.7L3710.4,2285.0L3707.2,2355.0L3695.0,2429.4L3725.8,2454.5 M2691.8,2750.0L2704.6,2769.3L2691.8,2801.3L2640.5,2820.6L2614.8,2839.9L2601.9,2865.5L2544.2,2871.9L2505.7,2875.2L2480.0,2871.9M2480.0,2814.2L2499.3,2788.5L2518.5,2769.3L2550.6,2750.0 M2480.0,2871.9L2505.7,2875.2L2544.2,2871.9L2601.9,2865.5L2614.8,2839.9L2640.5,2820.6L2691.8,2801.3L2723.9,2793.6L2743.1,2807.8L2736.7,2839.9L2711.1,2878.4L2685.4,2900.8L2672.5,2916.9L2672.5,2942.5L2682.2,2968.2L2653.3,2981.1L2608.4,2990.7L2544.2,2997.1L2512.1,3000.3L2480.0,2993.9 M2829.8,2750.0L2826.6,2788.5L2813.7,2833.4L2800.9,2878.4L2794.5,2929.7L2794.5,2961.8L2762.4,2974.6L2749.6,2949.0L2704.6,2923.3L2682.2,2910.5L2685.4,2900.8L2711.1,2878.4L2736.7,2839.9L2743.1,2807.8L2723.9,2793.6L2691.8,2801.3L2704.6,2769.3L2691.8,2750.0 M2682.2,2910.5 L2704.6,2923.3 L2749.6,2949.0 L2762.4,2974.6 L2794.5,2961.8 L2826.6,2955.4 L2865.1,2961.8 L2890.8,2987.5 L2877.9,3019.6 L2871.5,3045.2 L2839.4,3064.5 L2813.7,3096.6 L2788.1,3122.3 L2762.4,3154.3 L2743.1,3192.9 L2723.9,3186.4 L2685.4,3167.2 L2653.3,3147.9 L2634.0,3135.1 L2640.5,3109.4 L2646.9,3058.1 L2666.1,3045.2 L2679.0,3006.7 L2698.2,2993.9 L2682.2,2968.2 L2672.5,2942.5 L2672.5,2916.9Z M3250.2,2750.0L3243.8,2788.5L3230.9,2814.2L3224.5,2846.3L3256.6,2846.3L3275.9,2859.1L3275.9,2897.6L3269.4,2929.7L3275.9,2961.8L3243.8,2968.2L3224.5,2974.6L3186.0,2961.8L3147.5,2955.4L3121.8,2961.8L3128.2,3006.7L3121.8,3038.8L3083.3,3064.5L3057.6,3045.2L3032.0,3019.6L2980.6,3006.7L2967.8,2987.5L2929.3,2997.1L2890.8,2987.5L2865.1,2961.8L2826.6,2955.4L2794.5,2961.8L2794.5,2929.7L2800.9,2878.4L2813.7,2833.4L2826.6,2788.5L2829.8,2750.0 M2743.1,3192.9 L2762.4,3154.3 L2788.1,3122.3 L2813.7,3096.6 L2839.4,3064.5 L2871.5,3045.2 L2877.9,3019.6 L2890.8,2987.5 L2929.3,2997.1 L2967.8,2987.5 L2974.2,3038.8 L2967.8,3070.9 L2942.1,3083.7 L2935.7,3109.4 L2929.3,3141.5 L2916.4,3167.2 L2922.9,3199.3 L2948.5,3205.7 L2974.2,3231.4 L2993.5,3250.6 L3019.1,3269.9 L3038.4,3282.7 L3025.5,3295.5 L2993.5,3302.0 L2961.4,3282.7 L2929.3,3276.3 L2897.2,3269.9 L2865.1,3263.5 L2839.4,3257.0 L2813.7,3244.2 L2788.1,3237.8 L2768.8,3224.9 L2749.6,3212.1Z M2974.2,3038.8 L2980.6,3006.7 L3032.0,3019.6 L3057.6,3045.2 L3083.3,3064.5 L3096.1,3109.4 L3121.8,3147.9 L3141.1,3167.2 L3153.9,3199.3 L3160.3,3237.8 L3121.8,3250.6 L3070.5,3263.5 L3038.4,3282.7 L3019.1,3269.9 L2993.5,3250.6 L2974.2,3231.4 L2948.5,3205.7 L2922.9,3199.3 L2916.4,3167.2 L2929.3,3141.5 L2935.7,3109.4 L2942.1,3083.7 L2967.8,3070.9Z M3121.8,2961.8 L3147.5,2955.4 L3186.0,2961.8 L3224.5,2974.6 L3243.8,2968.2 L3275.9,2961.8 L3282.3,2993.9 L3282.3,3032.4 L3269.4,3070.9 L3288.7,3109.4 L3308.0,3122.3 L3295.1,3160.8 L3288.7,3199.3 L3301.5,3237.8 L3308.0,3257.0 L3269.4,3250.6 L3243.8,3237.8 L3218.1,3244.2 L3173.2,3237.8 L3160.3,3237.8 L3153.9,3199.3 L3141.1,3167.2 L3121.8,3147.9 L3096.1,3109.4 L3083.3,3064.5 L3121.8,3038.8 L3128.2,3006.7Z M3160.3,3237.8 L3173.2,3237.8 L3218.1,3244.2 L3243.8,3237.8 L3269.4,3250.6 L3308.0,3257.0 L3320.8,3263.5 L3346.5,3295.5 L3365.7,3327.6 L3378.6,3353.3 L3391.4,3379.0 L3410.6,3391.8 L3423.5,3404.7 L3404.2,3411.1 L3365.7,3417.5 L3333.6,3430.3 L3301.5,3443.2 L3269.4,3456.0 L3237.3,3475.3 L3205.3,3488.1 L3186.0,3430.3 L3173.2,3359.7 L3173.2,3302.0 L3166.7,3263.5Z M3308.0,3122.3 L3314.4,3122.3 L3391.4,3173.6 L3397.8,3180.0 L3385.0,3199.3 L3391.4,3237.8 L3378.6,3263.5 L3385.0,3295.5 L3417.1,3302.0 L3449.2,3298.8 L3462.0,3314.8 L3449.2,3327.6 L3442.7,3366.1 L3429.9,3391.8 L3410.6,3391.8 L3391.4,3379.0 L3378.6,3353.3 L3365.7,3327.6 L3346.5,3295.5 L3320.8,3263.5 L3308.0,3257.0 L3301.5,3237.8 L3288.7,3199.3 L3295.1,3160.8Z M3275.9,2961.8 L3314.4,2968.2 L3346.5,2961.8 L3378.6,2968.2 L3410.6,2981.1 L3442.7,2981.1 L3474.8,2968.2 L3506.9,2974.6 L3519.8,2987.5 L3532.6,2961.8 L3545.4,2949.0 L3571.1,2942.5 L3596.8,2920.1 L3609.6,2942.5 L3635.3,2968.2 L3667.4,2993.9 L3680.2,3013.1 L3661.0,3038.8 L3641.7,3064.5 L3628.9,3090.2 L3596.8,3099.8 L3564.7,3096.6 L3545.4,3122.3 L3532.6,3147.9 L3506.9,3199.3 L3487.7,3205.7 L3429.9,3173.6 L3397.8,3180.0 L3314.4,3122.3 L3308.0,3122.3 L3288.7,3109.4 L3269.4,3070.9 L3282.3,3032.4 L3282.3,2993.9Z M3442.7,2750.0L3455.6,2769.3L3506.9,2782.1L3532.6,2807.8L3571.1,2833.4L3596.8,2852.7L3616.0,2878.4L3628.9,2904.0L3596.8,2920.1L3571.1,2910.5L3539.0,2907.2L3506.9,2904.0L3474.8,2900.8L3442.7,2897.6L3378.6,2897.6L3314.4,2904.0L3275.9,2897.6L3275.9,2859.1L3256.6,2846.3L3224.5,2846.3L3230.9,2814.2L3243.8,2788.5L3250.2,2750.0 M3275.9,2897.6 L3314.4,2904.0 L3378.6,2897.6 L3442.7,2897.6 L3474.8,2900.8 L3506.9,2904.0 L3539.0,2907.2 L3571.1,2910.5 L3596.8,2920.1 L3571.1,2942.5 L3545.4,2949.0 L3532.6,2961.8 L3519.8,2987.5 L3506.9,2974.6 L3474.8,2968.2 L3442.7,2981.1 L3410.6,2981.1 L3378.6,2968.2 L3346.5,2961.8 L3314.4,2968.2 L3275.9,2961.8 L3269.4,2929.7Z M3641.7,2750.0L3654.5,2772.5L3686.6,2778.9L3720.0,2772.5M3720.0,2904.0L3699.5,2891.2L3667.4,2888.0L3635.3,2897.6L3616.0,2878.4L3596.8,2852.7L3571.1,2833.4L3532.6,2807.8L3506.9,2782.1L3455.6,2769.3L3442.7,2750.0 M3720.0,3026.0L3680.2,3013.1L3667.4,2993.9L3635.3,2968.2L3609.6,2942.5L3596.8,2920.1L3635.3,2897.6L3667.4,2888.0L3699.5,2891.2L3720.0,2904.0 M3720.0,3327.6L3635.3,3282.7L3571.1,3250.6L3506.9,3218.5L3487.7,3205.7L3506.9,3199.3L3532.6,3147.9L3545.4,3122.3L3564.7,3096.6L3596.8,3099.8L3628.9,3090.2L3641.7,3064.5L3661.0,3038.8L3680.2,3013.1L3720.0,3026.0 M3720.0,3340.5L3686.6,3346.9L3661.0,3404.7L3635.3,3391.8L3571.1,3379.0L3506.9,3366.1L3442.7,3366.1L3449.2,3327.6L3462.0,3314.8L3449.2,3298.8L3417.1,3302.0L3385.0,3295.5L3378.6,3263.5L3391.4,3237.8L3385.0,3199.3L3397.8,3180.0L3429.9,3173.6L3487.7,3205.7L3506.9,3218.5L3571.1,3250.6L3635.3,3282.7L3720.0,3327.6 M3442.7,3366.1 L3506.9,3366.1 L3571.1,3379.0 L3635.3,3391.8 L3661.0,3404.7 L3654.5,3443.2 L3648.1,3488.1 L3603.2,3494.5 L3571.1,3500.9 L3506.9,3507.3 L3474.8,3520.2 L3436.3,3520.2 L3429.9,3507.3 L3436.3,3468.8 L3449.2,3443.2 L3442.7,3417.5 L3429.9,3391.8Z M3720.0,3500.9L3693.0,3507.3L3648.1,3488.1L3654.5,3443.2L3661.0,3404.7L3686.6,3346.9L3720.0,3340.5 M3436.3,3549.7L3436.3,3520.2L3474.8,3520.2L3506.9,3507.3L3571.1,3500.9L3603.2,3494.5L3648.1,3488.1L3693.0,3507.3L3699.5,3549.7 M3192.4,3549.7L3198.8,3520.2L3205.3,3488.1L3237.3,3475.3L3269.4,3456.0L3301.5,3443.2L3333.6,3430.3L3365.7,3417.5L3404.2,3411.1L3423.5,3404.7L3429.9,3391.8L3442.7,3417.5L3449.2,3443.2L3436.3,3468.8L3429.9,3507.3L3436.3,3549.7 M3121.8,3549.7L3089.7,3526.6L3057.6,3507.3L3025.5,3488.1L2993.5,3468.8L2961.4,3449.6L2929.3,3430.3L2903.6,3404.7L2897.2,3379.0L2890.8,3327.6L2903.6,3321.2L2929.3,3314.8L2967.8,3321.2L2993.5,3314.8L3025.5,3295.5L3038.4,3282.7L3070.5,3263.5L3121.8,3250.6L3160.3,3237.8L3166.7,3263.5L3173.2,3302.0L3173.2,3359.7L3186.0,3430.3L3205.3,3488.1L3198.8,3520.2L3192.4,3549.7 M2762.4,3549.7L2749.6,3533.0L2775.2,3456.0L2781.7,3391.8L2788.1,3353.3L2839.4,3346.9L2865.1,3353.3L2890.8,3327.6L2897.2,3379.0L2903.6,3404.7L2929.3,3430.3L2961.4,3449.6L2993.5,3468.8L3025.5,3488.1L3057.6,3507.3L3089.7,3526.6L3121.8,3549.7 M2480.0,2993.9L2512.1,3000.3L2576.3,2993.9L2608.4,2990.7L2653.3,2981.1L2682.2,2968.2L2679.0,3006.7L2666.1,3045.2L2646.9,3058.1L2640.5,3109.4L2634.0,3135.1L2608.4,3154.3L2576.3,3160.8L2544.2,3199.3L2512.1,3212.1L2480.0,3212.1 M2480.0,3212.1L2512.1,3212.1L2544.2,3199.3L2576.3,3160.8L2608.4,3154.3L2634.0,3135.1L2653.3,3147.9L2685.4,3167.2L2723.9,3186.4L2743.1,3192.9L2711.1,3212.1L2672.5,3218.5L2653.3,3237.8L2659.7,3263.5L2653.3,3295.5L2640.5,3314.8L2627.6,3327.6L2608.4,3340.5L2589.1,3366.1L2576.3,3379.0L2563.4,3353.3L2544.2,3340.5L2550.6,3314.8L2531.3,3295.5L2505.7,3308.4L2480.0,3321.2 M2743.1,3192.9 L2749.6,3212.1 L2768.8,3224.9 L2788.1,3237.8 L2813.7,3244.2 L2839.4,3257.0 L2865.1,3263.5 L2897.2,3269.9 L2929.3,3276.3 L2961.4,3282.7 L2993.5,3302.0 L3025.5,3295.5 L2993.5,3314.8 L2967.8,3321.2 L2929.3,3314.8 L2903.6,3321.2 L2890.8,3327.6 L2865.1,3353.3 L2839.4,3346.9 L2788.1,3353.3 L2781.7,3391.8 L2775.2,3456.0 L2749.6,3533.0 L2723.9,3520.2 L2698.2,3507.3 L2672.5,3500.9 L2634.0,3481.7 L2614.8,3456.0 L2608.4,3423.9 L2595.5,3398.2 L2576.3,3379.0 L2589.1,3366.1 L2608.4,3340.5 L2627.6,3327.6 L2640.5,3314.8 L2653.3,3295.5 L2659.7,3263.5 L2653.3,3237.8 L2672.5,3218.5 L2711.1,3212.1Z M2480.0,3321.2L2505.7,3308.4L2531.3,3295.5L2550.6,3314.8L2544.2,3340.5L2563.4,3353.3L2576.3,3379.0L2595.5,3398.2L2608.4,3423.9L2614.8,3456.0L2634.0,3481.7L2672.5,3500.9L2698.2,3507.3L2723.9,3520.2L2749.6,3533.0L2762.4,3549.7 M3250.2,2749.7L3259.2,2688.1L3291.9,2639.3L3314.4,2636.7L3365.7,2652.8L3399.7,2665.6L3431.2,2684.2L3442.7,2749.7 M3442.7,2749.7L3431.2,2684.2L3462.0,2697.1L3477.4,2702.9L3508.8,2690.7L3555.1,2675.3L3617.3,2665.6L3623.7,2681.0L3635.9,2702.9L3626.9,2721.5L3623.7,2749.7 M3623.7,2749.7L3623.7,2681.0L3629.5,2634.8L3657.7,2606.6L3648.1,2594.4L3664.2,2579.0L3682.8,2541.8L3707.2,2510.3L3730.9,2476.3 M3822.7,2750.0L3816.3,2775.7L3720.0,2772.5 M4066.6,2750.0L4060.2,2788.5L4085.8,2801.3L4124.3,2807.8L4130.8,2820.6L4105.1,2846.3L4111.5,2871.9L4137.2,2884.8L4143.6,2910.5L4156.4,2942.5L4150.0,2968.2L4117.9,2987.5L4079.4,3006.7L4060.2,3038.8L4040.9,3051.7L3989.6,3064.5L3983.1,3090.2L3976.7,3128.7L3944.6,3115.8L3925.4,3096.6L3893.3,3109.4L3880.5,3109.4L3848.4,3115.8L3829.1,3122.3L3784.2,3096.6L3745.7,3058.1L3720.0,3045.2M3720.0,2904.0L3752.1,2889.9L3790.6,2897.6L3825.9,2904.0L3819.5,2820.6L3816.3,2775.7L3822.7,2750.0 M3720.0,2772.5L3816.3,2775.7L3819.5,2820.6L3825.9,2904.0L3790.6,2897.6L3752.1,2889.9L3720.0,2904.0 M4426.0,2750.0L4400.3,2769.3L4361.8,2782.1L4329.7,2778.9L4278.4,2788.5L4265.5,2820.6L4233.5,2801.3L4188.5,2788.5L4182.1,2750.0 M4182.1,2750.0L4188.5,2788.5L4233.5,2801.3L4265.5,2820.6L4278.4,2788.5L4329.7,2778.9L4361.8,2782.1L4400.3,2769.3L4426.0,2750.0M4451.7,2750.0L4461.3,2794.9L4426.0,2865.5L4410.0,2904.0L4387.5,2913.7L4361.8,2920.1L4355.4,2955.4L4342.6,2990.7L4323.3,3045.2L4304.1,3083.7L4291.2,3122.3L4259.1,3115.8L4233.5,3109.4L4207.8,3119.0L4182.1,3109.4L4156.4,3103.0L4117.9,3099.8L4079.4,3103.0L4040.9,3109.4L3996.0,3109.4L3989.6,3083.7L3989.6,3064.5L4040.9,3051.7L4060.2,3038.8L4079.4,3006.7L4117.9,2987.5L4150.0,2968.2L4156.4,2942.5L4143.6,2910.5L4137.2,2884.8L4111.5,2871.9L4105.1,2846.3L4130.8,2820.6L4124.3,2807.8L4085.8,2801.3L4060.2,2788.5L4066.6,2750.0 M3720.0,3045.2L3745.7,3058.1L3784.2,3096.6L3829.1,3122.3L3848.4,3115.8L3880.5,3109.4L3893.3,3109.4L3925.4,3096.6L3944.6,3115.8L3976.7,3128.7L3983.1,3090.2L3989.6,3083.7L3996.0,3109.4L4040.9,3109.4L4079.4,3103.0L4117.9,3099.8L4156.4,3103.0L4182.1,3109.4L4207.8,3119.0L4233.5,3109.4L4259.1,3115.8L4220.6,3122.3L4182.1,3135.1L4162.9,3160.8L4162.9,3186.4L4182.1,3192.9L4233.5,3199.3L4284.8,3196.1L4323.3,3205.7L4316.9,3250.6L4310.5,3289.1L4297.6,3289.1L4265.5,3276.3L4220.6,3273.1L4169.3,3273.1L4117.9,3276.3L4073.0,3295.5L4028.1,3314.8L4002.4,3334.1L3976.7,3308.4L3944.6,3263.5L3912.5,3263.5L3880.5,3276.3L3816.3,3295.5L3764.9,3302.0L3745.7,3314.8L3732.8,3346.9L3720.0,3353.3 M4361.8,2920.1 L4387.5,2913.7 L4410.0,2904.0 L4438.8,2920.1 L4445.3,2904.0 L4470.9,2900.8 L4490.2,2878.4 L4522.3,2846.3 L4548.0,2820.6 L4580.0,2801.3 L4599.3,2775.7 L4612.1,2782.1 L4605.7,2814.2 L4599.3,2846.3 L4618.6,2878.4 L4618.6,2929.7 L4631.4,2955.4 L4644.2,2993.9 L4663.5,3026.0 L4657.1,3045.2 L4631.4,3064.5 L4618.6,3077.3 L4605.7,3070.9 L4554.4,3064.5 L4490.2,3048.4 L4426.0,3032.4 L4422.8,3019.6 L4342.6,2990.7 L4355.4,2955.4Z M4836.8,2750.0L4849.6,2775.7L4881.7,2782.1L4888.1,2833.4L4843.2,2846.3L4811.1,2859.1L4779.0,2878.4L4753.3,2897.6L4740.5,2923.3L4721.2,2949.0L4708.4,2974.6L4689.2,3000.3L4676.3,3019.6L4663.5,3026.0L4644.2,2993.9L4631.4,2955.4L4618.6,2929.7L4618.6,2878.4L4599.3,2846.3L4605.7,2814.2L4612.1,2782.1L4599.3,2775.7L4608.9,2750.0 M3720.0,3359.7L3726.4,3359.7L3784.2,3391.8L3848.4,3430.3L3893.3,3456.0L3861.2,3488.1L3848.4,3520.2L3816.3,3513.8L3784.2,3507.3L3752.1,3513.8L3720.0,3507.3 M750.9,3150.0L763.8,3169.3L783.0,3188.5L808.7,3227.0L815.1,3265.5L815.1,3297.6L763.8,3297.6L725.3,3284.8L693.2,3284.8L667.5,3278.4L635.4,3278.4L619.4,3284.8L603.3,3297.6L577.6,3300.8L564.8,3284.8L558.4,3259.1L539.1,3239.9L513.5,3227.0L487.8,3214.2L462.1,3194.9L449.3,3175.7L442.9,3150.0 M1161.7,3150.0L1155.3,3162.8L1142.4,3188.5L1129.6,3214.2L1116.8,3246.3L1103.9,3278.4L1091.1,3297.6L1059.0,3304.0L1026.9,3307.2L994.8,3304.0L962.7,3304.0L949.9,3297.6L917.8,3323.3L905.0,3336.1L892.1,3342.5L872.9,3316.9L853.6,3291.2L815.1,3297.6L815.1,3265.5L808.7,3227.0L783.0,3188.5L763.8,3169.3L750.9,3150.0 M1184.2,3150.0L1200.2,3188.5L1240.0,3175.7M1240.0,3265.5L1200.2,3284.8L1209.8,3339.3L1240.0,3342.5M1240.0,3592.9L1219.5,3599.3L1174.5,3615.3L1155.3,3637.8L1123.2,3666.7L1091.1,3650.6L1052.6,3637.8L1033.3,3624.9L1033.3,3605.7L1007.7,3592.9L988.4,3586.4L975.6,3573.6L962.7,3567.2L937.1,3560.8L905.0,3554.3L898.6,3541.5L885.7,3528.7L860.0,3525.5L828.0,3528.7L802.3,3528.7L795.9,3515.8L795.9,3490.2L789.4,3464.5L776.6,3451.7L757.3,3432.4L744.5,3419.6L747.7,3406.7L763.8,3400.3L744.5,3393.9L725.3,3387.5L738.1,3368.2L731.7,3349.0L712.4,3339.3L680.3,3345.8L648.2,3349.0L641.8,3329.7L638.6,3304.0L635.4,3278.4L667.5,3278.4L693.2,3284.8L725.3,3284.8L763.8,3297.6L815.1,3297.6L853.6,3291.2L872.9,3316.9L892.1,3342.5L905.0,3336.1L917.8,3323.3L949.9,3297.6L962.7,3304.0L994.8,3304.0L1026.9,3307.2L1059.0,3304.0L1091.1,3297.6L1103.9,3278.4L1116.8,3246.3L1129.6,3214.2L1142.4,3188.5L1155.3,3162.8L1161.7,3150.0 M1240.0,3175.7L1200.2,3188.5L1184.2,3150.0 M1240.0,3342.5L1209.8,3339.3L1200.2,3284.8L1240.0,3265.5 M1374.8,3150.0L1368.4,3156.4L1349.1,3194.9L1336.3,3214.2L1304.2,3227.0L1291.3,3239.9L1297.8,3278.4L1291.3,3316.9L1240.0,3329.7 M1458.2,3150.0L1461.4,3188.5L1445.4,3220.6L1464.6,3246.3L1490.3,3259.1L1487.1,3288.0L1464.6,3278.4L1451.8,3297.6L1426.1,3310.5L1416.5,3342.5L1419.7,3381.1L1413.3,3413.1L1400.5,3426.0L1374.8,3419.6L1349.1,3413.1L1323.4,3406.7L1297.8,3361.8L1291.3,3316.9L1297.8,3278.4L1291.3,3239.9L1304.2,3227.0L1336.3,3214.2L1349.1,3194.9L1368.4,3156.4L1374.8,3150.0 M1240.0,3329.7L1291.3,3316.9L1297.8,3361.8L1323.4,3406.7L1349.1,3413.1L1323.4,3445.2L1336.3,3470.9L1304.2,3496.6L1272.1,3509.4L1265.7,3535.1L1252.8,3573.6L1240.0,3592.9 M1881.8,3150.0L1875.4,3175.7L1933.2,3188.5L1958.8,3188.5L1965.3,3169.3L1997.3,3150.0M2048.7,3150.0L2048.7,3188.5L2029.4,3233.4L2016.6,3271.9L2010.2,3310.5L1984.5,3323.3L1958.8,3342.5L1933.2,3368.2L1920.3,3393.9L1913.9,3413.1L1881.8,3432.4L1856.1,3445.2L1830.5,3464.5L1817.6,3477.3L1792.0,3496.6L1772.7,3509.4L1772.7,3528.7L1785.5,3547.9L1753.5,3554.3L1740.6,3547.9L1714.9,3547.9L1702.1,3560.8L1689.3,3570.4L1657.2,3576.8L1631.5,3592.9L1612.3,3560.8L1593.0,3515.8L1573.7,3477.3L1541.7,3445.2L1516.0,3419.6L1503.1,3400.3L1483.9,3381.1L1477.5,3342.5L1471.1,3304.0L1487.1,3288.0L1490.3,3259.1L1464.6,3246.3L1445.4,3220.6L1461.4,3188.5L1458.2,3150.0 M1997.3,3150.0L1965.3,3169.3L1958.8,3188.5L1933.2,3188.5L1875.4,3175.7L1881.8,3150.0 M2170.6,3150.0L2189.9,3201.3L2222.0,3220.6L2254.1,3265.5L2260.5,3297.6L2279.8,3329.7L2318.3,3336.1L2356.8,3355.4L2369.6,3387.5L2382.4,3419.6L2401.7,3458.1L2388.9,3470.9L2343.9,3483.7L2318.3,3509.4L2292.6,3528.7L2266.9,3535.1L2241.2,3515.8L2202.7,3515.8L2177.1,3496.6L2138.6,3483.7L2100.0,3470.9L2093.6,3451.7L2068.0,3451.7L2042.3,3438.8L2029.4,3483.7L2010.2,3496.6L2003.8,3470.9L1997.3,3458.1L1965.3,3451.7L1933.2,3451.7L1933.2,3432.4L1913.9,3413.1L1920.3,3393.9L1933.2,3368.2L1958.8,3342.5L1984.5,3323.3L2010.2,3310.5L2016.6,3271.9L2029.4,3233.4L2048.7,3188.5L2048.7,3150.0 M2480.0,3169.3L2395.3,3175.7L2343.9,3201.3L2299.0,3214.2L2266.9,3265.5L2254.1,3265.5L2222.0,3220.6L2189.9,3201.3L2170.6,3150.0 M2480.0,3323.3L2433.8,3336.1L2395.3,3342.5L2356.8,3355.4L2318.3,3336.1L2279.8,3329.7L2260.5,3297.6L2266.9,3265.5L2299.0,3214.2L2343.9,3201.3L2395.3,3175.7L2480.0,3169.3 M2480.0,3483.7L2459.5,3496.6L2433.8,3509.4L2401.7,3458.1L2382.4,3419.6L2369.6,3387.5L2356.8,3355.4L2395.3,3342.5L2433.8,3336.1L2480.0,3323.3 M1442.2,3949.7L1451.8,3888.1L1458.2,3856.0L1509.6,3830.3L1516.0,3798.2L1503.1,3779.0L1509.6,3759.7L1541.7,3759.7L1580.2,3762.9L1573.7,3756.5L1548.1,3740.5L1554.5,3734.1L1541.7,3721.2L1522.4,3714.8L1509.6,3702.0L1522.4,3682.7L1548.1,3663.5L1573.7,3657.0L1625.1,3631.4L1702.1,3592.9L1689.3,3570.4L1702.1,3560.8L1714.9,3547.9L1740.6,3547.9L1753.5,3554.3L1785.5,3547.9L1772.7,3528.7L1772.7,3509.4L1792.0,3496.6L1817.6,3477.3L1830.5,3464.5L1856.1,3445.2L1881.8,3432.4L1913.9,3413.1L1933.2,3432.4L1933.2,3451.7L1965.3,3451.7L1958.8,3470.9L1920.3,3509.4L1907.5,3535.1L1907.5,3560.8L1920.3,3586.4L1933.2,3599.3L1920.3,3618.5L1907.5,3637.8L1894.7,3663.5L1881.8,3676.3L1888.2,3702.0L1913.9,3721.2L1933.2,3746.9L1939.6,3772.6L1926.7,3791.8L1913.9,3817.5L1888.2,3830.3L1869.0,3843.2L1843.3,3856.0L1798.4,3868.8L1772.7,3881.7L1766.3,3907.3L1747.0,3933.0L1721.4,3949.7 M1907.5,3949.7L1894.7,3920.2L1881.8,3888.1L1888.2,3856.0L1869.0,3843.2L1888.2,3830.3L1913.9,3817.5L1926.7,3791.8L1939.6,3772.6L1933.2,3746.9L1913.9,3721.2L1888.2,3702.0L1881.8,3676.3L1894.7,3663.5L1907.5,3637.8L1920.3,3618.5L1933.2,3599.3L1920.3,3586.4L1907.5,3560.8L1907.5,3535.1L1920.3,3509.4L1958.8,3470.9L1965.3,3451.7L1997.3,3458.1L2003.8,3470.9L2010.2,3496.6L2029.4,3483.7L2042.3,3438.8L2068.0,3451.7L2093.6,3451.7L2100.0,3470.9L2138.6,3483.7L2177.1,3496.6L2202.7,3515.8L2241.2,3515.8L2266.9,3535.1L2254.1,3547.9L2215.6,3567.2L2177.1,3586.4L2138.6,3599.3L2100.0,3612.1L2074.4,3637.8L2055.1,3663.5L2068.0,3682.7L2100.0,3695.5L2119.3,3714.8L2125.7,3740.5L2119.3,3766.1L2106.5,3791.8L2125.7,3817.5L2132.1,3843.2L2112.9,3868.8L2087.2,3881.7L2074.4,3894.5L2087.2,3920.2L2093.6,3949.7 M2266.9,3535.1 L2292.6,3528.7 L2318.3,3509.4 L2343.9,3483.7 L2388.9,3470.9 L2401.7,3458.1 L2433.8,3509.4 L2446.6,3535.1 L2459.5,3560.8 L2446.6,3599.3 L2440.2,3637.8 L2446.6,3676.3 L2459.5,3708.4 L2465.9,3740.5 L2446.6,3779.0 L2408.1,3791.8 L2395.3,3823.9 L2401.7,3856.0 L2363.2,3862.4 L2305.4,3862.4 L2266.9,3856.0 L2234.8,3843.2 L2202.7,3823.9 L2170.6,3804.7 L2138.6,3779.0 L2119.3,3766.1 L2125.7,3740.5 L2119.3,3714.8 L2100.0,3695.5 L2068.0,3682.7 L2055.1,3663.5 L2074.4,3637.8 L2100.0,3612.1 L2138.6,3599.3 L2177.1,3586.4 L2215.6,3567.2 L2254.1,3547.9Z M2427.4,3949.7L2414.5,3920.2L2401.7,3856.0L2395.3,3823.9L2408.1,3791.8L2446.6,3779.0L2465.9,3740.5L2459.5,3708.4L2446.6,3676.3L2440.2,3637.8L2446.6,3599.3L2459.5,3560.8L2446.6,3535.1L2433.8,3509.4L2459.5,3496.6L2480.0,3483.7 M2093.6,3949.7L2087.2,3920.2L2074.4,3894.5L2087.2,3881.7L2112.9,3868.8L2132.1,3843.2L2125.7,3817.5L2106.5,3791.8L2119.3,3766.1L2138.6,3779.0L2170.6,3804.7L2202.7,3823.9L2234.8,3843.2L2266.9,3856.0L2305.4,3862.4L2331.1,3888.1L2318.3,3920.2L2299.0,3949.7 M2299.0,3949.7L2318.3,3920.2L2331.1,3888.1L2305.4,3862.4L2363.2,3862.4L2401.7,3856.0L2414.5,3920.2L2427.4,3949.7 M1721.4,3949.7L1747.0,3933.0L1766.3,3907.3L1772.7,3881.7L1798.4,3868.8L1843.3,3856.0L1869.0,3843.2L1888.2,3856.0L1881.8,3888.1L1894.7,3920.2L1907.5,3949.7 M1240.0,3920.2L1265.7,3913.8L1278.5,3933.0L1284.9,3949.7 M2775.2,3550.0L2781.7,3578.9L2736.7,3582.1L2711.1,3588.5L2717.5,3607.8L2691.8,3627.0L2646.9,3639.9L2614.8,3652.7L2634.0,3668.7L2679.0,3671.9L2691.8,3684.8L2672.5,3704.0L2672.5,3736.1L2666.1,3768.2L2685.4,3787.5L2691.8,3832.4L2672.5,3870.9L2646.9,3899.8L2608.4,3928.7L2582.7,3960.8L2550.6,3976.8L2524.9,3954.3L2505.7,3947.9L2480.0,3960.8 M2711.1,3588.5 L2736.7,3582.1 L2781.7,3578.9 L2839.4,3585.3 L2877.9,3594.9 L2903.6,3614.2 L2910.0,3646.3 L2916.4,3678.4 L2910.0,3716.9 L2903.6,3749.0 L2890.8,3768.2 L2871.5,3793.9 L2858.7,3826.0 L2845.8,3851.7 L2839.4,3877.3 L2820.2,3883.7 L2800.9,3903.0 L2781.7,3922.3 L2775.2,3909.4 L2762.4,3870.9 L2749.6,3851.7 L2723.9,3842.0 L2691.8,3832.4 L2685.4,3787.5 L2666.1,3768.2 L2672.5,3736.1 L2672.5,3704.0 L2691.8,3684.8 L2679.0,3671.9 L2634.0,3668.7 L2614.8,3652.7 L2646.9,3639.9 L2691.8,3627.0 L2717.5,3607.8Z M3224.5,3550.0L3237.3,3575.7L3250.2,3601.3L3275.9,3646.3L3288.7,3678.4L3301.5,3697.6L3288.7,3723.3L3263.0,3716.9L3250.2,3704.0L3218.1,3697.6L3186.0,3704.0L3153.9,3716.9L3121.8,3729.7L3115.4,3742.5L3109.0,3768.2L3096.1,3800.3L3070.5,3813.1L3044.8,3826.0L3006.3,3845.2L2974.2,3851.7L2954.9,3838.8L2935.7,3845.2L2903.6,3870.9L2865.1,3883.7L2839.4,3877.3L2845.8,3851.7L2858.7,3826.0L2871.5,3793.9L2890.8,3768.2L2903.6,3749.0L2910.0,3716.9L2916.4,3678.4L2910.0,3646.3L2903.6,3614.2L2877.9,3594.9L2839.4,3585.3L2781.7,3578.9L2775.2,3550.0 M3439.5,3550.0L3442.7,3569.3L3429.9,3594.9L3404.2,3607.8L3391.4,3639.9L3372.1,3659.1L3346.5,3684.8L3314.4,3710.5L3288.7,3723.3L3301.5,3697.6L3288.7,3678.4L3275.9,3646.3L3250.2,3601.3L3237.3,3575.7L3224.5,3550.0 M2839.4,3877.3 L2865.1,3883.7 L2903.6,3870.9 L2935.7,3845.2 L2954.9,3838.8 L2974.2,3851.7 L3006.3,3845.2 L3044.8,3826.0 L3070.5,3813.1 L3096.1,3800.3 L3109.0,3768.2 L3115.4,3742.5 L3121.8,3729.7 L3153.9,3716.9 L3186.0,3704.0 L3218.1,3697.6 L3250.2,3704.0 L3263.0,3716.9 L3288.7,3723.3 L3250.2,3761.8 L3230.9,3793.9 L3237.3,3819.6 L3263.0,3832.4 L3256.6,3870.9 L3250.2,3909.4 L3243.8,3935.1 L3269.4,3947.9 L3295.1,3960.8 L3275.9,3999.3 L3250.2,4037.8 L3218.1,4063.5 L3198.8,4095.5 L3173.2,4102.0 L3166.7,4127.6 L3173.2,4153.3 L3083.3,4146.9 L3057.6,4166.1 L3044.8,4179.0 L3025.5,4146.9 L3012.7,4114.8 L2993.5,4089.1 L2980.6,4063.5 L2967.8,4037.8 L2929.3,4012.1 L2890.8,3986.4 L2852.3,3967.2 L2839.4,3947.9 L2845.8,3909.4Z M3288.7,3723.3 L3314.4,3710.5 L3346.5,3684.8 L3372.1,3659.1 L3391.4,3639.9 L3397.8,3671.9 L3391.4,3710.5 L3404.2,3729.7 L3391.4,3749.0 L3385.0,3768.2 L3417.1,3793.9 L3429.9,3806.7 L3423.5,3819.6 L3417.1,3832.4 L3442.7,3858.1 L3449.2,3877.3 L3442.7,3896.6 L3410.6,3909.4 L3391.4,3928.7 L3378.6,3941.5 L3359.3,3947.9 L3327.2,3954.3 L3295.1,3960.8 L3269.4,3947.9 L3243.8,3935.1 L3250.2,3909.4 L3256.6,3870.9 L3263.0,3832.4 L3237.3,3819.6 L3230.9,3793.9 L3250.2,3761.8Z M3720.0,3736.1L3699.5,3742.5L3680.2,3761.8L3661.0,3787.5L3635.3,3793.9L3622.4,3806.7L3583.9,3800.3L3539.0,3797.1L3481.2,3800.3L3429.9,3806.7L3417.1,3793.9L3385.0,3768.2L3391.4,3749.0L3404.2,3729.7L3391.4,3710.5L3397.8,3671.9L3391.4,3639.9L3404.2,3607.8L3429.9,3594.9L3442.7,3569.3L3439.5,3550.0 M3720.0,3832.4L3686.6,3826.0L3635.3,3806.7L3622.4,3806.7L3635.3,3793.9L3661.0,3787.5L3680.2,3761.8L3699.5,3742.5L3720.0,3736.1 M3429.9,3806.7 L3481.2,3800.3 L3539.0,3797.1 L3583.9,3800.3 L3622.4,3806.7 L3635.3,3819.6 L3648.1,3845.2 L3654.5,3864.5 L3641.7,3883.7 L3622.4,3903.0 L3596.8,3922.3 L3571.1,3941.5 L3539.0,3967.2 L3519.8,3986.4 L3494.1,3999.3 L3474.8,4037.8 L3442.7,4037.8 L3378.6,4044.2 L3333.6,4037.8 L3308.0,4024.9 L3288.7,3986.4 L3295.1,3960.8 L3327.2,3954.3 L3359.3,3947.9 L3378.6,3941.5 L3391.4,3928.7 L3410.6,3909.4 L3442.7,3896.6 L3449.2,3877.3 L3442.7,3858.1 L3417.1,3832.4 L3423.5,3819.6Z M3295.1,3960.8 L3308.0,4024.9 L3333.6,4037.8 L3378.6,4044.2 L3442.7,4037.8 L3474.8,4037.8 L3481.2,4063.5 L3468.4,4095.5 L3455.6,4127.6 L3449.2,4159.7 L3429.9,4179.0 L3404.2,4166.1 L3378.6,4146.9 L3346.5,4127.6 L3314.4,4114.8 L3282.3,4108.4 L3263.0,4095.5 L3218.1,4102.0 L3198.8,4095.5 L3218.1,4063.5 L3250.2,4037.8 L3275.9,3999.3Z M3720.0,4108.4L3686.6,4102.0L3661.0,4095.5L3635.3,4082.7L3609.6,4063.5L3571.1,4057.0L3539.0,4050.6L3506.9,4044.2L3481.2,4037.8L3494.1,3999.3L3519.8,3986.4L3539.0,3967.2L3571.1,3941.5L3596.8,3922.3L3622.4,3903.0L3641.7,3883.7L3654.5,3864.5L3648.1,3845.2L3635.3,3819.6L3686.6,3826.0L3720.0,3832.4 M3481.2,4063.5 L3506.9,4044.2 L3539.0,4050.6 L3571.1,4057.0 L3609.6,4063.5 L3635.3,4082.7 L3661.0,4095.5 L3654.5,4140.5 L3648.1,4179.0 L3661.0,4217.5 L3667.4,4256.0 L3657.7,4253.4 L3637.2,4232.9 L3603.8,4207.9 L3562.8,4212.4 L3521.0,4220.1 L3480.0,4207.9 L3446.6,4187.3 L3436.3,4179.0 L3449.2,4159.7 L3455.6,4127.6 L3468.4,4095.5Z M3144.3,4365.1L3123.7,4307.3L3086.5,4282.3L3057.6,4300.9L3024.3,4319.5L3012.7,4294.5L2995.4,4282.3L2999.9,4256.0L3036.5,4241.2L3057.6,4230.3L3090.4,4216.2L3070.5,4198.2L3044.8,4179.0L3057.6,4166.1L3083.3,4146.9L3173.2,4153.3L3166.7,4127.6L3173.2,4102.0L3198.8,4095.5L3218.1,4102.0L3263.0,4095.5L3282.3,4108.4L3314.4,4114.8L3346.5,4127.6L3378.6,4146.9L3404.2,4166.1L3429.9,4179.0L3442.7,4166.8L3434.4,4182.8L3417.7,4195.7L3405.5,4212.4L3384.3,4232.9L3355.4,4245.1L3330.4,4274.0L3309.9,4307.3L3306.0,4336.2L3264.3,4352.9 M3281.0,4361.3L3306.0,4336.2L3309.9,4307.3L3330.4,4274.0L3355.4,4245.1L3384.3,4232.9L3405.5,4212.4L3417.7,4195.7L3434.4,4182.8L3442.7,4166.8L3455.6,4191.8L3446.6,4187.3L3451.1,4212.4L3454.9,4249.6L3467.1,4274.0L3458.8,4327.9L3488.3,4331.7L3496.0,4327.9L3488.3,4348.4L3458.8,4381.8 M3578.8,4356.8L3554.4,4336.2L3496.0,4327.9L3488.3,4331.7L3458.8,4327.9L3467.1,4274.0L3454.9,4249.6L3451.1,4212.4L3446.6,4187.3L3480.0,4207.9L3521.0,4220.1L3562.8,4212.4L3603.8,4207.9L3637.2,4232.9L3657.7,4253.4L3700.1,4274.0L3720.0,4281.7L3700.1,4290.7L3686.6,4315.7L3669.9,4356.8 M3720.0,4281.7L3700.1,4274.0L3657.7,4253.4L3667.4,4256.0L3661.0,4217.5L3648.1,4179.0L3654.5,4140.5L3661.0,4095.5L3686.6,4102.0L3720.0,4108.4 M2480.0,3960.8L2505.7,3947.9L2524.9,3954.3L2550.6,3976.8L2557.0,3992.9L2576.3,4024.9L2582.7,4063.5L2569.9,4089.1L2544.2,4102.0L2537.8,4127.6L2518.5,4146.9L2492.8,4127.6L2480.0,4130.8     M3710.4,2283.7L3752.1,2277.3L3784.2,2270.9L3816.3,2266.4L3847.1,2265.8L3845.2,2296.6L3835.5,2335.1L3828.5,2355.0L3803.4,2417.2L3782.3,2464.1L3760.4,2476.3L3729.0,2454.5L3710.4,2442.3 M3720.0,2489.1L3726.4,2476.3L3729.0,2454.5L3760.4,2476.3L3782.3,2464.1L3803.4,2417.2L3828.5,2355.0L3835.5,2335.1L3845.2,2296.6L3847.1,2265.8L3880.5,2256.8L3912.5,2248.4L3938.2,2242.0L3960.7,2240.1L3970.3,2246.5L3983.1,2251.7L3989.6,2264.5L3996.0,2309.4L3992.8,2360.8L3976.7,2399.3L3960.7,2437.8L3944.6,2476.3L3931.8,2479.5L3867.6,2540.5L3797.0,2585.4L3758.5,2604.7L3720.0,2620.7 M3970.3,2246.5 L4008.8,2244.0 L4040.9,2246.5 L4105.1,2250.4 L4169.3,2254.9 L4233.5,2265.8 L4278.4,2278.6 L4275.2,2296.6 L4297.6,2299.8 L4320.1,2303.0 L4342.6,2325.5 L4339.4,2347.9 L4310.5,2380.0 L4284.8,2405.7 L4265.5,2418.5 L4246.3,2437.8 L4233.5,2457.0 L4207.8,2502.0 L4169.3,2508.4 L4137.2,2502.0 L4098.7,2511.6 L4073.0,2495.5 L4053.7,2498.8 L4008.8,2482.7 L3976.7,2489.1 L3944.6,2476.3 L3960.7,2437.8 L3976.7,2399.3 L3992.8,2360.8 L3996.0,2309.4 L3989.6,2264.5 L3983.1,2251.7Z M4278.4,2278.6 L4310.5,2287.0 L4361.8,2303.0 L4426.0,2322.3 L4490.2,2341.5 L4541.5,2351.1 L4544.7,2360.8 L4538.3,2373.6 L4541.5,2392.9 L4522.3,2399.3 L4525.5,2408.9 L4554.4,2415.3 L4573.6,2424.9 L4567.2,2444.2 L4554.4,2457.0 L4541.5,2476.3 L4515.9,2495.5 L4496.6,2508.4 L4490.2,2514.8 L4499.8,2527.6 L4464.5,2527.6 L4426.0,2537.3 L4381.1,2546.9 L4345.8,2556.5 L4323.3,2527.6 L4294.4,2514.8 L4278.4,2482.7 L4265.5,2476.3 L4233.5,2476.3 L4246.3,2437.8 L4265.5,2418.5 L4284.8,2405.7 L4310.5,2380.0 L4339.4,2347.9 L4342.6,2325.5 L4320.1,2303.0 L4297.6,2299.8 L4275.2,2296.6Z M4233.5,2476.3 L4265.5,2476.3 L4278.4,2482.7 L4294.4,2514.8 L4323.3,2527.6 L4345.8,2556.5 L4316.9,2566.1 L4284.8,2582.2 L4259.1,2598.2 L4233.5,2623.9 L4207.8,2620.7 L4175.7,2630.3 L4156.4,2617.5 L4146.8,2598.2 L4162.9,2579.0 L4175.7,2546.9 L4188.5,2514.8 L4207.8,2502.0Z M4406.7,2749.7L4393.9,2717.0L4361.8,2688.1L4297.6,2656.0L4233.5,2623.9L4259.1,2598.2L4284.8,2582.2L4316.9,2566.1L4345.8,2556.5L4381.1,2546.9L4426.0,2537.3L4464.5,2527.6L4499.8,2527.6L4506.2,2540.5L4515.9,2553.3L4528.7,2566.1L4538.3,2575.8L4531.9,2591.8L4525.5,2604.7L4522.3,2623.9L4519.1,2649.6L4522.3,2675.3L4515.9,2694.5L4499.8,2678.5L4477.3,2675.3L4464.5,2688.1L4458.1,2707.3L4445.3,2726.6L4435.6,2749.7 M3944.6,2476.3 L3976.7,2489.1 L4008.8,2482.7 L4053.7,2498.8 L4073.0,2495.5 L4098.7,2511.6 L4137.2,2502.0 L4169.3,2508.4 L4207.8,2502.0 L4188.5,2514.8 L4175.7,2546.9 L4162.9,2579.0 L4146.8,2598.2 L4156.4,2617.5 L4130.8,2623.9 L4092.3,2633.5 L4053.7,2640.0 L4021.7,2640.0 L3976.7,2633.5 L3944.6,2627.1 L3912.5,2622.6 L3886.9,2623.9 L3861.2,2617.5 L3841.9,2604.7 L3797.0,2585.4 L3867.6,2540.5 L3931.8,2479.5Z M3720.0,2620.7L3758.5,2604.7L3797.0,2585.4L3841.9,2604.7L3861.2,2617.5L3854.8,2643.2L3848.4,2675.3L3841.9,2720.2L3838.7,2749.7 M3838.7,2749.7L3841.9,2720.2L3848.4,2675.3L3854.8,2643.2L3861.2,2617.5L3886.9,2623.9L3912.5,2622.6L3944.6,2627.1L3976.7,2633.5L4021.7,2640.0L4060.2,2641.9L4066.6,2688.1L4063.4,2749.7 M4063.4,2749.7L4066.6,2688.1L4060.2,2641.9L4092.3,2633.5L4130.8,2623.9L4156.4,2617.5L4175.7,2630.3L4172.5,2688.1L4174.4,2749.7 M4174.4,2749.7L4172.5,2688.1L4175.7,2630.3L4207.8,2620.7L4233.5,2623.9L4297.6,2656.0L4361.8,2688.1L4393.9,2717.0L4406.7,2749.7 M4605.7,2749.7L4644.2,2742.7L4647.4,2713.8L4721.2,2707.3L4804.7,2700.9L4811.1,2733.0L4836.8,2749.7 M1240.0,3336.1 L1291.3,3316.9 L1297.8,3361.8 L1317.0,3400.3 L1349.1,3413.1 M2877.9,2961.8 L2929.3,2955.4 L2993.5,2961.8 L3057.6,2955.4 L3121.8,2961.8 M1936.4,2687.0 L1907.5,2706.2 L1869.0,2728.7 L1830.5,2757.6 L1798.4,2789.6 L1779.1,2802.5 L1753.5,2799.3 L1734.2,2821.7 L1714.9,2850.6 L1692.5,2879.5 L1666.8,2905.2 L1641.1,2924.4 M1962.0,2658.1 L1946.0,2690.2 L1926.7,2712.6 L1913.9,2747.9 L1888.2,2786.4 L1872.2,2824.9 L1859.4,2863.5 L1849.7,2902.0 L1833.7,2934.1 L1814.4,2966.1 L1792.0,2991.8 L1766.3,3020.7 L1740.6,3049.6 M1994.1,2950.1 L1952.4,2956.5 L1913.9,2969.4 L1885.0,2988.6 L1859.4,3020.7 L1840.1,3056.0 L1820.8,3088.1 L1808.0,3120.2 L1801.6,3149.7" fill="none" stroke="#ffffff" stroke-width="5.5" stroke-linejoin="round" stroke-linecap="round" stroke-opacity="0.95"/>
<path id="thick" d="M274.7,2262.4 L272.8,2191.8 L269.6,2095.5 L268.3,2024.9 L266.4,1973.6 L263.1,1951.1 L253.5,1944.7 L245.2,1938.3 L250.3,1922.3 L269.6,1896.6 L301.7,1859.4 L346.6,1819.6 L378.7,1787.5 L410.8,1749.0 L436.4,1722.0 L462.1,1694.4 L487.8,1675.2 L513.5,1666.8 L577.6,1652.7 L641.8,1641.8 L706.0,1633.4 L770.2,1627.0 L834.4,1621.9 L898.6,1617.4 L943.5,1613.5 L975.6,1601.3 L1001.2,1593.6 L1039.8,1596.2 L1078.3,1609.0 L1103.9,1602.6 L1124.5,1583.4 L1139.2,1591.7 L1155.3,1601.3 L1187.4,1607.8 L1219.5,1612.9 L1240.0,1606.5 M274.7,2262.4 L301.7,2288.1 L333.7,2317.0 L356.2,2334.3 M1240.0,1606.5 L1268.9,1598.1 L1304.2,1607.8 L1368.4,1612.3 L1432.5,1623.8 L1483.9,1636.6 L1522.4,1652.7 L1554.5,1659.1 L1573.7,1675.2 L1586.6,1688.0 L1589.8,1704.0 L1605.8,1723.3 L1625.1,1736.1 L1657.2,1761.8 L1682.9,1787.5 L1721.4,1813.1 L1766.3,1845.2 L1817.6,1887.0 L1881.8,1919.0 L1946.0,1954.3 L2010.2,1986.4 L2074.4,2012.1 L2138.6,2034.6 L2202.7,2050.6 L2266.9,2060.2 L2331.1,2069.9 L2356.8,2082.7 L2395.3,2089.1 L2427.4,2094.3 L2459.5,2100.7 L2480.0,2103.9 M2424.2,2094.3 L2437.0,2114.8 L2437.0,2166.1 L2427.4,2198.2 L2414.5,2230.3 L2395.3,2249.6 L2382.4,2252.8 L2337.5,2252.8 L2338.8,2272.0 L2369.6,2275.3 L2385.7,2291.3 L2395.3,2320.2 L2414.5,2339.4 L2427.4,2349.7 M274.7,2262.4 L243.9,2288.1 L192.5,2333.0 L173.3,2349.7 M2480.0,2104.0 L2544.2,2118.2 L2608.4,2129.7 L2634.0,2136.1 L2640.5,2142.5 L2648.2,2134.8 L2653.3,2142.5 L2672.5,2152.2 L2736.7,2161.8 L2800.9,2171.4 L2852.3,2181.1 L2897.2,2177.8 L2929.3,2177.8 L2961.4,2175.9 L2993.5,2187.5 L3025.5,2188.8 L3057.6,2190.7 L3089.7,2193.9 L3121.8,2197.1 L3153.9,2200.3 L3186.0,2203.5 L3218.1,2209.9 L3250.2,2209.9 L3282.3,2206.7 L3314.4,2205.4 L3340.0,2206.7 L3365.7,2213.1 L3404.2,2224.7 L3429.9,2242.0 L3455.6,2258.1 L3481.2,2267.7 L3506.9,2274.1 L3539.0,2278.6 L3571.1,2282.5 L3603.2,2285.0 L3635.3,2287.0 L3667.4,2285.7 L3699.5,2283.7 L3720.0,2282.5 M2480.0,2381.3 L2531.3,2385.2 L2582.7,2378.7 L2608.4,2386.4 L2650.1,2399.3 L2672.5,2424.9 L2723.9,2399.3 L2762.4,2392.9 L2794.5,2392.9 L2797.7,2412.1 L2794.5,2457.0 L2813.7,2463.5 L2820.2,2482.7 L2813.7,2514.8 L2826.6,2527.6 L2813.7,2566.1 L2736.7,2582.2 L2704.6,2585.4 L2698.2,2553.3 L2679.0,2540.5 L2646.9,2572.6 L2621.2,2598.2 L2601.9,2598.2 L2589.8,2641.2 L2575.0,2677.2 L2578.8,2695.2 L2603.9,2706.1 L2589.8,2742.0 L2553.8,2724.0 L2517.2,2767.0 M3710.4,2285.0 L3707.2,2355.0 L3695.0,2429.4 L3725.8,2454.5 L3730.9,2476.3 L3707.2,2510.3 L3682.8,2541.8 L3664.2,2579.0 L3648.1,2594.4 L3657.7,2606.6 L3629.5,2634.8 L3623.7,2681.0 L3635.9,2702.9 L3626.9,2721.5 L3623.7,2752.9 L3648.1,2758.7 L3657.7,2777.3 L3698.2,2777.3 L3710.4,2790.1 L3766.2,2780.5 L3809.9,2783.7 L3816.3,2799.8 M3720.0,2282.5 L3752.1,2277.3 L3784.2,2270.9 L3816.3,2266.4 L3848.4,2263.2 L3880.5,2256.8 L3912.5,2248.4 L3938.2,2242.0 L3960.7,2240.1 L3976.7,2242.0 L4008.8,2244.0 L4040.9,2246.5 L4073.0,2248.4 L4105.1,2250.4 L4137.2,2251.7 L4169.3,2254.9 L4201.4,2259.4 L4233.5,2265.8 L4265.5,2274.1 L4284.8,2280.5 L4310.5,2287.0 L4361.8,2303.0 L4393.9,2312.6 L4426.0,2322.3 L4458.1,2331.9 L4490.2,2341.5 L4522.3,2347.9 L4541.5,2351.1 L4544.7,2360.8 L4538.3,2373.6 L4541.5,2392.9 L4522.3,2399.3 L4525.5,2408.9 L4554.4,2415.3 L4573.6,2424.9 L4567.2,2444.2 L4554.4,2457.0 L4541.5,2476.3 L4515.9,2495.5 L4496.6,2508.4 L4490.2,2514.8 L4499.8,2527.6 L4506.2,2540.5 L4515.9,2553.3 L4528.7,2566.1 L4538.3,2575.8 L4531.9,2591.8 L4525.5,2604.7 L4522.3,2623.9 L4519.1,2649.6 L4522.3,2675.3 L4515.9,2694.5 L4499.8,2678.5 L4477.3,2675.3 L4464.5,2688.1 L4458.1,2707.3 L4445.3,2726.6 L4435.6,2749.7 M4605.7,2749.7 L4644.2,2742.7 L4647.4,2713.8 L4721.2,2707.3 L4804.7,2700.9 L4811.1,2733.0 L4836.8,2749.7 M173.3,2350.0 L154.0,2369.3 L128.4,2388.5 L102.7,2407.8 L89.9,2420.6 L83.4,2433.4 L77.0,2465.5 L77.0,2510.5 L80.2,2542.5 L89.9,2593.9 L102.7,2632.4 L128.4,2664.5 L160.5,2677.3 L179.7,2690.2 L192.5,2715.8 L186.1,2747.9 L166.9,2773.6 L154.0,2767.2 L147.6,2747.9 L128.4,2735.1 L109.1,2735.1 L99.5,2747.9 L102.7,2767.2 L118.7,2786.4 L109.1,2799.3 L96.3,2812.1 L93.1,2824.9 L105.9,2837.8 L128.4,2847.4 L141.2,2857.0 L147.6,2844.2 L144.4,2824.9 L154.0,2812.1 L166.9,2824.9 L173.3,2850.6 L173.3,2869.9 L192.5,2882.7 L211.8,2895.5 L231.1,2902.0 L243.9,2914.8 L256.7,2934.1 L276.0,2959.7 L295.2,2985.4 L314.5,3004.7 L320.9,2991.8 L333.7,2985.4 L346.6,2998.2 L346.6,3030.3 L353.0,3056.0 L372.3,3075.3 L397.9,3078.5 L410.8,3100.9 L423.6,3126.6 L442.9,3149.7 M2414.5,2339.7 L2427.4,2350.0 L2440.2,2382.1 L2480.0,2394.9 M2480.0,2812.1 L2459.5,2837.8 L2446.6,2857.0 L2427.4,2876.3 L2382.4,2882.7 L2331.1,2873.1 L2299.0,2876.3 L2305.4,2914.8 L2305.4,2959.7 L2311.8,2979.0 L2308.6,2991.8 L2318.3,3030.3 L2318.3,3049.6 L2292.6,3036.7 L2241.2,3030.3 L2228.4,3043.2 L2202.7,3056.0 L2189.9,3075.3 L2183.5,3107.3 L2170.6,3149.7 M2517.2,2767.3 L2487.7,2804.6 L2480.0,2814.2 M2480.0,3321.2 L2505.7,3308.4 L2531.3,3295.5 L2550.6,3314.8 L2544.2,3340.5 L2563.4,3353.3 L2576.3,3379.0 L2595.5,3398.2 L2608.4,3423.9 L2614.8,3456.0 L2634.0,3481.7 L2672.5,3500.9 L2698.2,3507.3 L2723.9,3520.2 L2749.6,3533.0 L2762.4,3549.7 M3623.7,2753.2 L3648.1,2759.0 L3657.7,2777.6 L3698.2,2777.6 L3720.0,2772.5 M3720.0,2904.0 L3699.5,2891.2 L3667.4,2888.0 L3635.3,2897.6 L3596.8,2920.1 L3609.6,2942.5 L3635.3,2968.2 L3667.4,2993.9 L3680.2,3013.1 L3661.0,3038.8 L3641.7,3064.5 L3628.9,3090.2 L3596.8,3099.8 L3564.7,3096.6 L3545.4,3122.3 L3532.6,3147.9 L3506.9,3199.3 L3487.7,3205.7 L3429.9,3173.6 L3397.8,3180.0 L3385.0,3199.3 L3391.4,3237.8 L3378.6,3263.5 L3385.0,3295.5 L3417.1,3302.0 L3449.2,3298.8 L3462.0,3314.8 L3449.2,3327.6 L3442.7,3366.1 L3429.9,3391.8 L3442.7,3417.5 L3449.2,3443.2 L3436.3,3468.8 L3429.9,3507.3 L3436.3,3549.7 M4451.7,2750.0 L4461.3,2794.9 L4426.0,2865.5 L4410.0,2904.0 L4438.8,2920.1 L4445.3,2904.0 L4470.9,2900.8 L4490.2,2878.4 L4522.3,2846.3 L4548.0,2820.6 L4580.0,2801.3 L4599.3,2775.7 L4608.9,2750.0 M4836.8,2750.0 L4849.6,2775.7 L4881.7,2782.1 L4888.1,2833.4 L4843.2,2846.3 L4811.1,2859.1 L4779.0,2878.4 L4753.3,2897.6 L4740.5,2923.3 L4721.2,2949.0 L4708.4,2974.6 L4689.2,3000.3 L4676.3,3019.6 L4663.5,3026.0 L4657.1,3045.2 L4631.4,3064.5 L4618.6,3077.3 L4605.7,3070.9 L4554.4,3064.5 L4490.2,3048.4 L4426.0,3032.4 L4422.8,3019.6 L4342.6,2990.7 L4323.3,3045.2 L4304.1,3083.7 L4291.2,3122.3 L4259.1,3115.8 L4233.5,3109.4 L4207.8,3122.3 L4182.1,3135.1 L4162.9,3160.8 L4162.9,3186.4 L4182.1,3192.9 L4233.5,3199.3 L4284.8,3196.1 L4323.3,3205.7 L4316.9,3250.6 L4310.5,3289.1 L4297.6,3289.1 L4265.5,3276.3 L4220.6,3273.1 L4169.3,3273.1 L4117.9,3276.3 L4073.0,3295.5 L4028.1,3314.8 L4002.4,3334.1 L3976.7,3308.4 L3944.6,3263.5 L3912.5,3263.5 L3880.5,3276.3 L3816.3,3295.5 L3764.9,3302.0 L3745.7,3314.8 L3732.8,3346.9 L3720.0,3356.5 L3726.4,3359.7 L3784.2,3391.8 L3848.4,3430.3 L3893.3,3456.0 L3861.2,3488.1 L3848.4,3520.2 L3816.3,3513.8 L3784.2,3507.3 L3752.1,3513.8 L3720.0,3507.3 M3720.0,2772.5 L3816.3,2775.7 L3819.5,2820.6 L3825.9,2904.0 L3790.6,2897.6 L3752.1,2889.9 L3720.0,2904.0 M442.9,3150.0 L449.3,3175.7 L462.1,3194.9 L487.8,3214.2 L513.5,3227.0 L539.1,3239.9 L558.4,3259.1 L564.8,3284.8 L577.6,3300.8 L603.3,3297.6 L619.4,3284.8 L635.4,3278.4 L638.6,3304.0 L641.8,3329.7 L648.2,3349.0 L680.3,3345.8 L712.4,3339.3 L731.7,3349.0 L738.1,3368.2 L725.3,3387.5 L744.5,3393.9 L763.8,3400.3 L747.7,3406.7 L744.5,3419.6 L757.3,3432.4 L776.6,3451.7 L789.4,3464.5 L795.9,3490.2 L795.9,3515.8 L802.3,3528.7 L828.0,3528.7 L860.0,3525.5 L885.7,3528.7 L898.6,3541.5 L905.0,3554.3 L937.1,3560.8 L962.7,3567.2 L975.6,3573.6 L988.4,3586.4 L1007.7,3592.9 L1033.3,3605.7 L1033.3,3624.9 L1052.6,3637.8 L1091.1,3650.6 L1123.2,3666.7 L1155.3,3637.8 L1174.5,3615.3 L1219.5,3599.3 L1240.0,3592.9 M1240.0,3592.9 L1252.8,3573.6 L1265.7,3535.1 L1272.1,3509.4 L1304.2,3496.6 L1336.3,3470.9 L1323.4,3445.2 L1349.1,3413.1 L1374.8,3419.6 L1400.5,3426.0 L1413.3,3413.1 L1419.7,3381.1 L1416.5,3342.5 L1426.1,3310.5 L1451.8,3297.6 L1464.6,3278.4 L1490.3,3288.0 L1471.1,3304.0 L1477.5,3342.5 L1483.9,3381.1 L1503.1,3400.3 L1516.0,3419.6 L1541.7,3445.2 L1573.7,3477.3 L1593.0,3515.8 L1612.3,3560.8 L1631.5,3592.9 L1657.2,3576.8 L1689.3,3570.4 L1702.1,3592.9 L1625.1,3631.4 L1573.7,3657.0 L1548.1,3663.5 L1522.4,3682.7 L1509.6,3702.0 L1522.4,3714.8 L1541.7,3721.2 L1554.5,3734.1 L1548.1,3740.5 L1573.7,3756.5 L1580.2,3762.9 L1541.7,3759.7 L1509.6,3759.7 L1503.1,3779.0 L1516.0,3798.2 L1509.6,3830.3 L1464.6,3849.6 L1451.8,3888.1 L1442.2,3949.7 M1240.0,3920.2 L1265.7,3913.8 L1278.5,3933.0 L1284.9,3949.7 M2170.6,3150.0 L2189.9,3201.3 L2222.0,3220.6 L2254.1,3265.5 L2260.5,3297.6 L2279.8,3329.7 L2318.3,3336.1 L2356.8,3355.4 L2395.3,3342.5 L2433.8,3336.1 L2480.0,3323.3 M2762.4,3550.0 L2781.7,3578.9 L2839.4,3585.3 L2877.9,3594.9 L2903.6,3614.2 L2910.0,3646.3 L2916.4,3678.4 L2910.0,3716.9 L2903.6,3749.0 L2890.8,3768.2 L2871.5,3793.9 L2858.7,3826.0 L2845.8,3851.7 L2839.4,3877.3 L2865.1,3883.7 L2903.6,3870.9 L2935.7,3845.2 L2954.9,3838.8 L2974.2,3851.7 L3006.3,3845.2 L3044.8,3826.0 L3070.5,3813.1 L3096.1,3800.3 L3109.0,3768.2 L3115.4,3742.5 L3121.8,3729.7 L3153.9,3716.9 L3186.0,3704.0 L3218.1,3697.6 L3250.2,3704.0 L3263.0,3716.9 L3288.7,3723.3 L3314.4,3710.5 L3346.5,3684.8 L3372.1,3659.1 L3391.4,3639.9 L3404.2,3607.8 L3429.9,3594.9 L3442.7,3569.3 L3439.5,3550.0 M2480.0,4130.8 L2492.8,4127.6 L2518.5,4146.9 L2537.8,4127.6 L2544.2,4102.0 L2569.9,4089.1 L2582.7,4063.5 L2576.3,4024.9 L2557.0,3992.9 L2550.6,3976.8 L2582.7,3960.8 L2608.4,3928.7 L2646.9,3899.8 L2672.5,3870.9 L2691.8,3832.4 L2723.9,3842.0 L2749.6,3851.7 L2762.4,3870.9 L2775.2,3909.4 L2781.7,3922.3 L2800.9,3903.0 L2820.2,3883.7 L2839.4,3877.3 L2845.8,3909.4 L2839.4,3947.9 L2852.3,3967.2 L2890.8,3986.4 L2929.3,4012.1 L2967.8,4037.8 L2980.6,4063.5 L2993.5,4089.1 L3012.7,4114.8 L3025.5,4146.9 L3044.8,4179.0 L3070.5,4198.2 L3090.4,4216.2 L3057.6,4230.3 L3036.5,4241.2 L2999.9,4256.0 L2995.4,4282.3 L3012.7,4294.5 L3024.3,4319.5 L3057.6,4300.9 L3086.5,4282.3 L3123.7,4307.3 L3144.3,4365.1 L3156.5,4386.3 L3214.9,4373.5 L3264.3,4352.9 L3306.0,4336.2 L3281.0,4361.3 L3252.1,4402.3 L3235.4,4423.5 L3239.3,4439.6 L3256.0,4447.9 L3277.1,4427.4 L3293.2,4456.3 L3363.8,4460.7 L3405.5,4427.4 L3458.8,4381.8 L3488.3,4348.4 L3496.0,4327.9 L3554.4,4336.2 L3578.8,4356.8 L3628.9,4381.8 L3645.5,4388.2 L3669.9,4356.8 L3686.6,4315.7 L3700.1,4290.7 L3720.0,4281.7 L3763.6,4292.6 L3827.8,4307.3 L3885.6,4318.3 L3904.8,4275.3 L3924.1,4241.2 L3904.8,4217.5 L3885.6,4177.1 L3898.4,4048.7 L3892.0,3909.4 L3892.0,3845.2 L3884.9,3792.0 L3908.1,3752.8 L3905.5,3740.0 L3871.5,3701.5 L3840.7,3672.6 L3838.1,3664.9 L3786.1,3644.3 L3745.0,3610.3 L3729.6,3584.7 L3716.1,3553.9 L3705.9,3530.7 L3698.2,3507.0 L3720.0,3507.6 M1284.9,3950.0 L1304.2,3962.8 L1336.3,3975.7 L1368.4,3982.1 L1406.9,3969.3 L1442.2,3950.0 M1240.0,3920.5 L1206.6,3953.2 L1240.0,3988.5 L1304.2,4007.8 L1368.4,4014.2 L1387.6,4020.6 L1323.4,4071.9 L1329.9,4084.8 L1368.4,4091.2 L1381.2,4136.1 L1419.7,4161.8 L1432.5,4193.9 L1464.6,4193.9 L1509.6,4206.7 L1535.2,4226.0 L1554.5,4258.1 L1548.1,4283.7 L1599.4,4296.6 L1637.9,4309.4 L1663.6,4328.7 L1650.8,4347.9 L1644.3,4367.2 L1625.1,4399.3 L1586.6,4412.1 L1560.9,4424.9 L1528.8,4437.8 L1509.6,4450.6 L1496.7,4469.9 L1483.9,4463.5 L1458.2,4495.5 L1432.5,4514.8 L1406.9,4566.1 L1400.5,4591.8 L1413.3,4585.4 L1439.0,4566.1 L1464.6,4553.3 L1496.7,4534.1 L1528.8,4514.8 L1560.9,4502.0 L1593.0,4482.7 L1625.1,4450.6 L1631.5,4424.9 L1644.3,4437.8 L1657.2,4457.0 L1689.3,4450.6 L1708.5,4457.0 L1714.9,4476.3 L1721.4,4502.0 L1714.9,4527.6 L1708.5,4553.3 L1714.9,4585.4 L1727.8,4579.0 L1740.6,4553.3 L1766.3,4540.5 L1792.0,4524.4 L1798.4,4534.1 L1836.9,4553.3 L1856.1,4566.1 L1875.4,4566.1 L1894.7,4540.5 L1920.3,4537.3 L1933.2,4566.1 L1946.0,4604.7 L1958.8,4643.2 L1971.7,4675.3 L1997.3,4688.1 L2035.9,4694.5 L2048.7,4707.3 L2061.5,4700.9 L2055.1,4656.0 L2061.5,4623.9 L2068.0,4591.8 L2074.4,4553.3 L2087.2,4514.8 L2106.5,4495.5 L2138.6,4482.7 L2164.2,4489.1 L2183.5,4514.8 L2202.7,4508.4 L2228.4,4476.3 L2247.7,4457.0 L2266.9,4424.9 L2292.6,4418.5 L2311.8,4424.9 L2331.1,4412.1 L2369.6,4392.9 L2382.4,4373.6 L2395.3,4335.1 L2401.7,4309.4 L2421.0,4270.9 L2433.8,4238.8 L2433.8,4206.7 L2446.6,4174.6 L2459.5,4168.2 L2480.0,4155.4" fill="none" stroke="#232323" stroke-width="7.5" stroke-linejoin="round" stroke-linecap="round"/>
<g id="circles" fill="none" stroke="#0a0a0a" stroke-width="4.4">
<circle cx="473.7" cy="1915.8" r="21.8"/>
<circle cx="750.9" cy="1792.6" r="109.1"/>
<circle cx="1034.6" cy="1769.5" r="30.2"/>
<circle cx="1205.3" cy="1761.8" r="21.8"/>
<circle cx="961.4" cy="2109.7" r="72.5"/>
<circle cx="440.3" cy="2193.7" r="21.8"/>
<circle cx="736.2" cy="2240.0" r="14.8"/>
<circle cx="1113.6" cy="2259.2" r="21.8"/>
<circle cx="1231.0" cy="2023.7" r="16.0"/>
<circle cx="1368.4" cy="1777.8" r="21.8"/>
<circle cx="1682.9" cy="1921.0" r="49.4"/>
<circle cx="1852.9" cy="2023.0" r="41.1"/>
<circle cx="2029.4" cy="2109.7" r="37.9"/>
<circle cx="1580.2" cy="2225.2" r="49.4"/>
<circle cx="2252.8" cy="2244.5" r="57.8"/>
<circle cx="1978.1" cy="2327.9" r="35.3"/>
<circle cx="2528.1" cy="2240.1" r="134.8"/>
<circle cx="2743.1" cy="2296.6" r="27.0"/>
<circle cx="3038.4" cy="2342.8" r="41.7"/>
<circle cx="3277.1" cy="2294.7" r="21.2"/>
<circle cx="3363.1" cy="2365.9" r="34.0"/>
<circle cx="3526.2" cy="2327.4" r="96.3"/>
<circle cx="3643.0" cy="2430.1" r="43.6"/>
<circle cx="3468.4" cy="2541.8" r="62.9"/>
<circle cx="3213.0" cy="2554.6" r="16.0"/>
<circle cx="2645.6" cy="2481.4" r="46.2"/>
<circle cx="2924.8" cy="2583.5" r="27.0"/>
<circle cx="2712.3" cy="2647.7" r="16.0"/>
<circle cx="3766.2" cy="2357.6" r="70.6"/>
<circle cx="3843.9" cy="2439.1" r="27.6"/>
<circle cx="4132.7" cy="2373.6" r="86.6"/>
<circle cx="4405.5" cy="2430.1" r="62.9"/>
<circle cx="4004.3" cy="2562.9" r="31.4"/>
<circle cx="4241.8" cy="2555.2" r="27.0"/>
<circle cx="4403.5" cy="2629.0" r="38.5"/>
<circle cx="3745.7" cy="2693.2" r="26.3"/>
<circle cx="4265.5" cy="2723.4" r="22.5"/>
<circle cx="535.9" cy="2693.4" r="151.5"/>
<circle cx="783.0" cy="2428.3" r="27.0"/>
<circle cx="1084.7" cy="2537.4" r="15.4"/>
<circle cx="1182.9" cy="2943.7" r="15.4"/>
<circle cx="1555.8" cy="2602.2" r="111.0"/>
<circle cx="1290.1" cy="2682.5" r="16.0"/>
<circle cx="1446.7" cy="2855.1" r="22.5"/>
<circle cx="1753.5" cy="2747.9" r="22.5"/>
<circle cx="1899.8" cy="2538.1" r="35.3"/>
<circle cx="2192.5" cy="2568.2" r="43.6"/>
<circle cx="2373.5" cy="2420.6" r="43.6"/>
<circle cx="2427.4" cy="2693.4" r="56.5"/>
<circle cx="1775.9" cy="2887.8" r="30.8"/>
<circle cx="1897.9" cy="2896.8" r="21.8"/>
<circle cx="2077.6" cy="2820.5" r="30.8"/>
<circle cx="2197.6" cy="2929.6" r="56.5"/>
<circle cx="2403.0" cy="2953.3" r="30.8"/>
<circle cx="1935.1" cy="3072.0" r="30.8"/>
<circle cx="2566.6" cy="2806.5" r="30.8"/>
<circle cx="2743.1" cy="2811.0" r="43.6"/>
<circle cx="2616.1" cy="2907.2" r="27.0"/>
<circle cx="2757.3" cy="3049.1" r="55.8"/>
<circle cx="2537.8" cy="3095.3" r="22.5"/>
<circle cx="2894.0" cy="3181.9" r="21.8"/>
<circle cx="3026.8" cy="3160.8" r="51.3"/>
<circle cx="3196.9" cy="3103.0" r="68.0"/>
<circle cx="3128.2" cy="2791.1" r="143.1"/>
<circle cx="2942.1" cy="2884.8" r="308.1"/>
<circle cx="3340.0" cy="2767.3" r="78.9"/>
<circle cx="3455.6" cy="2875.2" r="44.9"/>
<circle cx="3635.3" cy="2796.9" r="30.8"/>
<circle cx="3478.0" cy="2971.4" r="35.3"/>
<circle cx="3444.0" cy="3070.9" r="27.6"/>
<circle cx="3296.4" cy="3318.0" r="57.8"/>
<circle cx="3521.0" cy="3296.8" r="35.3"/>
<circle cx="3535.8" cy="3438.0" r="28.2"/>
<circle cx="3341.3" cy="3468.8" r="38.5"/>
<circle cx="3070.5" cy="3398.2" r="16.0"/>
<circle cx="2736.7" cy="3356.5" r="22.5"/>
<circle cx="2622.5" cy="3258.3" r="41.7"/>
<circle cx="3917.7" cy="2894.4" r="134.8"/>
<circle cx="4220.6" cy="2902.8" r="67.4"/>
<circle cx="3872.1" cy="3197.3" r="64.2"/>
<circle cx="4523.6" cy="2956.7" r="49.4"/>
<circle cx="4718.0" cy="2836.6" r="41.1"/>
<circle cx="3753.4" cy="3444.5" r="27.0"/>
<circle cx="1049.4" cy="3422.8" r="70.6"/>
<circle cx="630.9" cy="3137.2" r="37.2"/>
<circle cx="937.1" cy="3174.4" r="27.0"/>
<circle cx="1379.3" cy="3286.7" r="30.8"/>
<circle cx="1700.2" cy="3260.4" r="128.4"/>
<circle cx="2159.7" cy="3359.9" r="75.1"/>
<circle cx="2433.8" cy="3267.5" r="27.0"/>
<circle cx="2453.0" cy="3403.5" r="35.3"/>
<circle cx="1681.6" cy="3758.4" r="22.5"/>
<circle cx="2028.2" cy="3675.0" r="91.1"/>
<circle cx="2289.4" cy="3684.0" r="50.1"/>
<circle cx="2560.2" cy="3689.9" r="56.5"/>
<circle cx="2788.1" cy="3722.0" r="22.5"/>
<circle cx="3004.4" cy="3622.5" r="62.9"/>
<circle cx="3333.6" cy="3587.2" r="27.0"/>
<circle cx="3572.4" cy="3652.7" r="55.8"/>
<circle cx="3333.6" cy="3819.6" r="30.8"/>
<circle cx="3092.9" cy="3944.7" r="60.3"/>
<circle cx="3436.3" cy="3973.6" r="109.1"/>
<circle cx="3712.3" cy="3973.6" r="67.4"/>
<circle cx="3219.4" cy="4229.0" r="61.0"/>
<circle cx="3572.4" cy="4286.2" r="30.8"/>
<circle cx="1517.9" cy="4076.4" r="30.8"/>
<circle cx="2082.7" cy="4005.8" r="27.0"/>
<circle cx="2414.5" cy="4018.7" r="37.2"/>
<circle cx="1829.2" cy="4333.8" r="50.1"/>
<circle cx="2206.6" cy="4235.6" r="27.0"/>
<circle cx="2338.8" cy="4282.5" r="21.8"/>
<circle cx="1971.7" cy="4463.5" r="25.7"/>
<circle cx="3370.8" cy="4342.7" r="26.3"/>
</g>
<g id="labels"><text class="lbl" x="511" y="1662" textLength="460" lengthAdjust="spacingAndGlyphs">Grandcamp-Maisy</text><text class="lbl" x="200" y="2509" textLength="376" lengthAdjust="spacingAndGlyphs">Isigny-sur-Mer</text><text class="lbl" x="1447" y="2725" textLength="238" lengthAdjust="spacingAndGlyphs">Trévières</text><text class="lbl" x="2400" y="2078" textLength="605" lengthAdjust="spacingAndGlyphs">Port-en-Bessin-Huppain</text><text class="lbl" x="2849" y="2939" textLength="186" lengthAdjust="spacingAndGlyphs">Bayeux</text><text class="lbl" x="3700" y="3016" textLength="471" lengthAdjust="spacingAndGlyphs">Creully sur Seulles</text><text class="lbl" x="595" y="3228" textLength="132" lengthAdjust="spacingAndGlyphs">Lison</text><text class="lbl" x="1533" y="3416" textLength="380" lengthAdjust="spacingAndGlyphs">Le Molay-Littry</text><text class="lbl" x="1777" y="3728" textLength="498" lengthAdjust="spacingAndGlyphs">Balleroy-sur-Drôme</text><text class="lbl" x="3473" y="3782" textLength="196" lengthAdjust="spacingAndGlyphs">Audrieu</text><text class="lbl" x="3235" y="4026" textLength="402" lengthAdjust="spacingAndGlyphs">Tilly-sur-Seulles</text></g>

<!-- title bar -->
<rect x="0" y="0" width="4960" height="306" fill="#8a96ae"/>
<text x="74" y="203" font-family="DejaVu Sans, sans-serif" font-weight="bold" font-size="130" fill="#ffffff" textLength="3468" lengthAdjust="spacingAndGlyphs">Commerces et services de la gamme de proximité</text>

<!-- legend -->
<rect x="2167" y="311" width="2860" height="1021" rx="18" ry="18" fill="#e0e0e0"/>
<g class="leg" font-weight="bold" font-size="80.5">
<text x="2236" y="453.7">Nombre d'équipements</text>
<text x="2236" y="553.5">de la gamme de proximité</text>
<text x="2236" y="652">en 2019</text>
<text x="3286" y="453.7">Densité d'équipements de la gamme</text>
<text x="3286" y="553.5">de proximité pour 1 000 habitants en 2019</text>
</g>
<g fill="none" stroke="#222" stroke-width="3.6">
<circle cx="2457" cy="962.7" r="222.5"/>
<circle cx="2457" cy="1028.5" r="157"/>
<circle cx="2457" cy="1135" r="50"/>
</g>
<g stroke="#222" stroke-width="1.3">
<line x1="2457" y1="740.2" x2="2727.5" y2="740.2"/>
<line x1="2457" y1="871" x2="2727.5" y2="871"/>
<line x1="2457" y1="1086.2" x2="2727.5" y2="1086.2"/>
</g>
<g class="leg" font-size="73.5">
<text x="2750" y="766">200</text>
<text x="2750" y="897.5">100</text>
<text x="2750" y="1112">10</text>
<text x="3519" y="674.7">moins de 7</text>
<text x="3519" y="815.2">entre 7 et 14</text>
<text x="3519" y="957.6">entre 14 et 25</text>
<text x="3519" y="1098.1">plus de 25</text>
<text x="3519" y="1240.6">absence d'équipements de proximité</text>
</g>
<g stroke="#f8f8f8" stroke-width="5.5">
<rect x="3284.3" y="599.9" width="164.4" height="93.6" rx="4" fill="#d3e4f5"/>
<rect x="3284.3" y="742.3" width="164.4" height="93.6" rx="4" fill="#abc9e6"/>
<rect x="3284.3" y="884.2" width="164.4" height="93.6" rx="4" fill="#6f9fcc"/>
<rect x="3284.3" y="1025" width="164.4" height="93.6" rx="4" fill="#4873a5"/>
<rect x="3284.3" y="1167.5" width="164.4" height="93.6" rx="4" fill="#b3b3b3"/>
</g>

<!-- north arrow -->
<polygon points="85.4,4307.8 25.6,4717.8 85.4,4632.4" fill="#fff" stroke="#000" stroke-width="3.5" stroke-linejoin="miter"/>
<polygon points="85.4,4307.8 148,4717.8 85.4,4632.4" fill="#000" stroke="#000" stroke-width="3.5"/>
<text x="85.4" y="4283" text-anchor="middle" font-family="DejaVu Sans, sans-serif" font-weight="bold" font-size="44">N</text>

<!-- scale bar -->
<path d="M89.4,4840 V4914 H998 V4840 M316,4840 V4914 M544,4840 V4914 M770,4840 V4914" fill="none" stroke="#000" stroke-width="7.5" stroke-linecap="butt"/>
<g font-family="DejaVu Sans Condensed, sans-serif" font-size="68" fill="#000">
<text x="78.6" y="4772" textLength="21" lengthAdjust="spacingAndGlyphs">0</text>
<text x="281.9" y="4772" textLength="66.6" lengthAdjust="spacingAndGlyphs">2.5</text>
<text x="532.4" y="4772" textLength="21" lengthAdjust="spacingAndGlyphs">5</text>
<text x="739" y="4772" textLength="61" lengthAdjust="spacingAndGlyphs">7.5</text>
<text x="976.5" y="4772" textLength="116.7" lengthAdjust="spacingAndGlyphs">10 km</text>
</g>

<!-- logo -->
<rect x="4390" y="4569" width="331" height="342" fill="#8a94b4"/>
<g fill="none" stroke="#fbfbfd" stroke-linecap="round" stroke-linejoin="round">
<path d="M4418,4584 L4440,4596 L4525,4602 L4615,4601 L4684,4591" stroke-width="10"/>
<path d="M4679,4596 L4661,4629 L4646,4665 L4637,4701 L4630,4736" stroke-width="6"/>
<path d="M4434,4580 L4438,4614 L4445,4651 L4456,4687 L4474,4723 L4507,4756 L4552,4776 L4597,4781 L4637,4776" stroke-width="7"/>
<path d="M4431,4669 L4443,4701 L4462,4727 L4489,4747" stroke-width="4"/>
<path d="M4573,4650 A39,39 0 1 0 4580,4703" stroke-width="7"/>
<path d="M4481,4613 L4514,4649 M4599,4620 L4570,4651 M4467,4707 L4507,4692 M4543,4719 L4548,4761 M4585,4669 L4632,4723" stroke-width="6"/>
<path d="M4525,4647 L4567,4654 L4585,4678 L4579,4701 L4552,4705" stroke-width="4"/>
</g>
<text x="4406" y="4849" font-family="DejaVu Sans, sans-serif" font-weight="200" font-size="65" fill="#fff" textLength="300" lengthAdjust="spacingAndGlyphs">AUCAME</text>
<text x="4406" y="4894" font-family="DejaVu Sans, sans-serif" font-weight="200" font-size="33" fill="#fff" textLength="301" lengthAdjust="spacingAndGlyphs">Caen Normandie</text>

<!-- sources -->
<g class="leg" font-size="74.8">
<text transform="translate(4809,4907) rotate(-90)">Sources : Aucame 2020, INSEE BPE 2019</text>
<text transform="translate(4894,4907) rotate(-90)">Réalisation : Aucame 2020</text>
</g>
</svg>
</body></html>
